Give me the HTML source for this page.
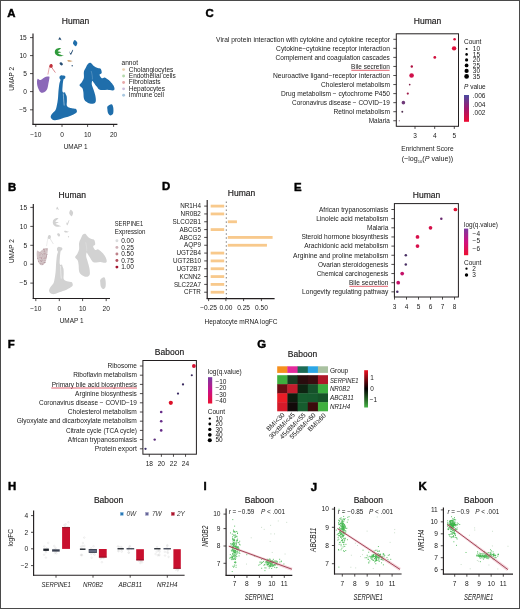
<!DOCTYPE html><html><head><meta charset="utf-8"><style>html,body{margin:0;padding:0;background:#fff;overflow:hidden}svg{display:block;will-change:transform}text{font-family:"Liberation Sans",sans-serif}</style></head><body>
<svg width="520" height="609" viewBox="0 0 520 609">
<rect x="0" y="0" width="520" height="609" fill="#fff"/>
<text x="7.30" y="16.50" font-size="11.4" text-anchor="start" fill="#000" font-weight="bold" stroke="#000" stroke-width="0.45">A</text>
<text x="75.50" y="23.70" font-size="8.5" text-anchor="middle" fill="#1a1a1a" stroke="#231f20" stroke-width="0.18">Human</text>
<g><path d="M59.60,76.50 C59.88,75.95 60.65,75.35 61.30,75.20 C61.95,75.05 62.83,75.42 63.50,75.60 C64.17,75.78 65.05,75.83 65.30,76.30 C65.55,76.77 65.28,77.92 65.00,78.40 C64.72,78.88 63.93,78.60 63.60,79.20 C63.27,79.80 63.17,80.87 63.00,82.00 C62.83,83.13 62.70,84.50 62.60,86.00 C62.50,87.50 62.25,89.90 62.40,91.00 C62.55,92.10 63.08,92.40 63.50,92.60 C63.92,92.80 64.55,91.97 64.90,92.20 C65.25,92.43 65.30,93.28 65.60,94.00 C65.90,94.72 66.48,95.33 66.70,96.50 C66.92,97.67 66.88,99.50 66.90,101.00 C66.92,102.50 66.45,104.42 66.80,105.50 C67.15,106.58 68.13,107.05 69.00,107.50 C69.87,107.95 70.92,107.98 72.00,108.20 C73.08,108.42 74.70,108.42 75.50,108.80 C76.30,109.18 76.63,109.87 76.80,110.50 C76.97,111.13 77.05,111.93 76.50,112.60 C75.95,113.27 74.58,113.93 73.50,114.50 C72.42,115.07 71.25,115.53 70.00,116.00 C68.75,116.47 67.33,116.88 66.00,117.30 C64.67,117.72 63.33,118.08 62.00,118.50 C60.67,118.92 59.25,119.52 58.00,119.80 C56.75,120.08 55.50,120.30 54.50,120.20 C53.50,120.10 52.63,119.70 52.00,119.20 C51.37,118.70 50.83,117.90 50.70,117.20 C50.57,116.50 50.78,115.77 51.20,115.00 C51.62,114.23 52.50,113.40 53.20,112.60 C53.90,111.80 54.85,111.13 55.40,110.20 C55.95,109.27 56.15,108.37 56.50,107.00 C56.85,105.63 57.23,103.67 57.50,102.00 C57.77,100.33 57.95,98.67 58.10,97.00 C58.25,95.33 58.27,93.67 58.40,92.00 C58.53,90.33 58.72,88.50 58.90,87.00 C59.08,85.50 59.23,84.17 59.50,83.00 C59.77,81.83 60.48,80.75 60.50,80.00 C60.52,79.25 59.75,79.08 59.60,78.50 C59.45,77.92 59.32,77.05 59.60,76.50Z" fill="#1f6eab"/>
<path d="M87.90,63.90 C88.72,63.13 89.82,62.57 90.80,62.90 C91.78,63.23 92.65,65.07 93.80,65.90 C94.95,66.73 96.55,67.42 97.70,67.90 C98.85,68.38 100.03,67.95 100.70,68.80 C101.37,69.65 101.90,72.00 101.70,73.00 C101.50,74.00 99.50,73.93 99.50,74.80 C99.50,75.67 100.85,77.75 101.70,78.20 C102.55,78.65 103.62,77.33 104.60,77.50 C105.58,77.67 106.62,78.50 107.60,79.20 C108.58,79.90 109.52,80.63 110.50,81.70 C111.48,82.77 112.83,84.33 113.50,85.60 C114.17,86.87 114.67,88.48 114.50,89.30 C114.33,90.12 113.65,90.42 112.50,90.50 C111.35,90.58 109.23,89.87 107.60,89.80 C105.97,89.73 104.10,90.13 102.70,90.10 C101.30,90.07 100.20,90.18 99.20,89.60 C98.20,89.02 97.60,87.75 96.70,86.60 C95.80,85.45 94.53,83.68 93.80,82.70 C93.07,81.72 92.63,80.38 92.30,80.70 C91.97,81.02 91.60,83.12 91.80,84.60 C92.00,86.08 92.92,87.78 93.50,89.60 C94.08,91.42 94.92,93.57 95.30,95.50 C95.68,97.43 96.05,99.88 95.80,101.20 C95.55,102.52 94.80,103.03 93.80,103.40 C92.80,103.77 91.12,103.73 89.80,103.40 C88.48,103.07 86.88,102.23 85.90,101.40 C84.92,100.57 84.32,99.88 83.90,98.40 C83.48,96.92 83.65,94.20 83.40,92.50 C83.15,90.80 83.05,89.42 82.40,88.20 C81.75,86.98 79.58,86.23 79.50,85.20 C79.42,84.17 81.17,83.25 81.90,82.00 C82.63,80.75 83.57,79.40 83.90,77.70 C84.23,76.00 83.57,73.50 83.90,71.80 C84.23,70.10 85.23,68.82 85.90,67.50 C86.57,66.18 87.08,64.67 87.90,63.90Z" fill="#1f6eab"/>
<path d="M107.60,106.30 C108.28,105.45 110.57,104.03 111.50,104.20 C112.43,104.37 112.92,105.80 113.20,107.30 C113.48,108.80 113.65,111.85 113.20,113.20 C112.75,114.55 111.35,115.40 110.50,115.40 C109.65,115.40 108.62,114.22 108.10,113.20 C107.58,112.18 107.48,110.45 107.40,109.30 C107.32,108.15 106.92,107.15 107.60,106.30Z" fill="#1f6eab"/>
<path d="M74.80,40.00 C75.35,40.05 76.38,41.22 76.80,41.80 C77.22,42.38 77.43,42.77 77.30,43.50 C77.17,44.23 76.47,45.87 76.00,46.20 C75.53,46.53 75.00,45.95 74.50,45.50 C74.00,45.05 73.17,44.17 73.00,43.50 C72.83,42.83 73.20,42.08 73.50,41.50 C73.80,40.92 74.25,39.95 74.80,40.00Z" fill="#1f6eab"/>
<path d="M58.50,39.80 C58.47,39.43 59.32,37.23 59.80,37.30 C60.28,37.37 61.37,39.83 61.40,40.20 C61.43,40.57 60.48,39.57 60.00,39.50 C59.52,39.43 58.53,40.17 58.50,39.80Z" fill="#264d73"/>
<path d="M69.30,50.90 C69.40,50.83 69.97,53.33 70.50,53.20 C71.03,53.07 72.07,50.58 72.50,50.10 C72.93,49.62 73.33,49.53 73.10,50.30 C72.87,51.07 71.63,54.15 71.10,54.70 C70.57,55.25 70.20,54.23 69.90,53.60 C69.60,52.97 69.20,50.97 69.30,50.90Z" fill="#264d73"/>
<path d="M59.60,63.00 C59.78,62.60 60.95,62.23 61.50,62.40 C62.05,62.57 62.85,63.47 62.90,64.00 C62.95,64.53 62.22,65.47 61.80,65.60 C61.38,65.73 60.77,65.23 60.40,64.80 C60.03,64.37 59.42,63.40 59.60,63.00Z" fill="#264d73"/>
<circle cx="72.2" cy="65.8" r="0.7" fill="#264d73"/>
<path d="M63.3,93.5 C63.5,97 63.7,101 64.2,105.5" stroke="#fff" stroke-width="0.55" fill="none" opacity="0.9"/>
<path d="M91.2,71 C92,74 92.6,77 92.4,79.5" stroke="#fff" stroke-width="0.4" fill="none" opacity="0.5"/>
<path d="M61.20,48.50 C61.19,48.37 59.85,47.89 59.50,47.90 C59.15,47.91 57.36,48.42 57.00,48.60 C56.64,48.78 55.38,49.78 55.20,50.10 C55.02,50.42 54.76,52.02 54.80,52.40 C54.84,52.77 55.44,54.29 55.70,54.60 C55.96,54.91 57.50,55.96 57.90,56.10 C58.30,56.24 60.01,56.32 60.50,56.30 C60.99,56.27 63.72,55.92 63.80,55.80 C63.88,55.68 61.77,55.03 61.40,54.90 C61.03,54.77 59.69,54.33 59.40,54.20 C59.11,54.07 57.74,53.47 57.90,53.30 C58.06,53.13 61.27,52.34 61.30,52.20 C61.32,52.06 58.50,51.71 58.20,51.60 C57.90,51.49 57.58,51.07 57.70,50.90 C57.82,50.73 59.31,49.70 59.60,49.50 C59.89,49.30 61.21,48.63 61.20,48.50Z" fill="#2e9a3a"/>
<path d="M67.30,60.60 C67.38,60.33 68.42,60.12 69.00,60.10 C69.58,60.08 70.20,60.33 70.80,60.50 C71.40,60.67 72.60,60.90 72.60,61.10 C72.60,61.30 71.48,61.60 70.80,61.70 C70.12,61.80 69.08,61.88 68.50,61.70 C67.92,61.52 67.22,60.87 67.30,60.60Z" fill="#d0a070"/>
<path d="M37.60,78.90 C38.05,78.60 39.05,80.00 39.70,80.10 C40.35,80.20 40.72,79.95 41.50,79.50 C42.28,79.05 43.42,77.90 44.40,77.40 C45.38,76.90 46.57,76.60 47.40,76.50 C48.23,76.40 49.12,76.20 49.40,76.80 C49.68,77.40 49.30,78.77 49.10,80.10 C48.90,81.43 48.48,83.42 48.20,84.80 C47.92,86.18 47.83,87.32 47.40,88.40 C46.97,89.48 46.40,90.57 45.60,91.30 C44.80,92.03 43.48,92.70 42.60,92.80 C41.72,92.90 40.98,92.55 40.30,91.90 C39.62,91.25 39.00,89.98 38.50,88.90 C38.00,87.82 37.55,86.57 37.30,85.40 C37.05,84.23 36.95,82.98 37.00,81.90 C37.05,80.82 37.15,79.20 37.60,78.90Z" fill="#8b68b8"/>
<path d="M47.9,74.6 C48.6,71 49,68 49.8,66.2" stroke="#c0303a" stroke-width="0.6" fill="none" opacity="0.7"/>
<path d="M51.6,67.2 C52.8,69 54,70.8 55.4,72.6" stroke="#c0303a" stroke-width="0.7" fill="none" opacity="0.8"/>
<path d="M49.30,66.80 C49.15,66.27 49.58,65.07 49.90,64.60 C50.22,64.13 50.75,63.93 51.20,64.00 C51.65,64.07 52.40,64.47 52.60,65.00 C52.80,65.53 52.70,66.73 52.40,67.20 C52.10,67.67 51.32,67.87 50.80,67.80 C50.28,67.73 49.45,67.33 49.30,66.80Z" fill="#c0303a"/></g>
<line x1="33.00" y1="33.50" x2="33.00" y2="124.80" stroke="#231f20" stroke-width="1.15" />
<line x1="32.50" y1="124.30" x2="117.40" y2="124.30" stroke="#231f20" stroke-width="1.15" />
<line x1="30.00" y1="37.60" x2="33.00" y2="37.60" stroke="#231f20" stroke-width="0.8" />
<text x="26.80" y="39.88" font-size="6.6" text-anchor="end" fill="#1a1a1a" >15</text>
<line x1="30.00" y1="55.60" x2="33.00" y2="55.60" stroke="#231f20" stroke-width="0.8" />
<text x="26.80" y="57.88" font-size="6.6" text-anchor="end" fill="#1a1a1a" >10</text>
<line x1="30.00" y1="73.60" x2="33.00" y2="73.60" stroke="#231f20" stroke-width="0.8" />
<text x="26.80" y="75.88" font-size="6.6" text-anchor="end" fill="#1a1a1a" >5</text>
<line x1="30.00" y1="91.60" x2="33.00" y2="91.60" stroke="#231f20" stroke-width="0.8" />
<text x="26.80" y="93.88" font-size="6.6" text-anchor="end" fill="#1a1a1a" >0</text>
<line x1="30.00" y1="109.80" x2="33.00" y2="109.80" stroke="#231f20" stroke-width="0.8" />
<text x="26.80" y="112.08" font-size="6.6" text-anchor="end" fill="#1a1a1a" >−5</text>
<line x1="35.80" y1="124.30" x2="35.80" y2="126.90" stroke="#231f20" stroke-width="0.8" />
<text x="35.80" y="136.70" font-size="6.6" text-anchor="middle" fill="#1a1a1a" >−10</text>
<line x1="62.00" y1="124.30" x2="62.00" y2="126.90" stroke="#231f20" stroke-width="0.8" />
<text x="62.00" y="136.70" font-size="6.6" text-anchor="middle" fill="#1a1a1a" >0</text>
<line x1="87.60" y1="124.30" x2="87.60" y2="126.90" stroke="#231f20" stroke-width="0.8" />
<text x="87.60" y="136.70" font-size="6.6" text-anchor="middle" fill="#1a1a1a" >10</text>
<line x1="113.60" y1="124.30" x2="113.60" y2="126.90" stroke="#231f20" stroke-width="0.8" />
<text x="113.60" y="136.70" font-size="6.6" text-anchor="middle" fill="#1a1a1a" >20</text>
<text x="75.60" y="148.80" font-size="7.5" text-anchor="middle" fill="#1a1a1a" textLength="23.8" lengthAdjust="spacingAndGlyphs">UMAP 1</text>
<text transform="translate(13.9,78.8) rotate(-90)" font-size="7.5" text-anchor="middle" fill="#1a1a1a" textLength="23.8" lengthAdjust="spacingAndGlyphs">UMAP 2</text>
<text x="121.50" y="65.00" font-size="6.5" text-anchor="start" fill="#1a1a1a" textLength="16.5" lengthAdjust="spacingAndGlyphs">annot</text>
<circle cx="123.60" cy="69.60" r="1.45" fill="#ecd3b3" />
<text x="128.80" y="71.60" font-size="6.5" text-anchor="start" fill="#1a1a1a" >Cholangiocytes</text>
<circle cx="123.60" cy="76.02" r="1.45" fill="#b5d9ad" />
<text x="128.80" y="78.02" font-size="6.5" text-anchor="start" fill="#1a1a1a" >Endothelial cells</text>
<circle cx="123.60" cy="82.44" r="1.45" fill="#e7a9aa" />
<text x="128.80" y="84.44" font-size="6.5" text-anchor="start" fill="#1a1a1a" >Fibroblasts</text>
<circle cx="123.60" cy="88.86" r="1.45" fill="#cbbddc" />
<text x="128.80" y="90.86" font-size="6.5" text-anchor="start" fill="#1a1a1a" >Hepatocytes</text>
<circle cx="123.60" cy="95.28" r="1.45" fill="#a9c7df" />
<text x="128.80" y="97.28" font-size="6.5" text-anchor="start" fill="#1a1a1a" >Immune cell</text>
<text x="7.90" y="191.10" font-size="11.4" text-anchor="start" fill="#000" font-weight="bold" stroke="#000" stroke-width="0.45">B</text>
<text x="72.30" y="198.00" font-size="8.5" text-anchor="middle" fill="#1a1a1a" stroke="#231f20" stroke-width="0.18">Human</text>
<g transform="translate(59.2,264.2) scale(0.9035,1.053) translate(-61.9,-91.8)"><path d="M59.60,76.50 C59.88,75.95 60.65,75.35 61.30,75.20 C61.95,75.05 62.83,75.42 63.50,75.60 C64.17,75.78 65.05,75.83 65.30,76.30 C65.55,76.77 65.28,77.92 65.00,78.40 C64.72,78.88 63.93,78.60 63.60,79.20 C63.27,79.80 63.17,80.87 63.00,82.00 C62.83,83.13 62.70,84.50 62.60,86.00 C62.50,87.50 62.25,89.90 62.40,91.00 C62.55,92.10 63.08,92.40 63.50,92.60 C63.92,92.80 64.55,91.97 64.90,92.20 C65.25,92.43 65.30,93.28 65.60,94.00 C65.90,94.72 66.48,95.33 66.70,96.50 C66.92,97.67 66.88,99.50 66.90,101.00 C66.92,102.50 66.45,104.42 66.80,105.50 C67.15,106.58 68.13,107.05 69.00,107.50 C69.87,107.95 70.92,107.98 72.00,108.20 C73.08,108.42 74.70,108.42 75.50,108.80 C76.30,109.18 76.63,109.87 76.80,110.50 C76.97,111.13 77.05,111.93 76.50,112.60 C75.95,113.27 74.58,113.93 73.50,114.50 C72.42,115.07 71.25,115.53 70.00,116.00 C68.75,116.47 67.33,116.88 66.00,117.30 C64.67,117.72 63.33,118.08 62.00,118.50 C60.67,118.92 59.25,119.52 58.00,119.80 C56.75,120.08 55.50,120.30 54.50,120.20 C53.50,120.10 52.63,119.70 52.00,119.20 C51.37,118.70 50.83,117.90 50.70,117.20 C50.57,116.50 50.78,115.77 51.20,115.00 C51.62,114.23 52.50,113.40 53.20,112.60 C53.90,111.80 54.85,111.13 55.40,110.20 C55.95,109.27 56.15,108.37 56.50,107.00 C56.85,105.63 57.23,103.67 57.50,102.00 C57.77,100.33 57.95,98.67 58.10,97.00 C58.25,95.33 58.27,93.67 58.40,92.00 C58.53,90.33 58.72,88.50 58.90,87.00 C59.08,85.50 59.23,84.17 59.50,83.00 C59.77,81.83 60.48,80.75 60.50,80.00 C60.52,79.25 59.75,79.08 59.60,78.50 C59.45,77.92 59.32,77.05 59.60,76.50Z" fill="#d2d2d2"/>
<path d="M87.90,63.90 C88.72,63.13 89.82,62.57 90.80,62.90 C91.78,63.23 92.65,65.07 93.80,65.90 C94.95,66.73 96.55,67.42 97.70,67.90 C98.85,68.38 100.03,67.95 100.70,68.80 C101.37,69.65 101.90,72.00 101.70,73.00 C101.50,74.00 99.50,73.93 99.50,74.80 C99.50,75.67 100.85,77.75 101.70,78.20 C102.55,78.65 103.62,77.33 104.60,77.50 C105.58,77.67 106.62,78.50 107.60,79.20 C108.58,79.90 109.52,80.63 110.50,81.70 C111.48,82.77 112.83,84.33 113.50,85.60 C114.17,86.87 114.67,88.48 114.50,89.30 C114.33,90.12 113.65,90.42 112.50,90.50 C111.35,90.58 109.23,89.87 107.60,89.80 C105.97,89.73 104.10,90.13 102.70,90.10 C101.30,90.07 100.20,90.18 99.20,89.60 C98.20,89.02 97.60,87.75 96.70,86.60 C95.80,85.45 94.53,83.68 93.80,82.70 C93.07,81.72 92.63,80.38 92.30,80.70 C91.97,81.02 91.60,83.12 91.80,84.60 C92.00,86.08 92.92,87.78 93.50,89.60 C94.08,91.42 94.92,93.57 95.30,95.50 C95.68,97.43 96.05,99.88 95.80,101.20 C95.55,102.52 94.80,103.03 93.80,103.40 C92.80,103.77 91.12,103.73 89.80,103.40 C88.48,103.07 86.88,102.23 85.90,101.40 C84.92,100.57 84.32,99.88 83.90,98.40 C83.48,96.92 83.65,94.20 83.40,92.50 C83.15,90.80 83.05,89.42 82.40,88.20 C81.75,86.98 79.58,86.23 79.50,85.20 C79.42,84.17 81.17,83.25 81.90,82.00 C82.63,80.75 83.57,79.40 83.90,77.70 C84.23,76.00 83.57,73.50 83.90,71.80 C84.23,70.10 85.23,68.82 85.90,67.50 C86.57,66.18 87.08,64.67 87.90,63.90Z" fill="#d2d2d2"/>
<path d="M107.60,106.30 C108.28,105.45 110.57,104.03 111.50,104.20 C112.43,104.37 112.92,105.80 113.20,107.30 C113.48,108.80 113.65,111.85 113.20,113.20 C112.75,114.55 111.35,115.40 110.50,115.40 C109.65,115.40 108.62,114.22 108.10,113.20 C107.58,112.18 107.48,110.45 107.40,109.30 C107.32,108.15 106.92,107.15 107.60,106.30Z" fill="#d2d2d2"/>
<path d="M74.80,40.00 C75.35,40.05 76.38,41.22 76.80,41.80 C77.22,42.38 77.43,42.77 77.30,43.50 C77.17,44.23 76.47,45.87 76.00,46.20 C75.53,46.53 75.00,45.95 74.50,45.50 C74.00,45.05 73.17,44.17 73.00,43.50 C72.83,42.83 73.20,42.08 73.50,41.50 C73.80,40.92 74.25,39.95 74.80,40.00Z" fill="#d2d2d2"/>
<path d="M58.50,39.80 C58.47,39.43 59.32,37.23 59.80,37.30 C60.28,37.37 61.37,39.83 61.40,40.20 C61.43,40.57 60.48,39.57 60.00,39.50 C59.52,39.43 58.53,40.17 58.50,39.80Z" fill="#d2d2d2"/>
<path d="M69.30,50.90 C69.40,50.83 69.97,53.33 70.50,53.20 C71.03,53.07 72.07,50.58 72.50,50.10 C72.93,49.62 73.33,49.53 73.10,50.30 C72.87,51.07 71.63,54.15 71.10,54.70 C70.57,55.25 70.20,54.23 69.90,53.60 C69.60,52.97 69.20,50.97 69.30,50.90Z" fill="#d2d2d2"/>
<path d="M59.60,63.00 C59.78,62.60 60.95,62.23 61.50,62.40 C62.05,62.57 62.85,63.47 62.90,64.00 C62.95,64.53 62.22,65.47 61.80,65.60 C61.38,65.73 60.77,65.23 60.40,64.80 C60.03,64.37 59.42,63.40 59.60,63.00Z" fill="#d2d2d2"/>
<circle cx="72.2" cy="65.8" r="0.7" fill="#d2d2d2"/>
<path d="M63.3,93.5 C63.5,97 63.7,101 64.2,105.5" stroke="#fff" stroke-width="0.55" fill="none" opacity="0.9"/>
<path d="M91.2,71 C92,74 92.6,77 92.4,79.5" stroke="#fff" stroke-width="0.4" fill="none" opacity="0.5"/>
<path d="M61.20,48.50 C61.19,48.37 59.85,47.89 59.50,47.90 C59.15,47.91 57.36,48.42 57.00,48.60 C56.64,48.78 55.38,49.78 55.20,50.10 C55.02,50.42 54.76,52.02 54.80,52.40 C54.84,52.77 55.44,54.29 55.70,54.60 C55.96,54.91 57.50,55.96 57.90,56.10 C58.30,56.24 60.01,56.32 60.50,56.30 C60.99,56.27 63.72,55.92 63.80,55.80 C63.88,55.68 61.77,55.03 61.40,54.90 C61.03,54.77 59.69,54.33 59.40,54.20 C59.11,54.07 57.74,53.47 57.90,53.30 C58.06,53.13 61.27,52.34 61.30,52.20 C61.32,52.06 58.50,51.71 58.20,51.60 C57.90,51.49 57.58,51.07 57.70,50.90 C57.82,50.73 59.31,49.70 59.60,49.50 C59.89,49.30 61.21,48.63 61.20,48.50Z" fill="#d2d2d2"/>
<path d="M67.30,60.60 C67.38,60.33 68.42,60.12 69.00,60.10 C69.58,60.08 70.20,60.33 70.80,60.50 C71.40,60.67 72.60,60.90 72.60,61.10 C72.60,61.30 71.48,61.60 70.80,61.70 C70.12,61.80 69.08,61.88 68.50,61.70 C67.92,61.52 67.22,60.87 67.30,60.60Z" fill="#d2d2d2"/>
<path d="M37.60,78.90 C38.05,78.60 39.05,80.00 39.70,80.10 C40.35,80.20 40.72,79.95 41.50,79.50 C42.28,79.05 43.42,77.90 44.40,77.40 C45.38,76.90 46.57,76.60 47.40,76.50 C48.23,76.40 49.12,76.20 49.40,76.80 C49.68,77.40 49.30,78.77 49.10,80.10 C48.90,81.43 48.48,83.42 48.20,84.80 C47.92,86.18 47.83,87.32 47.40,88.40 C46.97,89.48 46.40,90.57 45.60,91.30 C44.80,92.03 43.48,92.70 42.60,92.80 C41.72,92.90 40.98,92.55 40.30,91.90 C39.62,91.25 39.00,89.98 38.50,88.90 C38.00,87.82 37.55,86.57 37.30,85.40 C37.05,84.23 36.95,82.98 37.00,81.90 C37.05,80.82 37.15,79.20 37.60,78.90Z" fill="#d3c6c8"/>
<path d="M47.9,74.6 C48.6,71 49,68 49.8,66.2" stroke="#d2d2d2" stroke-width="0.6" fill="none" opacity="0.7"/>
<path d="M51.6,67.2 C52.8,69 54,70.8 55.4,72.6" stroke="#d2d2d2" stroke-width="0.7" fill="none" opacity="0.8"/>
<path d="M49.30,66.80 C49.15,66.27 49.58,65.07 49.90,64.60 C50.22,64.13 50.75,63.93 51.20,64.00 C51.65,64.07 52.40,64.47 52.60,65.00 C52.80,65.53 52.70,66.73 52.40,67.20 C52.10,67.67 51.32,67.87 50.80,67.80 C50.28,67.73 49.45,67.33 49.30,66.80Z" fill="#d2d2d2"/></g>
<circle cx="40.00" cy="257.21" r="0.50" fill="#b4929a" />
<circle cx="41.38" cy="258.16" r="0.50" fill="#c2a8ad" />
<circle cx="44.07" cy="249.55" r="0.50" fill="#aa8a92" />
<circle cx="40.22" cy="252.25" r="0.50" fill="#c2a8ad" />
<circle cx="46.28" cy="256.12" r="0.50" fill="#aa8a92" />
<circle cx="44.21" cy="250.91" r="0.50" fill="#c2a8ad" />
<circle cx="44.17" cy="262.39" r="0.50" fill="#aa8a92" />
<circle cx="42.99" cy="260.36" r="0.50" fill="#c2a8ad" />
<circle cx="44.55" cy="249.52" r="0.50" fill="#c8b0b4" />
<circle cx="45.46" cy="257.96" r="0.50" fill="#b4929a" />
<circle cx="46.59" cy="256.06" r="0.50" fill="#b4929a" />
<circle cx="45.05" cy="262.56" r="0.50" fill="#aa8a92" />
<circle cx="41.65" cy="261.31" r="0.50" fill="#aa8a92" />
<circle cx="42.17" cy="263.47" r="0.50" fill="#c2a8ad" />
<circle cx="46.73" cy="250.06" r="0.50" fill="#c8b0b4" />
<circle cx="38.93" cy="251.97" r="0.50" fill="#c2a8ad" />
<circle cx="44.08" cy="253.32" r="0.50" fill="#b4929a" />
<circle cx="42.83" cy="254.67" r="0.50" fill="#aa8a92" />
<circle cx="41.18" cy="257.86" r="0.50" fill="#c2a8ad" />
<circle cx="43.63" cy="262.97" r="0.50" fill="#c8b0b4" />
<circle cx="44.55" cy="251.11" r="0.50" fill="#aa8a92" />
<circle cx="45.00" cy="251.88" r="0.50" fill="#c2a8ad" />
<circle cx="46.23" cy="257.68" r="0.50" fill="#b4929a" />
<circle cx="38.43" cy="261.31" r="0.50" fill="#b4929a" />
<circle cx="41.81" cy="250.91" r="0.50" fill="#c2a8ad" />
<circle cx="40.59" cy="260.80" r="0.50" fill="#aa8a92" />
<circle cx="46.66" cy="249.21" r="0.50" fill="#c2a8ad" />
<circle cx="43.95" cy="249.22" r="0.50" fill="#aa8a92" />
<circle cx="45.04" cy="253.80" r="0.50" fill="#aa8a92" />
<circle cx="42.81" cy="264.48" r="0.50" fill="#b4929a" />
<circle cx="43.80" cy="249.00" r="0.50" fill="#aa8a92" />
<circle cx="39.57" cy="255.03" r="0.50" fill="#c2a8ad" />
<circle cx="43.91" cy="251.00" r="0.50" fill="#c8b0b4" />
<circle cx="40.80" cy="263.84" r="0.50" fill="#aa8a92" />
<circle cx="46.91" cy="254.54" r="0.50" fill="#aa8a92" />
<circle cx="42.33" cy="256.82" r="0.50" fill="#c8b0b4" />
<circle cx="44.26" cy="258.03" r="0.50" fill="#aa8a92" />
<circle cx="43.37" cy="258.42" r="0.50" fill="#c8b0b4" />
<circle cx="42.03" cy="260.02" r="0.50" fill="#aa8a92" />
<circle cx="40.00" cy="253.32" r="0.50" fill="#c8b0b4" />
<circle cx="41.86" cy="257.78" r="0.50" fill="#c8b0b4" />
<circle cx="37.71" cy="258.35" r="0.50" fill="#b4929a" />
<circle cx="44.14" cy="249.46" r="0.50" fill="#c8b0b4" />
<circle cx="44.09" cy="255.96" r="0.50" fill="#c2a8ad" />
<circle cx="44.63" cy="254.14" r="0.50" fill="#c2a8ad" />
<circle cx="44.92" cy="260.31" r="0.50" fill="#b4929a" />
<circle cx="40.14" cy="255.80" r="0.50" fill="#c8b0b4" />
<circle cx="43.72" cy="253.62" r="0.50" fill="#c8b0b4" />
<circle cx="41.32" cy="253.50" r="0.50" fill="#c2a8ad" />
<circle cx="41.38" cy="258.03" r="0.50" fill="#b4929a" />
<circle cx="40.65" cy="254.53" r="0.50" fill="#c8b0b4" />
<line x1="33.30" y1="204.00" x2="33.30" y2="299.00" stroke="#231f20" stroke-width="1.15" />
<line x1="32.80" y1="298.50" x2="110.00" y2="298.50" stroke="#231f20" stroke-width="1.15" />
<line x1="30.30" y1="207.40" x2="33.30" y2="207.40" stroke="#231f20" stroke-width="0.8" />
<text x="27.10" y="209.68" font-size="6.6" text-anchor="end" fill="#1a1a1a" >15</text>
<line x1="30.30" y1="226.40" x2="33.30" y2="226.40" stroke="#231f20" stroke-width="0.8" />
<text x="27.10" y="228.68" font-size="6.6" text-anchor="end" fill="#1a1a1a" >10</text>
<line x1="30.30" y1="245.30" x2="33.30" y2="245.30" stroke="#231f20" stroke-width="0.8" />
<text x="27.10" y="247.58" font-size="6.6" text-anchor="end" fill="#1a1a1a" >5</text>
<line x1="30.30" y1="264.20" x2="33.30" y2="264.20" stroke="#231f20" stroke-width="0.8" />
<text x="27.10" y="266.48" font-size="6.6" text-anchor="end" fill="#1a1a1a" >0</text>
<line x1="30.30" y1="283.10" x2="33.30" y2="283.10" stroke="#231f20" stroke-width="0.8" />
<text x="27.10" y="285.38" font-size="6.6" text-anchor="end" fill="#1a1a1a" >−5</text>
<line x1="35.80" y1="298.50" x2="35.80" y2="301.10" stroke="#231f20" stroke-width="0.8" />
<text x="35.80" y="310.90" font-size="6.6" text-anchor="middle" fill="#1a1a1a" >−10</text>
<line x1="59.30" y1="298.50" x2="59.30" y2="301.10" stroke="#231f20" stroke-width="0.8" />
<text x="59.30" y="310.90" font-size="6.6" text-anchor="middle" fill="#1a1a1a" >0</text>
<line x1="82.60" y1="298.50" x2="82.60" y2="301.10" stroke="#231f20" stroke-width="0.8" />
<text x="82.60" y="310.90" font-size="6.6" text-anchor="middle" fill="#1a1a1a" >10</text>
<line x1="106.20" y1="298.50" x2="106.20" y2="301.10" stroke="#231f20" stroke-width="0.8" />
<text x="106.20" y="310.90" font-size="6.6" text-anchor="middle" fill="#1a1a1a" >20</text>
<text x="71.60" y="322.70" font-size="7.5" text-anchor="middle" fill="#1a1a1a" textLength="23.8" lengthAdjust="spacingAndGlyphs">UMAP 1</text>
<text transform="translate(13.9,251.2) rotate(-90)" font-size="7.5" text-anchor="middle" fill="#1a1a1a" textLength="23.8" lengthAdjust="spacingAndGlyphs">UMAP 2</text>
<text x="114.80" y="226.20" font-size="6.5" text-anchor="start" fill="#1a1a1a" textLength="28.3" lengthAdjust="spacingAndGlyphs">SERPINE1</text>
<text x="114.80" y="233.50" font-size="6.5" text-anchor="start" fill="#1a1a1a" textLength="30.6" lengthAdjust="spacingAndGlyphs">Expression</text>
<circle cx="116.90" cy="240.80" r="1.45" fill="#d9dcdd" />
<text x="121.20" y="243.04" font-size="6.5" text-anchor="start" fill="#1a1a1a" >0.00</text>
<circle cx="116.90" cy="247.38" r="1.45" fill="#cfb1b6" />
<text x="121.20" y="249.62" font-size="6.5" text-anchor="start" fill="#1a1a1a" >0.25</text>
<circle cx="116.90" cy="253.96" r="1.45" fill="#bf838b" />
<text x="121.20" y="256.20" font-size="6.5" text-anchor="start" fill="#1a1a1a" >0.50</text>
<circle cx="116.90" cy="260.54" r="1.45" fill="#b2505e" />
<text x="121.20" y="262.78" font-size="6.5" text-anchor="start" fill="#1a1a1a" >0.75</text>
<circle cx="116.90" cy="267.12" r="1.45" fill="#a3132e" />
<text x="121.20" y="269.36" font-size="6.5" text-anchor="start" fill="#1a1a1a" >1.00</text>
<text x="205.50" y="16.80" font-size="11.4" text-anchor="start" fill="#000" font-weight="bold" stroke="#000" stroke-width="0.45">C</text>
<text x="427.50" y="23.70" font-size="8.5" text-anchor="middle" fill="#1a1a1a" stroke="#231f20" stroke-width="0.18">Human</text>
<rect x="396.30" y="33.80" width="62.20" height="92.50" fill="none" stroke="#231f20" stroke-width="1"/>
<line x1="393.30" y1="39.30" x2="396.30" y2="39.30" stroke="#231f20" stroke-width="0.8" />
<text x="389.90" y="41.56" font-size="6.55" text-anchor="end" fill="#1a1a1a" textLength="173.8" lengthAdjust="spacingAndGlyphs">Viral protein interaction with cytokine and cytokine receptor</text>
<line x1="393.30" y1="48.35" x2="396.30" y2="48.35" stroke="#231f20" stroke-width="0.8" />
<text x="389.90" y="50.61" font-size="6.55" text-anchor="end" fill="#1a1a1a" textLength="113.8" lengthAdjust="spacingAndGlyphs">Cytokine−cytokine receptor interaction</text>
<line x1="393.30" y1="57.40" x2="396.30" y2="57.40" stroke="#231f20" stroke-width="0.8" />
<text x="389.90" y="59.66" font-size="6.55" text-anchor="end" fill="#1a1a1a" textLength="114.3" lengthAdjust="spacingAndGlyphs">Complement and coagulation cascades</text>
<line x1="393.30" y1="66.45" x2="396.30" y2="66.45" stroke="#231f20" stroke-width="0.8" />
<text x="389.90" y="68.71" font-size="6.55" text-anchor="end" fill="#1a1a1a" textLength="38.8" lengthAdjust="spacingAndGlyphs">Bile secretion</text>
<line x1="393.30" y1="75.50" x2="396.30" y2="75.50" stroke="#231f20" stroke-width="0.8" />
<text x="389.90" y="77.76" font-size="6.55" text-anchor="end" fill="#1a1a1a" textLength="117.0" lengthAdjust="spacingAndGlyphs">Neuroactive ligand−receptor interaction</text>
<line x1="393.30" y1="84.55" x2="396.30" y2="84.55" stroke="#231f20" stroke-width="0.8" />
<text x="389.90" y="86.81" font-size="6.55" text-anchor="end" fill="#1a1a1a" textLength="68.8" lengthAdjust="spacingAndGlyphs">Cholesterol metabolism</text>
<line x1="393.30" y1="93.60" x2="396.30" y2="93.60" stroke="#231f20" stroke-width="0.8" />
<text x="389.90" y="95.86" font-size="6.55" text-anchor="end" fill="#1a1a1a" textLength="108.9" lengthAdjust="spacingAndGlyphs">Drug metabolism − cytochrome P450</text>
<line x1="393.30" y1="102.65" x2="396.30" y2="102.65" stroke="#231f20" stroke-width="0.8" />
<text x="389.90" y="104.91" font-size="6.55" text-anchor="end" fill="#1a1a1a" textLength="97.8" lengthAdjust="spacingAndGlyphs">Coronavirus disease − COVID−19</text>
<line x1="393.30" y1="111.70" x2="396.30" y2="111.70" stroke="#231f20" stroke-width="0.8" />
<text x="389.90" y="113.96" font-size="6.55" text-anchor="end" fill="#1a1a1a" textLength="56.3" lengthAdjust="spacingAndGlyphs">Retinol metabolism</text>
<line x1="393.30" y1="120.75" x2="396.30" y2="120.75" stroke="#231f20" stroke-width="0.8" />
<text x="389.90" y="123.01" font-size="6.55" text-anchor="end" fill="#1a1a1a" textLength="21.2" lengthAdjust="spacingAndGlyphs">Malaria</text>
<line x1="351.30" y1="70.30" x2="389.60" y2="70.30" stroke="#e05060" stroke-width="0.9" />
<circle cx="454.60" cy="39.30" r="1.30" fill="#d8103c" />
<circle cx="454.10" cy="48.35" r="2.20" fill="#e0103c" />
<circle cx="434.80" cy="57.40" r="1.40" fill="#d0103c" />
<circle cx="411.80" cy="66.45" r="1.20" fill="#b01040" />
<circle cx="411.60" cy="75.50" r="2.30" fill="#d0104a" />
<circle cx="409.70" cy="84.55" r="0.85" fill="#802048" />
<circle cx="407.80" cy="93.60" r="1.10" fill="#a01848" />
<circle cx="403.40" cy="102.65" r="1.80" fill="#703a7a" />
<circle cx="402.30" cy="111.70" r="0.95" fill="#503050" />
<circle cx="399.30" cy="120.75" r="0.55" fill="#604060" />
<line x1="415.00" y1="126.30" x2="415.00" y2="128.90" stroke="#231f20" stroke-width="0.8" />
<text x="415.00" y="138.20" font-size="6.5" text-anchor="middle" fill="#1a1a1a" >3</text>
<line x1="434.70" y1="126.30" x2="434.70" y2="128.90" stroke="#231f20" stroke-width="0.8" />
<text x="434.70" y="138.20" font-size="6.5" text-anchor="middle" fill="#1a1a1a" >4</text>
<line x1="454.30" y1="126.30" x2="454.30" y2="128.90" stroke="#231f20" stroke-width="0.8" />
<text x="454.30" y="138.20" font-size="6.5" text-anchor="middle" fill="#1a1a1a" >5</text>
<text x="427.40" y="151.30" font-size="7.7" text-anchor="middle" fill="#1a1a1a" textLength="52.3" lengthAdjust="spacingAndGlyphs">Enrichment Score</text>
<text x="427.4" y="161.2" font-size="7.6" text-anchor="middle" fill="#1a1a1a" textLength="51.5" lengthAdjust="spacingAndGlyphs">(−log<tspan font-size="4.4" dy="1.6">10</tspan><tspan dy="-1.6">(</tspan><tspan font-style="italic">P</tspan> value))</text>
<text x="464.00" y="43.50" font-size="6.5" text-anchor="start" fill="#1a1a1a" >Count</text>
<circle cx="466.60" cy="48.90" r="0.95" fill="#000" />
<text x="472.80" y="51.14" font-size="6.5" text-anchor="start" fill="#1a1a1a" >10</text>
<circle cx="466.60" cy="54.40" r="1.30" fill="#000" />
<text x="472.80" y="56.64" font-size="6.5" text-anchor="start" fill="#1a1a1a" >15</text>
<circle cx="466.60" cy="59.90" r="1.60" fill="#000" />
<text x="472.80" y="62.14" font-size="6.5" text-anchor="start" fill="#1a1a1a" >20</text>
<circle cx="466.60" cy="65.40" r="1.85" fill="#000" />
<text x="472.80" y="67.64" font-size="6.5" text-anchor="start" fill="#1a1a1a" >25</text>
<circle cx="466.60" cy="70.90" r="2.10" fill="#000" />
<text x="472.80" y="73.14" font-size="6.5" text-anchor="start" fill="#1a1a1a" >30</text>
<circle cx="466.60" cy="76.40" r="2.35" fill="#000" />
<text x="472.80" y="78.64" font-size="6.5" text-anchor="start" fill="#1a1a1a" >35</text>
<text x="464" y="89.3" font-size="6.5" fill="#1a1a1a"><tspan font-style="italic">P</tspan> value</text>
<defs><linearGradient id="gC" x1="0" y1="0" x2="0" y2="1"><stop offset="0" stop-color="#4a4aa0"/><stop offset="0.5" stop-color="#a0186e"/><stop offset="1" stop-color="#ee0a32"/></linearGradient></defs>
<rect x="464.00" y="95.00" width="5.00" height="26.80" fill="url(#gC)" />
<text x="472.80" y="98.04" font-size="6.5" text-anchor="start" fill="#1a1a1a" >.006</text>
<text x="472.80" y="106.54" font-size="6.5" text-anchor="start" fill="#1a1a1a" >.004</text>
<text x="472.80" y="115.24" font-size="6.5" text-anchor="start" fill="#1a1a1a" >.002</text>
<text x="161.90" y="189.50" font-size="11.4" text-anchor="start" fill="#000" font-weight="bold" stroke="#000" stroke-width="0.45">D</text>
<text x="241.50" y="195.80" font-size="8.5" text-anchor="middle" fill="#1a1a1a" stroke="#231f20" stroke-width="0.18">Human</text>
<rect x="210.67" y="204.70" width="13.53" height="2.80" fill="#f8c98c" />
<line x1="204.20" y1="206.10" x2="207.20" y2="206.10" stroke="#231f20" stroke-width="0.8" />
<text x="200.90" y="208.27" font-size="6.3" text-anchor="end" fill="#1a1a1a" >NR1H4</text>
<rect x="210.67" y="212.53" width="13.53" height="2.80" fill="#f8c98c" />
<line x1="204.20" y1="213.93" x2="207.20" y2="213.93" stroke="#231f20" stroke-width="0.8" />
<text x="200.90" y="216.10" font-size="6.3" text-anchor="end" fill="#1a1a1a" >NR0B2</text>
<rect x="227.80" y="220.36" width="9.14" height="2.80" fill="#f8c98c" />
<line x1="204.20" y1="221.76" x2="207.20" y2="221.76" stroke="#231f20" stroke-width="0.8" />
<text x="200.90" y="223.93" font-size="6.3" text-anchor="end" fill="#1a1a1a" >SLCO2B1</text>
<rect x="210.67" y="228.19" width="13.53" height="2.80" fill="#f8c98c" />
<line x1="204.20" y1="229.59" x2="207.20" y2="229.59" stroke="#231f20" stroke-width="0.8" />
<text x="200.90" y="231.76" font-size="6.3" text-anchor="end" fill="#1a1a1a" >ABCG5</text>
<rect x="227.80" y="236.02" width="44.80" height="2.80" fill="#f8c98c" />
<line x1="204.20" y1="237.42" x2="207.20" y2="237.42" stroke="#231f20" stroke-width="0.8" />
<text x="200.90" y="239.59" font-size="6.3" text-anchor="end" fill="#1a1a1a" >ABCG2</text>
<rect x="227.80" y="243.85" width="39.15" height="2.80" fill="#f8c98c" />
<line x1="204.20" y1="245.25" x2="207.20" y2="245.25" stroke="#231f20" stroke-width="0.8" />
<text x="200.90" y="247.42" font-size="6.3" text-anchor="end" fill="#1a1a1a" >AQP9</text>
<rect x="210.67" y="251.68" width="13.53" height="2.80" fill="#f8c98c" />
<line x1="204.20" y1="253.08" x2="207.20" y2="253.08" stroke="#231f20" stroke-width="0.8" />
<text x="200.90" y="255.25" font-size="6.3" text-anchor="end" fill="#1a1a1a" >UGT2B4</text>
<rect x="210.67" y="259.51" width="13.53" height="2.80" fill="#f8c98c" />
<line x1="204.20" y1="260.91" x2="207.20" y2="260.91" stroke="#231f20" stroke-width="0.8" />
<text x="200.90" y="263.08" font-size="6.3" text-anchor="end" fill="#1a1a1a" >UGT2B10</text>
<rect x="210.67" y="267.34" width="13.53" height="2.80" fill="#f8c98c" />
<line x1="204.20" y1="268.74" x2="207.20" y2="268.74" stroke="#231f20" stroke-width="0.8" />
<text x="200.90" y="270.91" font-size="6.3" text-anchor="end" fill="#1a1a1a" >UGT2B7</text>
<rect x="210.67" y="275.17" width="13.53" height="2.80" fill="#f8c98c" />
<line x1="204.20" y1="276.57" x2="207.20" y2="276.57" stroke="#231f20" stroke-width="0.8" />
<text x="200.90" y="278.74" font-size="6.3" text-anchor="end" fill="#1a1a1a" >KCNN2</text>
<rect x="210.67" y="283.00" width="13.53" height="2.80" fill="#f8c98c" />
<line x1="204.20" y1="284.40" x2="207.20" y2="284.40" stroke="#231f20" stroke-width="0.8" />
<text x="200.90" y="286.57" font-size="6.3" text-anchor="end" fill="#1a1a1a" >SLC22A7</text>
<rect x="210.67" y="290.83" width="13.53" height="2.80" fill="#f8c98c" />
<line x1="204.20" y1="292.23" x2="207.20" y2="292.23" stroke="#231f20" stroke-width="0.8" />
<text x="200.90" y="294.40" font-size="6.3" text-anchor="end" fill="#1a1a1a" >CFTR</text>
<line x1="226.30" y1="201.65" x2="226.30" y2="298.60" stroke="#3a3a3a" stroke-width="0.9" stroke-dasharray="1.1,2.88"/>
<line x1="207.20" y1="200.00" x2="207.20" y2="299.10" stroke="#231f20" stroke-width="1.15" />
<line x1="206.70" y1="298.60" x2="274.60" y2="298.60" stroke="#231f20" stroke-width="1.15" />
<line x1="208.60" y1="298.60" x2="208.60" y2="301.10" stroke="#231f20" stroke-width="0.8" />
<text x="208.60" y="310.08" font-size="6.6" text-anchor="middle" fill="#1a1a1a" >−0.25</text>
<line x1="225.90" y1="298.60" x2="225.90" y2="301.10" stroke="#231f20" stroke-width="0.8" />
<text x="225.90" y="310.08" font-size="6.6" text-anchor="middle" fill="#1a1a1a" >0.00</text>
<line x1="243.60" y1="298.60" x2="243.60" y2="301.10" stroke="#231f20" stroke-width="0.8" />
<text x="243.60" y="310.08" font-size="6.6" text-anchor="middle" fill="#1a1a1a" >0.25</text>
<line x1="261.40" y1="298.60" x2="261.40" y2="301.10" stroke="#231f20" stroke-width="0.8" />
<text x="261.40" y="310.08" font-size="6.6" text-anchor="middle" fill="#1a1a1a" >0.50</text>
<text x="241.00" y="323.60" font-size="8.0" text-anchor="middle" fill="#1a1a1a" textLength="73" lengthAdjust="spacingAndGlyphs">Hepatocyte mRNA logFC</text>
<text x="293.90" y="191.40" font-size="11.4" text-anchor="start" fill="#000" font-weight="bold" stroke="#000" stroke-width="0.45">E</text>
<text x="426.50" y="197.80" font-size="8.5" text-anchor="middle" fill="#1a1a1a" stroke="#231f20" stroke-width="0.18">Human</text>
<rect x="394.40" y="203.60" width="64.00" height="93.40" fill="none" stroke="#231f20" stroke-width="1"/>
<line x1="391.40" y1="209.50" x2="394.40" y2="209.50" stroke="#231f20" stroke-width="0.8" />
<text x="388.30" y="211.76" font-size="6.55" text-anchor="end" fill="#1a1a1a" textLength="69.3" lengthAdjust="spacingAndGlyphs">African trypanosomiasis</text>
<line x1="391.40" y1="218.65" x2="394.40" y2="218.65" stroke="#231f20" stroke-width="0.8" />
<text x="388.30" y="220.91" font-size="6.55" text-anchor="end" fill="#1a1a1a" textLength="72.1" lengthAdjust="spacingAndGlyphs">Linoleic acid metabolism</text>
<line x1="391.40" y1="227.80" x2="394.40" y2="227.80" stroke="#231f20" stroke-width="0.8" />
<text x="388.30" y="230.06" font-size="6.55" text-anchor="end" fill="#1a1a1a" textLength="21.3" lengthAdjust="spacingAndGlyphs">Malaria</text>
<line x1="391.40" y1="236.95" x2="394.40" y2="236.95" stroke="#231f20" stroke-width="0.8" />
<text x="388.30" y="239.21" font-size="6.55" text-anchor="end" fill="#1a1a1a" textLength="86.9" lengthAdjust="spacingAndGlyphs">Steroid hormone biosynthesis</text>
<line x1="391.40" y1="246.10" x2="394.40" y2="246.10" stroke="#231f20" stroke-width="0.8" />
<text x="388.30" y="248.36" font-size="6.55" text-anchor="end" fill="#1a1a1a" textLength="84.1" lengthAdjust="spacingAndGlyphs">Arachidonic acid metabolism</text>
<line x1="391.40" y1="255.25" x2="394.40" y2="255.25" stroke="#231f20" stroke-width="0.8" />
<text x="388.30" y="257.51" font-size="6.55" text-anchor="end" fill="#1a1a1a" textLength="95.3" lengthAdjust="spacingAndGlyphs">Arginine and proline metabolism</text>
<line x1="391.40" y1="264.40" x2="394.40" y2="264.40" stroke="#231f20" stroke-width="0.8" />
<text x="388.30" y="266.66" font-size="6.55" text-anchor="end" fill="#1a1a1a" textLength="70.4" lengthAdjust="spacingAndGlyphs">Ovarian steroidogenesis</text>
<line x1="391.40" y1="273.55" x2="394.40" y2="273.55" stroke="#231f20" stroke-width="0.8" />
<text x="388.30" y="275.81" font-size="6.55" text-anchor="end" fill="#1a1a1a" textLength="71.6" lengthAdjust="spacingAndGlyphs">Chemical carcinogenesis</text>
<line x1="391.40" y1="282.70" x2="394.40" y2="282.70" stroke="#231f20" stroke-width="0.8" />
<text x="388.30" y="284.96" font-size="6.55" text-anchor="end" fill="#1a1a1a" textLength="39.3" lengthAdjust="spacingAndGlyphs">Bile secretion</text>
<line x1="391.40" y1="291.85" x2="394.40" y2="291.85" stroke="#231f20" stroke-width="0.8" />
<text x="388.30" y="294.11" font-size="6.55" text-anchor="end" fill="#1a1a1a" textLength="86.2" lengthAdjust="spacingAndGlyphs">Longevity regulating pathway</text>
<line x1="349.40" y1="286.30" x2="388.00" y2="286.30" stroke="#e05060" stroke-width="0.9" />
<circle cx="455.40" cy="209.50" r="1.85" fill="#e01034" />
<circle cx="441.30" cy="218.65" r="1.25" fill="#6a2a70" />
<circle cx="430.50" cy="227.80" r="1.85" fill="#d4104a" />
<circle cx="417.50" cy="236.95" r="1.85" fill="#d8104c" />
<circle cx="417.50" cy="246.10" r="1.85" fill="#d8104c" />
<circle cx="405.80" cy="255.25" r="1.25" fill="#4a3064" />
<circle cx="405.80" cy="264.40" r="1.25" fill="#4a3064" />
<circle cx="402.20" cy="273.55" r="1.85" fill="#c41068" />
<circle cx="398.20" cy="282.70" r="1.85" fill="#c41068" />
<circle cx="397.30" cy="291.85" r="1.25" fill="#4a3068" />
<line x1="394.50" y1="297.00" x2="394.50" y2="299.60" stroke="#231f20" stroke-width="0.8" />
<text x="394.50" y="309.24" font-size="6.5" text-anchor="middle" fill="#1a1a1a" >3</text>
<line x1="406.50" y1="297.00" x2="406.50" y2="299.60" stroke="#231f20" stroke-width="0.8" />
<text x="406.50" y="309.24" font-size="6.5" text-anchor="middle" fill="#1a1a1a" >4</text>
<line x1="418.50" y1="297.00" x2="418.50" y2="299.60" stroke="#231f20" stroke-width="0.8" />
<text x="418.50" y="309.24" font-size="6.5" text-anchor="middle" fill="#1a1a1a" >5</text>
<line x1="430.50" y1="297.00" x2="430.50" y2="299.60" stroke="#231f20" stroke-width="0.8" />
<text x="430.50" y="309.24" font-size="6.5" text-anchor="middle" fill="#1a1a1a" >6</text>
<line x1="442.50" y1="297.00" x2="442.50" y2="299.60" stroke="#231f20" stroke-width="0.8" />
<text x="442.50" y="309.24" font-size="6.5" text-anchor="middle" fill="#1a1a1a" >7</text>
<line x1="454.50" y1="297.00" x2="454.50" y2="299.60" stroke="#231f20" stroke-width="0.8" />
<text x="454.50" y="309.24" font-size="6.5" text-anchor="middle" fill="#1a1a1a" >8</text>
<text x="464.00" y="226.60" font-size="6.5" text-anchor="start" fill="#1a1a1a" >log(q.value)</text>
<defs><linearGradient id="gE" x1="0" y1="0" x2="0" y2="1"><stop offset="0" stop-color="#7a3aa0"/><stop offset="0.5" stop-color="#d01080"/><stop offset="1" stop-color="#ec1030"/></linearGradient></defs>
<rect x="464.00" y="228.60" width="4.20" height="26.60" fill="url(#gE)" />
<text x="472.60" y="235.74" font-size="6.5" text-anchor="start" fill="#1a1a1a" >−4</text>
<text x="472.60" y="243.24" font-size="6.5" text-anchor="start" fill="#1a1a1a" >−5</text>
<text x="472.60" y="250.74" font-size="6.5" text-anchor="start" fill="#1a1a1a" >−6</text>
<text x="464.00" y="264.60" font-size="6.5" text-anchor="start" fill="#1a1a1a" >Count</text>
<circle cx="466.50" cy="268.70" r="1.15" fill="#000" />
<text x="472.30" y="270.94" font-size="6.5" text-anchor="start" fill="#1a1a1a" >2</text>
<circle cx="466.50" cy="275.00" r="1.70" fill="#000" />
<text x="472.30" y="277.24" font-size="6.5" text-anchor="start" fill="#1a1a1a" >3</text>
<text x="7.70" y="348.00" font-size="11.4" text-anchor="start" fill="#000" font-weight="bold" stroke="#000" stroke-width="0.45">F</text>
<text x="169.50" y="355.00" font-size="8.5" text-anchor="middle" fill="#1a1a1a" stroke="#231f20" stroke-width="0.18">Baboon</text>
<rect x="142.90" y="360.50" width="53.50" height="93.70" fill="none" stroke="#231f20" stroke-width="1"/>
<line x1="139.90" y1="366.00" x2="142.90" y2="366.00" stroke="#231f20" stroke-width="0.8" />
<text x="136.90" y="368.26" font-size="6.55" text-anchor="end" fill="#1a1a1a" textLength="29.4" lengthAdjust="spacingAndGlyphs">Ribosome</text>
<line x1="139.90" y1="375.20" x2="142.90" y2="375.20" stroke="#231f20" stroke-width="0.8" />
<text x="136.90" y="377.46" font-size="6.55" text-anchor="end" fill="#1a1a1a" textLength="63.7" lengthAdjust="spacingAndGlyphs">Riboflavin metabolism</text>
<line x1="139.90" y1="384.40" x2="142.90" y2="384.40" stroke="#231f20" stroke-width="0.8" />
<text x="136.90" y="386.66" font-size="6.55" text-anchor="end" fill="#1a1a1a" textLength="85.1" lengthAdjust="spacingAndGlyphs">Primary bile acid biosynthesis</text>
<line x1="139.90" y1="393.60" x2="142.90" y2="393.60" stroke="#231f20" stroke-width="0.8" />
<text x="136.90" y="395.86" font-size="6.55" text-anchor="end" fill="#1a1a1a" textLength="61.8" lengthAdjust="spacingAndGlyphs">Arginine biosynthesis</text>
<line x1="139.90" y1="402.80" x2="142.90" y2="402.80" stroke="#231f20" stroke-width="0.8" />
<text x="136.90" y="405.06" font-size="6.55" text-anchor="end" fill="#1a1a1a" textLength="97.9" lengthAdjust="spacingAndGlyphs">Coronavirus disease − COVID−19</text>
<line x1="139.90" y1="412.00" x2="142.90" y2="412.00" stroke="#231f20" stroke-width="0.8" />
<text x="136.90" y="414.26" font-size="6.55" text-anchor="end" fill="#1a1a1a" textLength="69.1" lengthAdjust="spacingAndGlyphs">Cholesterol metabolism</text>
<line x1="139.90" y1="421.20" x2="142.90" y2="421.20" stroke="#231f20" stroke-width="0.8" />
<text x="136.90" y="423.46" font-size="6.55" text-anchor="end" fill="#1a1a1a" textLength="120.2" lengthAdjust="spacingAndGlyphs">Glyoxylate and dicarboxylate metabolism</text>
<line x1="139.90" y1="430.40" x2="142.90" y2="430.40" stroke="#231f20" stroke-width="0.8" />
<text x="136.90" y="432.66" font-size="6.55" text-anchor="end" fill="#1a1a1a" textLength="70.9" lengthAdjust="spacingAndGlyphs">Citrate cycle (TCA cycle)</text>
<line x1="139.90" y1="439.60" x2="142.90" y2="439.60" stroke="#231f20" stroke-width="0.8" />
<text x="136.90" y="441.86" font-size="6.55" text-anchor="end" fill="#1a1a1a" textLength="69.1" lengthAdjust="spacingAndGlyphs">African trypanosomiasis</text>
<line x1="139.90" y1="448.80" x2="142.90" y2="448.80" stroke="#231f20" stroke-width="0.8" />
<text x="136.90" y="451.06" font-size="6.55" text-anchor="end" fill="#1a1a1a" textLength="42.1" lengthAdjust="spacingAndGlyphs">Protein export</text>
<line x1="51.30" y1="388.00" x2="137.00" y2="388.00" stroke="#e05060" stroke-width="0.9" />
<circle cx="193.90" cy="366.00" r="1.90" fill="#d41030" />
<circle cx="191.80" cy="375.20" r="1.05" fill="#3a2a5e" />
<circle cx="183.00" cy="384.40" r="1.15" fill="#3a2a60" />
<circle cx="178.00" cy="393.60" r="1.15" fill="#3a2a64" />
<circle cx="170.80" cy="402.80" r="2.10" fill="#dc1028" />
<circle cx="161.20" cy="412.00" r="1.30" fill="#662c88" />
<circle cx="161.20" cy="421.20" r="1.30" fill="#662c88" />
<circle cx="161.20" cy="430.40" r="1.30" fill="#662c88" />
<circle cx="154.70" cy="439.60" r="1.20" fill="#5a2c7a" />
<circle cx="145.50" cy="448.80" r="1.15" fill="#3a2e66" />
<line x1="149.30" y1="454.20" x2="149.30" y2="456.80" stroke="#231f20" stroke-width="0.8" />
<text x="149.30" y="466.28" font-size="6.6" text-anchor="middle" fill="#1a1a1a" >18</text>
<line x1="161.38" y1="454.20" x2="161.38" y2="456.80" stroke="#231f20" stroke-width="0.8" />
<text x="161.38" y="466.28" font-size="6.6" text-anchor="middle" fill="#1a1a1a" >20</text>
<line x1="173.46" y1="454.20" x2="173.46" y2="456.80" stroke="#231f20" stroke-width="0.8" />
<text x="173.46" y="466.28" font-size="6.6" text-anchor="middle" fill="#1a1a1a" >22</text>
<line x1="185.54" y1="454.20" x2="185.54" y2="456.80" stroke="#231f20" stroke-width="0.8" />
<text x="185.54" y="466.28" font-size="6.6" text-anchor="middle" fill="#1a1a1a" >24</text>
<text x="207.80" y="374.30" font-size="6.5" text-anchor="start" fill="#1a1a1a" >log(q.value)</text>
<defs><linearGradient id="gF" x1="0" y1="0" x2="0" y2="1"><stop offset="0" stop-color="#7a3aa0"/><stop offset="0.5" stop-color="#c8108a"/><stop offset="1" stop-color="#ec1030"/></linearGradient></defs>
<rect x="208.00" y="377.20" width="4.20" height="26.30" fill="url(#gF)" />
<text x="215.40" y="383.84" font-size="6.5" text-anchor="start" fill="#1a1a1a" >−10</text>
<text x="215.40" y="390.24" font-size="6.5" text-anchor="start" fill="#1a1a1a" >−20</text>
<text x="215.40" y="396.54" font-size="6.5" text-anchor="start" fill="#1a1a1a" >−30</text>
<text x="215.40" y="403.04" font-size="6.5" text-anchor="start" fill="#1a1a1a" >−40</text>
<text x="207.80" y="413.60" font-size="6.5" text-anchor="start" fill="#1a1a1a" >Count</text>
<circle cx="209.80" cy="418.60" r="1.15" fill="#000" />
<text x="215.40" y="420.84" font-size="6.5" text-anchor="start" fill="#1a1a1a" >10</text>
<circle cx="209.80" cy="424.00" r="1.40" fill="#000" />
<text x="215.40" y="426.24" font-size="6.5" text-anchor="start" fill="#1a1a1a" >20</text>
<circle cx="209.80" cy="429.40" r="1.65" fill="#000" />
<text x="215.40" y="431.64" font-size="6.5" text-anchor="start" fill="#1a1a1a" >30</text>
<circle cx="209.80" cy="434.80" r="1.85" fill="#000" />
<text x="215.40" y="437.04" font-size="6.5" text-anchor="start" fill="#1a1a1a" >40</text>
<circle cx="209.80" cy="440.20" r="2.05" fill="#000" />
<text x="215.40" y="442.44" font-size="6.5" text-anchor="start" fill="#1a1a1a" >50</text>
<text x="257.30" y="347.90" font-size="11.4" text-anchor="start" fill="#000" font-weight="bold" stroke="#000" stroke-width="0.45">G</text>
<text x="302.50" y="357.10" font-size="8.5" text-anchor="middle" fill="#1a1a1a" stroke="#231f20" stroke-width="0.18">Baboon</text>
<rect x="277.20" y="366.30" width="10.60" height="6.60" fill="#f5901e" />
<rect x="287.40" y="366.30" width="10.60" height="6.60" fill="#e32a9c" />
<rect x="297.60" y="366.30" width="10.60" height="6.60" fill="#1d6b55" />
<rect x="307.80" y="366.30" width="10.50" height="6.60" fill="#2ba6e6" />
<rect x="317.90" y="366.30" width="10.10" height="6.60" fill="#a9c1a0" />
<rect x="277.20" y="375.20" width="10.60" height="9.40" fill="#3fae3e" />
<rect x="287.40" y="375.20" width="10.60" height="9.40" fill="#183c22" />
<rect x="297.60" y="375.20" width="10.60" height="9.40" fill="#2a0c0e" />
<rect x="307.80" y="375.20" width="10.50" height="9.40" fill="#3a0c10" />
<rect x="317.90" y="375.20" width="10.10" height="9.40" fill="#ae1828" />
<rect x="277.20" y="384.20" width="10.60" height="9.50" fill="#6a0c14" />
<rect x="287.40" y="384.20" width="10.60" height="9.50" fill="#c21c2c" />
<rect x="297.60" y="384.20" width="10.60" height="9.50" fill="#0e2412" />
<rect x="307.80" y="384.20" width="10.50" height="9.50" fill="#16502a" />
<rect x="317.90" y="384.20" width="10.10" height="9.50" fill="#3aac3e" />
<rect x="277.20" y="393.30" width="10.60" height="9.30" fill="#ea1c26" />
<rect x="287.40" y="393.30" width="10.60" height="9.30" fill="#0c1c0e" />
<rect x="297.60" y="393.30" width="10.60" height="9.30" fill="#165c2e" />
<rect x="307.80" y="393.30" width="10.50" height="9.30" fill="#165a2e" />
<rect x="317.90" y="393.30" width="10.10" height="9.30" fill="#155228" />
<rect x="277.20" y="402.20" width="10.60" height="9.10" fill="#d41a2a" />
<rect x="287.40" y="402.20" width="10.60" height="9.10" fill="#120a0a" />
<rect x="297.60" y="402.20" width="10.60" height="9.10" fill="#165c2e" />
<rect x="307.80" y="402.20" width="10.50" height="9.10" fill="#3c0a0c" />
<rect x="317.90" y="402.20" width="10.10" height="9.10" fill="#40b040" />
<text x="329.90" y="372.68" font-size="6.6" text-anchor="start" fill="#1a1a1a" >Group</text>
<text x="329.90" y="382.55" font-size="6.8" text-anchor="start" fill="#1a1a1a" font-style="italic" textLength="28.7" lengthAdjust="spacingAndGlyphs">SERPINE1</text>
<text x="329.90" y="391.15" font-size="6.8" text-anchor="start" fill="#1a1a1a" font-style="italic" textLength="20.0" lengthAdjust="spacingAndGlyphs">NR0B2</text>
<text x="329.90" y="400.15" font-size="6.8" text-anchor="start" fill="#1a1a1a" font-style="italic" textLength="23.9" lengthAdjust="spacingAndGlyphs">ABCB11</text>
<text x="329.90" y="408.95" font-size="6.8" text-anchor="start" fill="#1a1a1a" font-style="italic" textLength="20.4" lengthAdjust="spacingAndGlyphs">NR1H4</text>
<defs><linearGradient id="gG" x1="0" y1="0" x2="0" y2="1"><stop offset="0" stop-color="#ee1020"/><stop offset="0.5" stop-color="#000"/><stop offset="1" stop-color="#44b444"/></linearGradient></defs>
<rect x="364.20" y="370.20" width="3.80" height="37.30" fill="url(#gG)" />
<text x="370.20" y="379.51" font-size="6.4" text-anchor="start" fill="#1a1a1a" >1</text>
<text x="370.20" y="390.61" font-size="6.4" text-anchor="start" fill="#1a1a1a" >0</text>
<text x="369.80" y="401.51" font-size="6.4" text-anchor="start" fill="#1a1a1a" >−1</text>
<text transform="translate(285.20,415.40) rotate(-45)" font-size="6.6" text-anchor="end" fill="#1a1a1a">BMI&lt;30</text>
<text transform="translate(295.40,415.40) rotate(-45)" font-size="6.6" text-anchor="end" fill="#1a1a1a">30≤BMI&lt;45</text>
<text transform="translate(306.20,415.60) rotate(-45)" font-size="6.6" text-anchor="end" fill="#1a1a1a">45≤BMI&lt;55</text>
<text transform="translate(316.20,415.60) rotate(-45)" font-size="6.6" text-anchor="end" fill="#1a1a1a">55≤BMI&lt;60</text>
<text transform="translate(326.40,416.00) rotate(-45)" font-size="6.6" text-anchor="end" fill="#1a1a1a">BMI≥60</text>
<text x="8.10" y="489.90" font-size="11.4" text-anchor="start" fill="#000" font-weight="bold" stroke="#000" stroke-width="0.45">H</text>
<text x="108.60" y="503.00" font-size="8.5" text-anchor="middle" fill="#1a1a1a" stroke="#231f20" stroke-width="0.18">Baboon</text>
<line x1="33.60" y1="510.60" x2="33.60" y2="575.70" stroke="#231f20" stroke-width="1.15" />
<line x1="33.10" y1="575.20" x2="184.60" y2="575.20" stroke="#231f20" stroke-width="1.15" />
<line x1="31.00" y1="515.60" x2="33.60" y2="515.60" stroke="#231f20" stroke-width="0.8" />
<text x="28.20" y="517.88" font-size="6.6" text-anchor="end" fill="#1a1a1a" >4</text>
<line x1="31.00" y1="532.30" x2="33.60" y2="532.30" stroke="#231f20" stroke-width="0.8" />
<text x="28.20" y="534.58" font-size="6.6" text-anchor="end" fill="#1a1a1a" >2</text>
<line x1="31.00" y1="548.80" x2="33.60" y2="548.80" stroke="#231f20" stroke-width="0.8" />
<text x="28.20" y="551.08" font-size="6.6" text-anchor="end" fill="#1a1a1a" >0</text>
<line x1="31.00" y1="565.60" x2="33.60" y2="565.60" stroke="#231f20" stroke-width="0.8" />
<text x="28.20" y="567.88" font-size="6.6" text-anchor="end" fill="#1a1a1a" >−2</text>
<text transform="translate(13.3,537.8) rotate(-90)" font-size="7.4" text-anchor="middle" fill="#1a1a1a" textLength="17.3" lengthAdjust="spacingAndGlyphs">logFC</text>
<line x1="56.00" y1="575.20" x2="56.00" y2="577.70" stroke="#231f20" stroke-width="0.8" />
<circle cx="45.89" cy="557.62" r="0.8" fill="none" stroke="#cfcfcf" stroke-width="0.3"/>
<circle cx="45.95" cy="552.28" r="0.8" fill="none" stroke="#cfcfcf" stroke-width="0.3"/>
<circle cx="46.13" cy="551.08" r="0.8" fill="none" stroke="#cfcfcf" stroke-width="0.3"/>
<circle cx="46.15" cy="550.19" r="0.8" fill="none" stroke="#cfcfcf" stroke-width="0.3"/>
<circle cx="46.67" cy="548.30" r="0.8" fill="none" stroke="#cfcfcf" stroke-width="0.3"/>
<circle cx="45.23" cy="550.59" r="0.8" fill="none" stroke="#cfcfcf" stroke-width="0.3"/>
<circle cx="44.30" cy="546.45" r="0.8" fill="none" stroke="#cfcfcf" stroke-width="0.3"/>
<circle cx="44.08" cy="554.77" r="0.8" fill="none" stroke="#cfcfcf" stroke-width="0.3"/>
<circle cx="48.22" cy="542.87" r="0.8" fill="none" stroke="#cfcfcf" stroke-width="0.3"/>
<circle cx="56.31" cy="551.12" r="0.8" fill="none" stroke="#cfcfcf" stroke-width="0.3"/>
<circle cx="54.29" cy="545.98" r="0.8" fill="none" stroke="#cfcfcf" stroke-width="0.3"/>
<circle cx="53.86" cy="549.67" r="0.8" fill="none" stroke="#cfcfcf" stroke-width="0.3"/>
<circle cx="54.44" cy="550.01" r="0.8" fill="none" stroke="#cfcfcf" stroke-width="0.3"/>
<circle cx="55.64" cy="549.23" r="0.8" fill="none" stroke="#cfcfcf" stroke-width="0.3"/>
<circle cx="55.54" cy="547.84" r="0.8" fill="none" stroke="#cfcfcf" stroke-width="0.3"/>
<circle cx="56.42" cy="553.43" r="0.8" fill="none" stroke="#cfcfcf" stroke-width="0.3"/>
<circle cx="55.80" cy="551.98" r="0.8" fill="none" stroke="#cfcfcf" stroke-width="0.3"/>
<circle cx="54.82" cy="553.20" r="0.8" fill="none" stroke="#cfcfcf" stroke-width="0.3"/>
<circle cx="68.39" cy="522.29" r="0.8" fill="none" stroke="#cfcfcf" stroke-width="0.3"/>
<circle cx="67.11" cy="527.22" r="0.8" fill="none" stroke="#cfcfcf" stroke-width="0.3"/>
<circle cx="65.39" cy="526.83" r="0.8" fill="none" stroke="#cfcfcf" stroke-width="0.3"/>
<circle cx="64.31" cy="525.04" r="0.8" fill="none" stroke="#cfcfcf" stroke-width="0.3"/>
<circle cx="67.37" cy="531.02" r="0.8" fill="none" stroke="#cfcfcf" stroke-width="0.3"/>
<circle cx="65.70" cy="524.25" r="0.8" fill="none" stroke="#cfcfcf" stroke-width="0.3"/>
<circle cx="68.22" cy="527.04" r="0.8" fill="none" stroke="#cfcfcf" stroke-width="0.3"/>
<circle cx="64.92" cy="527.16" r="0.8" fill="none" stroke="#cfcfcf" stroke-width="0.3"/>
<circle cx="68.01" cy="533.99" r="0.8" fill="none" stroke="#cfcfcf" stroke-width="0.3"/>
<line x1="93.00" y1="575.20" x2="93.00" y2="577.70" stroke="#231f20" stroke-width="0.8" />
<circle cx="82.65" cy="546.17" r="0.8" fill="none" stroke="#cfcfcf" stroke-width="0.3"/>
<circle cx="81.22" cy="554.78" r="0.8" fill="none" stroke="#cfcfcf" stroke-width="0.3"/>
<circle cx="82.09" cy="555.12" r="0.8" fill="none" stroke="#cfcfcf" stroke-width="0.3"/>
<circle cx="81.28" cy="555.21" r="0.8" fill="none" stroke="#cfcfcf" stroke-width="0.3"/>
<circle cx="84.24" cy="537.58" r="0.8" fill="none" stroke="#cfcfcf" stroke-width="0.3"/>
<circle cx="81.42" cy="548.75" r="0.8" fill="none" stroke="#cfcfcf" stroke-width="0.3"/>
<circle cx="81.16" cy="546.49" r="0.8" fill="none" stroke="#cfcfcf" stroke-width="0.3"/>
<circle cx="84.41" cy="545.98" r="0.8" fill="none" stroke="#cfcfcf" stroke-width="0.3"/>
<circle cx="82.87" cy="543.04" r="0.8" fill="none" stroke="#cfcfcf" stroke-width="0.3"/>
<circle cx="91.54" cy="551.56" r="0.8" fill="none" stroke="#cfcfcf" stroke-width="0.3"/>
<circle cx="93.53" cy="553.50" r="0.8" fill="none" stroke="#cfcfcf" stroke-width="0.3"/>
<circle cx="91.21" cy="553.84" r="0.8" fill="none" stroke="#cfcfcf" stroke-width="0.3"/>
<circle cx="91.89" cy="549.93" r="0.8" fill="none" stroke="#cfcfcf" stroke-width="0.3"/>
<circle cx="94.97" cy="550.13" r="0.8" fill="none" stroke="#cfcfcf" stroke-width="0.3"/>
<circle cx="94.59" cy="554.66" r="0.8" fill="none" stroke="#cfcfcf" stroke-width="0.3"/>
<circle cx="91.63" cy="557.76" r="0.8" fill="none" stroke="#cfcfcf" stroke-width="0.3"/>
<circle cx="93.52" cy="546.25" r="0.8" fill="none" stroke="#cfcfcf" stroke-width="0.3"/>
<circle cx="91.14" cy="548.42" r="0.8" fill="none" stroke="#cfcfcf" stroke-width="0.3"/>
<circle cx="101.44" cy="557.25" r="0.8" fill="none" stroke="#cfcfcf" stroke-width="0.3"/>
<circle cx="103.70" cy="557.98" r="0.8" fill="none" stroke="#cfcfcf" stroke-width="0.3"/>
<circle cx="100.62" cy="555.61" r="0.8" fill="none" stroke="#cfcfcf" stroke-width="0.3"/>
<circle cx="100.70" cy="558.50" r="0.8" fill="none" stroke="#cfcfcf" stroke-width="0.3"/>
<circle cx="102.95" cy="557.92" r="0.8" fill="none" stroke="#cfcfcf" stroke-width="0.3"/>
<circle cx="101.94" cy="562.20" r="0.8" fill="none" stroke="#cfcfcf" stroke-width="0.3"/>
<circle cx="102.43" cy="555.62" r="0.8" fill="none" stroke="#cfcfcf" stroke-width="0.3"/>
<circle cx="102.83" cy="556.26" r="0.8" fill="none" stroke="#cfcfcf" stroke-width="0.3"/>
<circle cx="100.98" cy="558.14" r="0.8" fill="none" stroke="#cfcfcf" stroke-width="0.3"/>
<line x1="130.20" y1="575.20" x2="130.20" y2="577.70" stroke="#231f20" stroke-width="0.8" />
<circle cx="121.80" cy="547.75" r="0.8" fill="none" stroke="#cfcfcf" stroke-width="0.3"/>
<circle cx="118.64" cy="551.10" r="0.8" fill="none" stroke="#cfcfcf" stroke-width="0.3"/>
<circle cx="121.05" cy="546.74" r="0.8" fill="none" stroke="#cfcfcf" stroke-width="0.3"/>
<circle cx="121.98" cy="549.61" r="0.8" fill="none" stroke="#cfcfcf" stroke-width="0.3"/>
<circle cx="121.68" cy="551.58" r="0.8" fill="none" stroke="#cfcfcf" stroke-width="0.3"/>
<circle cx="118.26" cy="550.92" r="0.8" fill="none" stroke="#cfcfcf" stroke-width="0.3"/>
<circle cx="117.97" cy="546.40" r="0.8" fill="none" stroke="#cfcfcf" stroke-width="0.3"/>
<circle cx="120.90" cy="549.37" r="0.8" fill="none" stroke="#cfcfcf" stroke-width="0.3"/>
<circle cx="118.93" cy="546.79" r="0.8" fill="none" stroke="#cfcfcf" stroke-width="0.3"/>
<circle cx="128.79" cy="552.83" r="0.8" fill="none" stroke="#cfcfcf" stroke-width="0.3"/>
<circle cx="128.27" cy="549.03" r="0.8" fill="none" stroke="#cfcfcf" stroke-width="0.3"/>
<circle cx="128.50" cy="550.04" r="0.8" fill="none" stroke="#cfcfcf" stroke-width="0.3"/>
<circle cx="129.96" cy="546.03" r="0.8" fill="none" stroke="#cfcfcf" stroke-width="0.3"/>
<circle cx="128.73" cy="552.49" r="0.8" fill="none" stroke="#cfcfcf" stroke-width="0.3"/>
<circle cx="131.54" cy="548.63" r="0.8" fill="none" stroke="#cfcfcf" stroke-width="0.3"/>
<circle cx="128.68" cy="548.21" r="0.8" fill="none" stroke="#cfcfcf" stroke-width="0.3"/>
<circle cx="129.46" cy="546.87" r="0.8" fill="none" stroke="#cfcfcf" stroke-width="0.3"/>
<circle cx="129.12" cy="548.03" r="0.8" fill="none" stroke="#cfcfcf" stroke-width="0.3"/>
<circle cx="140.32" cy="559.83" r="0.8" fill="none" stroke="#cfcfcf" stroke-width="0.3"/>
<circle cx="141.72" cy="559.74" r="0.8" fill="none" stroke="#cfcfcf" stroke-width="0.3"/>
<circle cx="142.11" cy="562.32" r="0.8" fill="none" stroke="#cfcfcf" stroke-width="0.3"/>
<circle cx="140.37" cy="563.04" r="0.8" fill="none" stroke="#cfcfcf" stroke-width="0.3"/>
<circle cx="138.42" cy="560.60" r="0.8" fill="none" stroke="#cfcfcf" stroke-width="0.3"/>
<circle cx="141.80" cy="560.84" r="0.8" fill="none" stroke="#cfcfcf" stroke-width="0.3"/>
<circle cx="140.88" cy="560.57" r="0.8" fill="none" stroke="#cfcfcf" stroke-width="0.3"/>
<circle cx="140.60" cy="560.99" r="0.8" fill="none" stroke="#cfcfcf" stroke-width="0.3"/>
<circle cx="139.92" cy="561.09" r="0.8" fill="none" stroke="#cfcfcf" stroke-width="0.3"/>
<line x1="167.30" y1="575.20" x2="167.30" y2="577.70" stroke="#231f20" stroke-width="0.8" />
<circle cx="159.60" cy="551.71" r="0.8" fill="none" stroke="#cfcfcf" stroke-width="0.3"/>
<circle cx="155.53" cy="554.03" r="0.8" fill="none" stroke="#cfcfcf" stroke-width="0.3"/>
<circle cx="159.16" cy="550.36" r="0.8" fill="none" stroke="#cfcfcf" stroke-width="0.3"/>
<circle cx="158.44" cy="550.50" r="0.8" fill="none" stroke="#cfcfcf" stroke-width="0.3"/>
<circle cx="159.23" cy="554.48" r="0.8" fill="none" stroke="#cfcfcf" stroke-width="0.3"/>
<circle cx="156.75" cy="551.65" r="0.8" fill="none" stroke="#cfcfcf" stroke-width="0.3"/>
<circle cx="159.03" cy="555.39" r="0.8" fill="none" stroke="#cfcfcf" stroke-width="0.3"/>
<circle cx="157.04" cy="547.12" r="0.8" fill="none" stroke="#cfcfcf" stroke-width="0.3"/>
<circle cx="157.72" cy="555.25" r="0.8" fill="none" stroke="#cfcfcf" stroke-width="0.3"/>
<circle cx="167.45" cy="552.06" r="0.8" fill="none" stroke="#cfcfcf" stroke-width="0.3"/>
<circle cx="167.38" cy="545.82" r="0.8" fill="none" stroke="#cfcfcf" stroke-width="0.3"/>
<circle cx="165.05" cy="555.57" r="0.8" fill="none" stroke="#cfcfcf" stroke-width="0.3"/>
<circle cx="168.57" cy="556.92" r="0.8" fill="none" stroke="#cfcfcf" stroke-width="0.3"/>
<circle cx="167.90" cy="552.96" r="0.8" fill="none" stroke="#cfcfcf" stroke-width="0.3"/>
<circle cx="167.26" cy="545.29" r="0.8" fill="none" stroke="#cfcfcf" stroke-width="0.3"/>
<circle cx="166.64" cy="548.06" r="0.8" fill="none" stroke="#cfcfcf" stroke-width="0.3"/>
<circle cx="168.00" cy="549.99" r="0.8" fill="none" stroke="#cfcfcf" stroke-width="0.3"/>
<circle cx="164.83" cy="551.88" r="0.8" fill="none" stroke="#cfcfcf" stroke-width="0.3"/>
<circle cx="175.71" cy="569.69" r="0.8" fill="none" stroke="#cfcfcf" stroke-width="0.3"/>
<circle cx="177.77" cy="570.57" r="0.8" fill="none" stroke="#cfcfcf" stroke-width="0.3"/>
<circle cx="178.75" cy="568.81" r="0.8" fill="none" stroke="#cfcfcf" stroke-width="0.3"/>
<circle cx="175.83" cy="567.78" r="0.8" fill="none" stroke="#cfcfcf" stroke-width="0.3"/>
<circle cx="177.68" cy="568.76" r="0.8" fill="none" stroke="#cfcfcf" stroke-width="0.3"/>
<circle cx="175.59" cy="567.52" r="0.8" fill="none" stroke="#cfcfcf" stroke-width="0.3"/>
<circle cx="177.60" cy="566.46" r="0.8" fill="none" stroke="#cfcfcf" stroke-width="0.3"/>
<circle cx="176.64" cy="567.97" r="0.8" fill="none" stroke="#cfcfcf" stroke-width="0.3"/>
<circle cx="177.63" cy="569.54" r="0.8" fill="none" stroke="#cfcfcf" stroke-width="0.3"/>
<rect x="43.30" y="548.60" width="5.60" height="2.30" fill="#1e232b" />
<rect x="52.10" y="549.30" width="7.60" height="2.30" fill="#3a4050" />
<rect x="62.10" y="527.20" width="7.90" height="21.70" fill="#c8102e" />
<line x1="62.10" y1="527.55" x2="70.00" y2="527.55" stroke="#7a0a1a" stroke-width="0.7" />
<rect x="79.90" y="548.50" width="5.60" height="1.40" fill="#1e232b" />
<rect x="88.70" y="549.00" width="8.20" height="3.90" fill="#3a4050" />
<rect x="89.10" y="549.90" width="7.40" height="2.10" fill="#646b80" />
<rect x="98.90" y="549.00" width="7.80" height="8.50" fill="#c8102e" />
<line x1="98.90" y1="557.15" x2="106.70" y2="557.15" stroke="#7a0a1a" stroke-width="0.7" />
<rect x="117.50" y="548.10" width="6.30" height="1.30" fill="#1e232b" />
<rect x="126.50" y="548.10" width="7.70" height="1.30" fill="#3a4050" />
<rect x="136.20" y="549.20" width="7.70" height="11.10" fill="#c8102e" />
<line x1="136.20" y1="559.95" x2="143.90" y2="559.95" stroke="#7a0a1a" stroke-width="0.7" />
<rect x="154.20" y="548.10" width="6.30" height="1.30" fill="#1e232b" />
<rect x="163.50" y="548.10" width="7.40" height="1.30" fill="#3a4050" />
<rect x="173.40" y="549.20" width="7.40" height="19.50" fill="#c8102e" />
<line x1="173.40" y1="568.35" x2="180.80" y2="568.35" stroke="#7a0a1a" stroke-width="0.7" />
<text x="56.20" y="587.01" font-size="7.0" text-anchor="middle" fill="#1a1a1a" font-style="italic" textLength="29.3" lengthAdjust="spacingAndGlyphs">SERPINE1</text>
<text x="93.00" y="587.01" font-size="7.0" text-anchor="middle" fill="#1a1a1a" font-style="italic" textLength="20.0" lengthAdjust="spacingAndGlyphs">NR0B2</text>
<text x="130.20" y="587.01" font-size="7.0" text-anchor="middle" fill="#1a1a1a" font-style="italic" textLength="23.6" lengthAdjust="spacingAndGlyphs">ABCB11</text>
<text x="167.30" y="587.01" font-size="7.0" text-anchor="middle" fill="#1a1a1a" font-style="italic" textLength="20.4" lengthAdjust="spacingAndGlyphs">NR1H4</text>
<rect x="120.25" y="512.35" width="3.0" height="3.0" fill="#2a78b6" stroke="#8cbde0" stroke-width="0.5"/>
<rect x="145.45" y="512.35" width="3.0" height="3.0" fill="#66669a" stroke="#a8a8c8" stroke-width="0.5"/>
<rect x="171.35" y="512.35" width="3.0" height="3.0" fill="#a8142e" stroke="#c85060" stroke-width="0.5"/>
<text x="126.40" y="516.04" font-size="6.5" text-anchor="start" fill="#3a3a3a" font-style="italic" >0W</text>
<text x="152.00" y="516.04" font-size="6.5" text-anchor="start" fill="#3a3a3a" font-style="italic" >7W</text>
<text x="176.90" y="516.04" font-size="6.5" text-anchor="start" fill="#3a3a3a" font-style="italic" >2Y</text>
<text x="203.50" y="489.80" font-size="11.4" text-anchor="start" fill="#000" font-weight="bold" stroke="#000" stroke-width="0.45">I</text>
<text x="259.40" y="503.20" font-size="8.5" text-anchor="middle" fill="#1a1a1a" stroke="#231f20" stroke-width="0.18">Baboon</text>
<rect x="231.90" y="556.30" width="1.0" height="1.0" fill="#3db54a" opacity="0.8"/>
<rect x="235.58" y="564.77" width="1.0" height="1.0" fill="#3db54a" opacity="0.8"/>
<rect x="233.96" y="564.49" width="1.0" height="1.0" fill="#3db54a" opacity="0.8"/>
<rect x="236.44" y="546.31" width="1.0" height="1.0" fill="#3db54a" opacity="0.8"/>
<rect x="236.95" y="551.54" width="1.0" height="1.0" fill="#3db54a" opacity="0.8"/>
<rect x="235.04" y="549.93" width="1.0" height="1.0" fill="#3db54a" opacity="0.8"/>
<rect x="232.78" y="546.74" width="1.0" height="1.0" fill="#3db54a" opacity="0.8"/>
<rect x="231.74" y="550.44" width="1.0" height="1.0" fill="#3db54a" opacity="0.8"/>
<rect x="235.64" y="547.39" width="1.0" height="1.0" fill="#3db54a" opacity="0.8"/>
<rect x="233.43" y="531.63" width="1.0" height="1.0" fill="#3db54a" opacity="0.8"/>
<rect x="234.36" y="552.15" width="1.0" height="1.0" fill="#3db54a" opacity="0.8"/>
<rect x="234.57" y="551.68" width="1.0" height="1.0" fill="#3db54a" opacity="0.8"/>
<rect x="233.48" y="550.40" width="1.0" height="1.0" fill="#3db54a" opacity="0.8"/>
<rect x="238.28" y="547.65" width="1.0" height="1.0" fill="#3db54a" opacity="0.8"/>
<rect x="234.60" y="542.83" width="1.0" height="1.0" fill="#3db54a" opacity="0.8"/>
<rect x="238.27" y="549.47" width="1.0" height="1.0" fill="#3db54a" opacity="0.8"/>
<rect x="233.01" y="529.52" width="1.0" height="1.0" fill="#3db54a" opacity="0.8"/>
<rect x="231.34" y="550.53" width="1.0" height="1.0" fill="#3db54a" opacity="0.8"/>
<rect x="235.58" y="530.93" width="1.0" height="1.0" fill="#3db54a" opacity="0.8"/>
<rect x="232.36" y="565.76" width="1.0" height="1.0" fill="#3db54a" opacity="0.8"/>
<rect x="235.57" y="551.67" width="1.0" height="1.0" fill="#3db54a" opacity="0.8"/>
<rect x="233.48" y="544.40" width="1.0" height="1.0" fill="#3db54a" opacity="0.8"/>
<rect x="234.69" y="545.66" width="1.0" height="1.0" fill="#3db54a" opacity="0.8"/>
<rect x="233.39" y="538.28" width="1.0" height="1.0" fill="#3db54a" opacity="0.8"/>
<rect x="237.25" y="547.58" width="1.0" height="1.0" fill="#3db54a" opacity="0.8"/>
<rect x="233.35" y="542.39" width="1.0" height="1.0" fill="#3db54a" opacity="0.8"/>
<rect x="235.20" y="555.51" width="1.0" height="1.0" fill="#3db54a" opacity="0.8"/>
<rect x="233.33" y="540.06" width="1.0" height="1.0" fill="#3db54a" opacity="0.8"/>
<rect x="234.06" y="550.24" width="1.0" height="1.0" fill="#3db54a" opacity="0.8"/>
<rect x="234.67" y="548.06" width="1.0" height="1.0" fill="#3db54a" opacity="0.8"/>
<rect x="234.24" y="562.09" width="1.0" height="1.0" fill="#3db54a" opacity="0.8"/>
<rect x="237.73" y="546.34" width="1.0" height="1.0" fill="#3db54a" opacity="0.8"/>
<rect x="232.50" y="540.57" width="1.0" height="1.0" fill="#3db54a" opacity="0.8"/>
<rect x="234.86" y="547.68" width="1.0" height="1.0" fill="#3db54a" opacity="0.8"/>
<rect x="236.34" y="531.10" width="1.0" height="1.0" fill="#3db54a" opacity="0.8"/>
<rect x="235.35" y="536.09" width="1.0" height="1.0" fill="#3db54a" opacity="0.8"/>
<rect x="238.55" y="555.36" width="1.0" height="1.0" fill="#3db54a" opacity="0.8"/>
<rect x="233.21" y="542.07" width="1.0" height="1.0" fill="#3db54a" opacity="0.8"/>
<rect x="230.85" y="549.79" width="1.0" height="1.0" fill="#3db54a" opacity="0.8"/>
<rect x="236.82" y="540.10" width="1.0" height="1.0" fill="#3db54a" opacity="0.8"/>
<rect x="235.40" y="561.83" width="1.0" height="1.0" fill="#3db54a" opacity="0.8"/>
<rect x="238.93" y="543.74" width="1.0" height="1.0" fill="#3db54a" opacity="0.8"/>
<rect x="235.78" y="544.15" width="1.0" height="1.0" fill="#3db54a" opacity="0.8"/>
<rect x="230.83" y="558.42" width="1.0" height="1.0" fill="#3db54a" opacity="0.8"/>
<rect x="231.83" y="533.63" width="1.0" height="1.0" fill="#3db54a" opacity="0.8"/>
<rect x="232.59" y="549.60" width="1.0" height="1.0" fill="#3db54a" opacity="0.8"/>
<rect x="233.74" y="543.59" width="1.0" height="1.0" fill="#3db54a" opacity="0.8"/>
<rect x="235.25" y="545.83" width="1.0" height="1.0" fill="#3db54a" opacity="0.8"/>
<rect x="231.74" y="571.02" width="1.0" height="1.0" fill="#3db54a" opacity="0.8"/>
<rect x="234.58" y="545.83" width="1.0" height="1.0" fill="#3db54a" opacity="0.8"/>
<rect x="236.70" y="548.58" width="1.0" height="1.0" fill="#3db54a" opacity="0.8"/>
<rect x="233.03" y="544.78" width="1.0" height="1.0" fill="#3db54a" opacity="0.8"/>
<rect x="231.15" y="555.51" width="1.0" height="1.0" fill="#3db54a" opacity="0.8"/>
<rect x="232.24" y="545.69" width="1.0" height="1.0" fill="#3db54a" opacity="0.8"/>
<rect x="238.41" y="542.17" width="1.0" height="1.0" fill="#3db54a" opacity="0.8"/>
<rect x="236.52" y="546.05" width="1.0" height="1.0" fill="#3db54a" opacity="0.8"/>
<rect x="234.80" y="551.14" width="1.0" height="1.0" fill="#3db54a" opacity="0.8"/>
<rect x="233.69" y="565.78" width="1.0" height="1.0" fill="#3db54a" opacity="0.8"/>
<rect x="231.85" y="557.33" width="1.0" height="1.0" fill="#3db54a" opacity="0.8"/>
<rect x="235.92" y="542.91" width="1.0" height="1.0" fill="#3db54a" opacity="0.8"/>
<rect x="236.52" y="536.31" width="1.0" height="1.0" fill="#3db54a" opacity="0.8"/>
<rect x="233.64" y="540.01" width="1.0" height="1.0" fill="#3db54a" opacity="0.8"/>
<rect x="238.14" y="547.88" width="1.0" height="1.0" fill="#3db54a" opacity="0.8"/>
<rect x="236.41" y="549.03" width="1.0" height="1.0" fill="#3db54a" opacity="0.8"/>
<rect x="231.04" y="546.92" width="1.0" height="1.0" fill="#3db54a" opacity="0.8"/>
<rect x="232.61" y="547.01" width="1.0" height="1.0" fill="#3db54a" opacity="0.8"/>
<rect x="233.33" y="545.45" width="1.0" height="1.0" fill="#3db54a" opacity="0.8"/>
<rect x="229.99" y="532.40" width="1.0" height="1.0" fill="#3db54a" opacity="0.8"/>
<rect x="236.96" y="550.41" width="1.0" height="1.0" fill="#3db54a" opacity="0.8"/>
<rect x="232.44" y="547.78" width="1.0" height="1.0" fill="#3db54a" opacity="0.8"/>
<rect x="235.59" y="544.68" width="1.0" height="1.0" fill="#3db54a" opacity="0.8"/>
<rect x="235.05" y="562.38" width="1.0" height="1.0" fill="#3db54a" opacity="0.8"/>
<rect x="232.00" y="537.88" width="1.0" height="1.0" fill="#3db54a" opacity="0.8"/>
<rect x="234.73" y="559.06" width="1.0" height="1.0" fill="#3db54a" opacity="0.8"/>
<rect x="232.52" y="558.52" width="1.0" height="1.0" fill="#3db54a" opacity="0.8"/>
<rect x="232.22" y="539.08" width="1.0" height="1.0" fill="#3db54a" opacity="0.8"/>
<rect x="233.81" y="539.45" width="1.0" height="1.0" fill="#3db54a" opacity="0.8"/>
<rect x="234.63" y="559.06" width="1.0" height="1.0" fill="#3db54a" opacity="0.8"/>
<rect x="232.94" y="530.65" width="1.0" height="1.0" fill="#3db54a" opacity="0.8"/>
<rect x="232.70" y="555.69" width="1.0" height="1.0" fill="#3db54a" opacity="0.8"/>
<rect x="236.75" y="547.14" width="1.0" height="1.0" fill="#3db54a" opacity="0.8"/>
<rect x="234.24" y="536.78" width="1.0" height="1.0" fill="#3db54a" opacity="0.8"/>
<rect x="230.68" y="544.67" width="1.0" height="1.0" fill="#3db54a" opacity="0.8"/>
<rect x="232.11" y="558.38" width="1.0" height="1.0" fill="#3db54a" opacity="0.8"/>
<rect x="232.60" y="539.13" width="1.0" height="1.0" fill="#3db54a" opacity="0.8"/>
<rect x="233.96" y="561.65" width="1.0" height="1.0" fill="#3db54a" opacity="0.8"/>
<rect x="232.00" y="536.31" width="1.0" height="1.0" fill="#3db54a" opacity="0.8"/>
<rect x="236.33" y="556.05" width="1.0" height="1.0" fill="#3db54a" opacity="0.8"/>
<rect x="239.18" y="550.58" width="1.0" height="1.0" fill="#3db54a" opacity="0.8"/>
<rect x="231.82" y="548.85" width="1.0" height="1.0" fill="#3db54a" opacity="0.8"/>
<rect x="236.16" y="535.65" width="1.0" height="1.0" fill="#3db54a" opacity="0.8"/>
<rect x="236.34" y="551.04" width="1.0" height="1.0" fill="#3db54a" opacity="0.8"/>
<rect x="233.11" y="558.82" width="1.0" height="1.0" fill="#3db54a" opacity="0.8"/>
<rect x="234.10" y="552.32" width="1.0" height="1.0" fill="#3db54a" opacity="0.8"/>
<rect x="234.75" y="557.39" width="1.0" height="1.0" fill="#3db54a" opacity="0.8"/>
<rect x="233.20" y="554.48" width="1.0" height="1.0" fill="#3db54a" opacity="0.8"/>
<rect x="231.80" y="556.77" width="1.0" height="1.0" fill="#3db54a" opacity="0.8"/>
<rect x="232.17" y="556.76" width="1.0" height="1.0" fill="#3db54a" opacity="0.8"/>
<rect x="235.41" y="547.06" width="1.0" height="1.0" fill="#3db54a" opacity="0.8"/>
<rect x="231.56" y="543.94" width="1.0" height="1.0" fill="#3db54a" opacity="0.8"/>
<rect x="234.84" y="536.77" width="1.0" height="1.0" fill="#3db54a" opacity="0.8"/>
<rect x="233.85" y="549.40" width="1.0" height="1.0" fill="#3db54a" opacity="0.8"/>
<rect x="232.84" y="546.87" width="1.0" height="1.0" fill="#3db54a" opacity="0.8"/>
<rect x="235.25" y="546.49" width="1.0" height="1.0" fill="#3db54a" opacity="0.8"/>
<rect x="233.73" y="543.55" width="1.0" height="1.0" fill="#3db54a" opacity="0.8"/>
<rect x="234.44" y="545.95" width="1.0" height="1.0" fill="#3db54a" opacity="0.8"/>
<rect x="232.35" y="546.25" width="1.0" height="1.0" fill="#3db54a" opacity="0.8"/>
<rect x="232.22" y="554.19" width="1.0" height="1.0" fill="#3db54a" opacity="0.8"/>
<rect x="234.58" y="531.88" width="1.0" height="1.0" fill="#3db54a" opacity="0.8"/>
<rect x="236.28" y="547.78" width="1.0" height="1.0" fill="#3db54a" opacity="0.8"/>
<rect x="233.88" y="540.34" width="1.0" height="1.0" fill="#3db54a" opacity="0.8"/>
<rect x="237.07" y="538.58" width="1.0" height="1.0" fill="#3db54a" opacity="0.8"/>
<rect x="233.87" y="546.39" width="1.0" height="1.0" fill="#3db54a" opacity="0.8"/>
<rect x="233.58" y="549.97" width="1.0" height="1.0" fill="#3db54a" opacity="0.8"/>
<rect x="232.51" y="549.70" width="1.0" height="1.0" fill="#3db54a" opacity="0.8"/>
<rect x="229.86" y="556.88" width="1.0" height="1.0" fill="#3db54a" opacity="0.8"/>
<rect x="235.12" y="554.82" width="1.0" height="1.0" fill="#3db54a" opacity="0.8"/>
<rect x="235.35" y="557.60" width="1.0" height="1.0" fill="#3db54a" opacity="0.8"/>
<rect x="233.50" y="544.82" width="1.0" height="1.0" fill="#3db54a" opacity="0.8"/>
<rect x="232.14" y="553.21" width="1.0" height="1.0" fill="#3db54a" opacity="0.8"/>
<rect x="239.29" y="552.97" width="1.0" height="1.0" fill="#3db54a" opacity="0.8"/>
<rect x="232.81" y="552.15" width="1.0" height="1.0" fill="#3db54a" opacity="0.8"/>
<rect x="234.32" y="548.01" width="1.0" height="1.0" fill="#3db54a" opacity="0.8"/>
<rect x="236.25" y="541.82" width="1.0" height="1.0" fill="#3db54a" opacity="0.8"/>
<rect x="233.43" y="550.51" width="1.0" height="1.0" fill="#3db54a" opacity="0.8"/>
<rect x="231.37" y="559.13" width="1.0" height="1.0" fill="#3db54a" opacity="0.8"/>
<rect x="232.74" y="542.28" width="1.0" height="1.0" fill="#3db54a" opacity="0.8"/>
<rect x="234.49" y="541.74" width="1.0" height="1.0" fill="#3db54a" opacity="0.8"/>
<rect x="236.17" y="549.06" width="1.0" height="1.0" fill="#3db54a" opacity="0.8"/>
<rect x="238.53" y="551.77" width="1.0" height="1.0" fill="#3db54a" opacity="0.8"/>
<rect x="232.98" y="551.06" width="1.0" height="1.0" fill="#3db54a" opacity="0.8"/>
<rect x="236.57" y="548.85" width="1.0" height="1.0" fill="#3db54a" opacity="0.8"/>
<rect x="232.74" y="544.53" width="1.0" height="1.0" fill="#3db54a" opacity="0.8"/>
<rect x="236.56" y="548.66" width="1.0" height="1.0" fill="#3db54a" opacity="0.8"/>
<rect x="233.73" y="539.61" width="1.0" height="1.0" fill="#3db54a" opacity="0.8"/>
<rect x="236.25" y="540.67" width="1.0" height="1.0" fill="#3db54a" opacity="0.8"/>
<rect x="232.69" y="545.67" width="1.0" height="1.0" fill="#3db54a" opacity="0.8"/>
<rect x="234.99" y="561.38" width="1.0" height="1.0" fill="#3db54a" opacity="0.8"/>
<rect x="236.70" y="547.06" width="1.0" height="1.0" fill="#3db54a" opacity="0.8"/>
<rect x="233.55" y="530.71" width="1.0" height="1.0" fill="#3db54a" opacity="0.8"/>
<rect x="234.55" y="553.25" width="1.0" height="1.0" fill="#3db54a" opacity="0.8"/>
<rect x="234.12" y="543.55" width="1.0" height="1.0" fill="#3db54a" opacity="0.8"/>
<rect x="235.90" y="548.25" width="1.0" height="1.0" fill="#3db54a" opacity="0.8"/>
<rect x="232.49" y="553.08" width="1.0" height="1.0" fill="#3db54a" opacity="0.8"/>
<rect x="232.59" y="555.76" width="1.0" height="1.0" fill="#3db54a" opacity="0.8"/>
<rect x="234.21" y="551.52" width="1.0" height="1.0" fill="#3db54a" opacity="0.8"/>
<rect x="234.36" y="554.05" width="1.0" height="1.0" fill="#3db54a" opacity="0.8"/>
<rect x="232.49" y="549.21" width="1.0" height="1.0" fill="#3db54a" opacity="0.8"/>
<rect x="233.54" y="539.12" width="1.0" height="1.0" fill="#3db54a" opacity="0.8"/>
<rect x="232.41" y="546.26" width="1.0" height="1.0" fill="#3db54a" opacity="0.8"/>
<rect x="234.17" y="557.69" width="1.0" height="1.0" fill="#3db54a" opacity="0.8"/>
<rect x="235.73" y="546.53" width="1.0" height="1.0" fill="#3db54a" opacity="0.8"/>
<rect x="229.98" y="543.28" width="1.0" height="1.0" fill="#3db54a" opacity="0.8"/>
<rect x="236.16" y="553.82" width="1.0" height="1.0" fill="#3db54a" opacity="0.8"/>
<rect x="237.69" y="546.64" width="1.0" height="1.0" fill="#3db54a" opacity="0.8"/>
<rect x="231.91" y="543.57" width="1.0" height="1.0" fill="#3db54a" opacity="0.8"/>
<rect x="233.52" y="557.91" width="1.0" height="1.0" fill="#3db54a" opacity="0.8"/>
<rect x="229.89" y="545.96" width="1.0" height="1.0" fill="#3db54a" opacity="0.8"/>
<rect x="232.75" y="542.95" width="1.0" height="1.0" fill="#3db54a" opacity="0.8"/>
<rect x="235.04" y="551.73" width="1.0" height="1.0" fill="#3db54a" opacity="0.8"/>
<rect x="233.17" y="534.48" width="1.0" height="1.0" fill="#3db54a" opacity="0.8"/>
<rect x="237.72" y="542.14" width="1.0" height="1.0" fill="#3db54a" opacity="0.8"/>
<rect x="233.53" y="555.21" width="1.0" height="1.0" fill="#3db54a" opacity="0.8"/>
<rect x="233.46" y="535.27" width="1.0" height="1.0" fill="#3db54a" opacity="0.8"/>
<rect x="235.18" y="550.00" width="1.0" height="1.0" fill="#3db54a" opacity="0.8"/>
<rect x="231.76" y="546.55" width="1.0" height="1.0" fill="#3db54a" opacity="0.8"/>
<rect x="232.46" y="547.72" width="1.0" height="1.0" fill="#3db54a" opacity="0.8"/>
<rect x="235.76" y="539.74" width="1.0" height="1.0" fill="#3db54a" opacity="0.8"/>
<rect x="234.53" y="550.39" width="1.0" height="1.0" fill="#3db54a" opacity="0.8"/>
<rect x="234.71" y="534.24" width="1.0" height="1.0" fill="#3db54a" opacity="0.8"/>
<rect x="235.55" y="566.79" width="1.0" height="1.0" fill="#3db54a" opacity="0.8"/>
<rect x="239.60" y="544.41" width="1.0" height="1.0" fill="#3db54a" opacity="0.8"/>
<rect x="246.25" y="554.17" width="1.0" height="1.0" fill="#3db54a" opacity="0.8"/>
<rect x="233.93" y="551.83" width="1.0" height="1.0" fill="#3db54a" opacity="0.8"/>
<rect x="235.55" y="555.65" width="1.0" height="1.0" fill="#3db54a" opacity="0.8"/>
<rect x="233.82" y="554.77" width="1.0" height="1.0" fill="#3db54a" opacity="0.8"/>
<rect x="232.25" y="519.10" width="1.0" height="1.0" fill="#3db54a" opacity="0.8"/>
<rect x="236.99" y="533.04" width="1.0" height="1.0" fill="#3db54a" opacity="0.8"/>
<rect x="232.53" y="543.75" width="1.0" height="1.0" fill="#3db54a" opacity="0.8"/>
<rect x="233.52" y="550.58" width="1.0" height="1.0" fill="#3db54a" opacity="0.8"/>
<rect x="236.82" y="539.64" width="1.0" height="1.0" fill="#3db54a" opacity="0.8"/>
<rect x="235.30" y="545.81" width="1.0" height="1.0" fill="#3db54a" opacity="0.8"/>
<rect x="229.28" y="557.79" width="1.0" height="1.0" fill="#3db54a" opacity="0.8"/>
<rect x="235.56" y="552.76" width="1.0" height="1.0" fill="#3db54a" opacity="0.8"/>
<rect x="231.57" y="543.00" width="1.0" height="1.0" fill="#3db54a" opacity="0.8"/>
<rect x="231.07" y="556.90" width="1.0" height="1.0" fill="#3db54a" opacity="0.8"/>
<rect x="237.29" y="552.67" width="1.0" height="1.0" fill="#3db54a" opacity="0.8"/>
<rect x="239.17" y="540.75" width="1.0" height="1.0" fill="#3db54a" opacity="0.8"/>
<rect x="237.03" y="532.53" width="1.0" height="1.0" fill="#3db54a" opacity="0.8"/>
<rect x="229.81" y="554.08" width="1.0" height="1.0" fill="#3db54a" opacity="0.8"/>
<rect x="233.89" y="531.01" width="1.0" height="1.0" fill="#3db54a" opacity="0.8"/>
<rect x="234.10" y="525.64" width="1.0" height="1.0" fill="#3db54a" opacity="0.8"/>
<rect x="232.44" y="548.57" width="1.0" height="1.0" fill="#3db54a" opacity="0.8"/>
<rect x="234.57" y="535.05" width="1.0" height="1.0" fill="#3db54a" opacity="0.8"/>
<rect x="234.07" y="556.15" width="1.0" height="1.0" fill="#3db54a" opacity="0.8"/>
<rect x="233.12" y="566.71" width="1.0" height="1.0" fill="#3db54a" opacity="0.8"/>
<rect x="275.35" y="560.86" width="1.0" height="1.0" fill="#3db54a" opacity="0.8"/>
<rect x="271.89" y="561.96" width="1.0" height="1.0" fill="#3db54a" opacity="0.8"/>
<rect x="267.59" y="563.55" width="1.0" height="1.0" fill="#3db54a" opacity="0.8"/>
<rect x="273.47" y="564.44" width="1.0" height="1.0" fill="#3db54a" opacity="0.8"/>
<rect x="266.85" y="558.92" width="1.0" height="1.0" fill="#3db54a" opacity="0.8"/>
<rect x="276.59" y="561.92" width="1.0" height="1.0" fill="#3db54a" opacity="0.8"/>
<rect x="272.32" y="562.16" width="1.0" height="1.0" fill="#3db54a" opacity="0.8"/>
<rect x="276.04" y="563.63" width="1.0" height="1.0" fill="#3db54a" opacity="0.8"/>
<rect x="270.45" y="561.47" width="1.0" height="1.0" fill="#3db54a" opacity="0.8"/>
<rect x="276.09" y="563.18" width="1.0" height="1.0" fill="#3db54a" opacity="0.8"/>
<rect x="271.07" y="563.74" width="1.0" height="1.0" fill="#3db54a" opacity="0.8"/>
<rect x="267.38" y="564.12" width="1.0" height="1.0" fill="#3db54a" opacity="0.8"/>
<rect x="270.45" y="560.54" width="1.0" height="1.0" fill="#3db54a" opacity="0.8"/>
<rect x="267.23" y="564.00" width="1.0" height="1.0" fill="#3db54a" opacity="0.8"/>
<rect x="268.43" y="561.78" width="1.0" height="1.0" fill="#3db54a" opacity="0.8"/>
<rect x="273.00" y="565.50" width="1.0" height="1.0" fill="#3db54a" opacity="0.8"/>
<rect x="271.58" y="564.91" width="1.0" height="1.0" fill="#3db54a" opacity="0.8"/>
<rect x="273.06" y="564.83" width="1.0" height="1.0" fill="#3db54a" opacity="0.8"/>
<rect x="265.63" y="564.25" width="1.0" height="1.0" fill="#3db54a" opacity="0.8"/>
<rect x="269.85" y="564.90" width="1.0" height="1.0" fill="#3db54a" opacity="0.8"/>
<rect x="270.98" y="562.26" width="1.0" height="1.0" fill="#3db54a" opacity="0.8"/>
<rect x="270.45" y="561.98" width="1.0" height="1.0" fill="#3db54a" opacity="0.8"/>
<rect x="273.72" y="564.29" width="1.0" height="1.0" fill="#3db54a" opacity="0.8"/>
<rect x="270.11" y="562.67" width="1.0" height="1.0" fill="#3db54a" opacity="0.8"/>
<rect x="261.63" y="561.70" width="1.0" height="1.0" fill="#3db54a" opacity="0.8"/>
<rect x="266.93" y="564.26" width="1.0" height="1.0" fill="#3db54a" opacity="0.8"/>
<rect x="268.27" y="562.37" width="1.0" height="1.0" fill="#3db54a" opacity="0.8"/>
<rect x="271.47" y="561.48" width="1.0" height="1.0" fill="#3db54a" opacity="0.8"/>
<rect x="267.24" y="560.99" width="1.0" height="1.0" fill="#3db54a" opacity="0.8"/>
<rect x="271.83" y="563.50" width="1.0" height="1.0" fill="#3db54a" opacity="0.8"/>
<rect x="270.02" y="560.75" width="1.0" height="1.0" fill="#3db54a" opacity="0.8"/>
<rect x="271.89" y="560.99" width="1.0" height="1.0" fill="#3db54a" opacity="0.8"/>
<rect x="270.54" y="559.97" width="1.0" height="1.0" fill="#3db54a" opacity="0.8"/>
<rect x="279.26" y="561.55" width="1.0" height="1.0" fill="#3db54a" opacity="0.8"/>
<rect x="263.52" y="558.62" width="1.0" height="1.0" fill="#3db54a" opacity="0.8"/>
<rect x="267.76" y="565.78" width="1.0" height="1.0" fill="#3db54a" opacity="0.8"/>
<rect x="260.35" y="561.62" width="1.0" height="1.0" fill="#3db54a" opacity="0.8"/>
<rect x="274.61" y="560.29" width="1.0" height="1.0" fill="#3db54a" opacity="0.8"/>
<rect x="268.53" y="559.27" width="1.0" height="1.0" fill="#3db54a" opacity="0.8"/>
<rect x="269.79" y="563.96" width="1.0" height="1.0" fill="#3db54a" opacity="0.8"/>
<rect x="270.38" y="562.11" width="1.0" height="1.0" fill="#3db54a" opacity="0.8"/>
<rect x="270.31" y="561.68" width="1.0" height="1.0" fill="#3db54a" opacity="0.8"/>
<rect x="261.10" y="558.99" width="1.0" height="1.0" fill="#3db54a" opacity="0.8"/>
<rect x="267.77" y="561.10" width="1.0" height="1.0" fill="#3db54a" opacity="0.8"/>
<rect x="266.82" y="562.23" width="1.0" height="1.0" fill="#3db54a" opacity="0.8"/>
<rect x="269.38" y="566.24" width="1.0" height="1.0" fill="#3db54a" opacity="0.8"/>
<rect x="271.68" y="561.14" width="1.0" height="1.0" fill="#3db54a" opacity="0.8"/>
<rect x="265.52" y="567.42" width="1.0" height="1.0" fill="#3db54a" opacity="0.8"/>
<rect x="267.45" y="564.54" width="1.0" height="1.0" fill="#3db54a" opacity="0.8"/>
<rect x="270.56" y="562.64" width="1.0" height="1.0" fill="#3db54a" opacity="0.8"/>
<rect x="276.73" y="561.11" width="1.0" height="1.0" fill="#3db54a" opacity="0.8"/>
<rect x="269.05" y="562.23" width="1.0" height="1.0" fill="#3db54a" opacity="0.8"/>
<rect x="258.26" y="564.68" width="1.0" height="1.0" fill="#3db54a" opacity="0.8"/>
<rect x="266.32" y="562.85" width="1.0" height="1.0" fill="#3db54a" opacity="0.8"/>
<rect x="271.42" y="562.11" width="1.0" height="1.0" fill="#3db54a" opacity="0.8"/>
<rect x="273.95" y="564.19" width="1.0" height="1.0" fill="#3db54a" opacity="0.8"/>
<rect x="271.36" y="562.90" width="1.0" height="1.0" fill="#3db54a" opacity="0.8"/>
<rect x="270.16" y="561.86" width="1.0" height="1.0" fill="#3db54a" opacity="0.8"/>
<rect x="268.95" y="562.11" width="1.0" height="1.0" fill="#3db54a" opacity="0.8"/>
<rect x="269.96" y="560.25" width="1.0" height="1.0" fill="#3db54a" opacity="0.8"/>
<rect x="269.65" y="561.90" width="1.0" height="1.0" fill="#3db54a" opacity="0.8"/>
<rect x="280.77" y="561.16" width="1.0" height="1.0" fill="#3db54a" opacity="0.8"/>
<rect x="272.21" y="560.12" width="1.0" height="1.0" fill="#3db54a" opacity="0.8"/>
<rect x="265.97" y="560.97" width="1.0" height="1.0" fill="#3db54a" opacity="0.8"/>
<rect x="273.18" y="561.59" width="1.0" height="1.0" fill="#3db54a" opacity="0.8"/>
<rect x="274.10" y="560.80" width="1.0" height="1.0" fill="#3db54a" opacity="0.8"/>
<rect x="274.99" y="564.07" width="1.0" height="1.0" fill="#3db54a" opacity="0.8"/>
<rect x="271.88" y="563.85" width="1.0" height="1.0" fill="#3db54a" opacity="0.8"/>
<rect x="275.19" y="562.29" width="1.0" height="1.0" fill="#3db54a" opacity="0.8"/>
<rect x="264.78" y="562.35" width="1.0" height="1.0" fill="#3db54a" opacity="0.8"/>
<rect x="265.99" y="560.35" width="1.0" height="1.0" fill="#3db54a" opacity="0.8"/>
<rect x="268.72" y="567.62" width="1.0" height="1.0" fill="#3db54a" opacity="0.8"/>
<rect x="268.52" y="560.25" width="1.0" height="1.0" fill="#3db54a" opacity="0.8"/>
<rect x="271.46" y="564.05" width="1.0" height="1.0" fill="#3db54a" opacity="0.8"/>
<rect x="272.76" y="561.28" width="1.0" height="1.0" fill="#3db54a" opacity="0.8"/>
<rect x="276.13" y="560.53" width="1.0" height="1.0" fill="#3db54a" opacity="0.8"/>
<rect x="271.61" y="564.41" width="1.0" height="1.0" fill="#3db54a" opacity="0.8"/>
<rect x="271.27" y="561.91" width="1.0" height="1.0" fill="#3db54a" opacity="0.8"/>
<rect x="270.16" y="561.64" width="1.0" height="1.0" fill="#3db54a" opacity="0.8"/>
<rect x="265.25" y="561.29" width="1.0" height="1.0" fill="#3db54a" opacity="0.8"/>
<rect x="270.15" y="561.78" width="1.0" height="1.0" fill="#3db54a" opacity="0.8"/>
<rect x="269.71" y="563.29" width="1.0" height="1.0" fill="#3db54a" opacity="0.8"/>
<rect x="271.15" y="560.80" width="1.0" height="1.0" fill="#3db54a" opacity="0.8"/>
<rect x="268.79" y="561.85" width="1.0" height="1.0" fill="#3db54a" opacity="0.8"/>
<rect x="266.97" y="561.64" width="1.0" height="1.0" fill="#3db54a" opacity="0.8"/>
<rect x="270.18" y="565.53" width="1.0" height="1.0" fill="#3db54a" opacity="0.8"/>
<rect x="274.86" y="564.64" width="1.0" height="1.0" fill="#3db54a" opacity="0.8"/>
<rect x="270.43" y="565.60" width="1.0" height="1.0" fill="#3db54a" opacity="0.8"/>
<rect x="263.03" y="561.09" width="1.0" height="1.0" fill="#3db54a" opacity="0.8"/>
<rect x="264.38" y="567.34" width="1.0" height="1.0" fill="#3db54a" opacity="0.8"/>
<rect x="269.23" y="566.14" width="1.0" height="1.0" fill="#3db54a" opacity="0.8"/>
<rect x="269.27" y="558.42" width="1.0" height="1.0" fill="#3db54a" opacity="0.8"/>
<rect x="268.50" y="561.78" width="1.0" height="1.0" fill="#3db54a" opacity="0.8"/>
<rect x="272.40" y="562.04" width="1.0" height="1.0" fill="#3db54a" opacity="0.8"/>
<rect x="269.62" y="559.16" width="1.0" height="1.0" fill="#3db54a" opacity="0.8"/>
<rect x="269.78" y="561.79" width="1.0" height="1.0" fill="#3db54a" opacity="0.8"/>
<rect x="270.56" y="565.53" width="1.0" height="1.0" fill="#3db54a" opacity="0.8"/>
<rect x="271.41" y="562.47" width="1.0" height="1.0" fill="#3db54a" opacity="0.8"/>
<rect x="272.75" y="561.02" width="1.0" height="1.0" fill="#3db54a" opacity="0.8"/>
<rect x="276.49" y="566.93" width="1.0" height="1.0" fill="#3db54a" opacity="0.8"/>
<rect x="267.83" y="563.68" width="1.0" height="1.0" fill="#3db54a" opacity="0.8"/>
<rect x="266.59" y="561.66" width="1.0" height="1.0" fill="#3db54a" opacity="0.8"/>
<rect x="269.79" y="562.28" width="1.0" height="1.0" fill="#3db54a" opacity="0.8"/>
<rect x="263.47" y="564.78" width="1.0" height="1.0" fill="#3db54a" opacity="0.8"/>
<rect x="269.84" y="563.62" width="1.0" height="1.0" fill="#3db54a" opacity="0.8"/>
<rect x="267.63" y="562.87" width="1.0" height="1.0" fill="#3db54a" opacity="0.8"/>
<rect x="268.98" y="565.02" width="1.0" height="1.0" fill="#3db54a" opacity="0.8"/>
<rect x="276.88" y="564.14" width="1.0" height="1.0" fill="#3db54a" opacity="0.8"/>
<rect x="272.75" y="561.24" width="1.0" height="1.0" fill="#3db54a" opacity="0.8"/>
<rect x="274.04" y="563.90" width="1.0" height="1.0" fill="#3db54a" opacity="0.8"/>
<rect x="266.05" y="561.60" width="1.0" height="1.0" fill="#3db54a" opacity="0.8"/>
<rect x="271.16" y="567.97" width="1.0" height="1.0" fill="#3db54a" opacity="0.8"/>
<rect x="259.47" y="563.84" width="1.0" height="1.0" fill="#3db54a" opacity="0.8"/>
<rect x="268.52" y="563.21" width="1.0" height="1.0" fill="#3db54a" opacity="0.8"/>
<rect x="271.79" y="564.81" width="1.0" height="1.0" fill="#3db54a" opacity="0.8"/>
<rect x="280.85" y="560.55" width="1.0" height="1.0" fill="#3db54a" opacity="0.8"/>
<rect x="275.38" y="561.98" width="1.0" height="1.0" fill="#3db54a" opacity="0.8"/>
<rect x="261.67" y="562.06" width="1.0" height="1.0" fill="#3db54a" opacity="0.8"/>
<rect x="267.87" y="561.60" width="1.0" height="1.0" fill="#3db54a" opacity="0.8"/>
<rect x="269.64" y="561.08" width="1.0" height="1.0" fill="#3db54a" opacity="0.8"/>
<rect x="264.04" y="564.09" width="1.0" height="1.0" fill="#3db54a" opacity="0.8"/>
<rect x="270.14" y="565.68" width="1.0" height="1.0" fill="#3db54a" opacity="0.8"/>
<rect x="266.96" y="560.09" width="1.0" height="1.0" fill="#3db54a" opacity="0.8"/>
<rect x="283.40" y="563.47" width="1.0" height="1.0" fill="#3db54a" opacity="0.8"/>
<rect x="275.79" y="567.25" width="1.0" height="1.0" fill="#3db54a" opacity="0.8"/>
<rect x="266.95" y="561.26" width="1.0" height="1.0" fill="#3db54a" opacity="0.8"/>
<rect x="274.09" y="566.79" width="1.0" height="1.0" fill="#3db54a" opacity="0.8"/>
<rect x="274.24" y="562.01" width="1.0" height="1.0" fill="#3db54a" opacity="0.8"/>
<rect x="279.14" y="558.77" width="1.0" height="1.0" fill="#3db54a" opacity="0.8"/>
<rect x="273.88" y="564.22" width="1.0" height="1.0" fill="#3db54a" opacity="0.8"/>
<rect x="271.91" y="566.11" width="1.0" height="1.0" fill="#3db54a" opacity="0.8"/>
<rect x="264.41" y="570.13" width="1.0" height="1.0" fill="#3db54a" opacity="0.8"/>
<rect x="261.13" y="567.79" width="1.0" height="1.0" fill="#3db54a" opacity="0.8"/>
<rect x="269.40" y="562.19" width="1.0" height="1.0" fill="#3db54a" opacity="0.8"/>
<rect x="260.85" y="563.01" width="1.0" height="1.0" fill="#3db54a" opacity="0.8"/>
<rect x="272.87" y="558.83" width="1.0" height="1.0" fill="#3db54a" opacity="0.8"/>
<rect x="269.43" y="561.72" width="1.0" height="1.0" fill="#3db54a" opacity="0.8"/>
<rect x="267.50" y="558.84" width="1.0" height="1.0" fill="#3db54a" opacity="0.8"/>
<rect x="259.34" y="561.63" width="1.0" height="1.0" fill="#3db54a" opacity="0.8"/>
<rect x="254.11" y="555.63" width="1.0" height="1.0" fill="#3db54a" opacity="0.8"/>
<rect x="277.81" y="520.52" width="0.9" height="0.9" fill="#a8c8a8" opacity="0.7"/>
<rect x="270.47" y="533.44" width="0.9" height="0.9" fill="#a8c8a8" opacity="0.7"/>
<rect x="261.14" y="526.90" width="0.9" height="0.9" fill="#a8c8a8" opacity="0.7"/>
<rect x="250.75" y="537.35" width="0.9" height="0.9" fill="#a8c8a8" opacity="0.7"/>
<rect x="269.67" y="540.98" width="0.9" height="0.9" fill="#a8c8a8" opacity="0.7"/>
<rect x="246.05" y="563.62" width="0.9" height="0.9" fill="#a8c8a8" opacity="0.7"/>
<rect x="234.29" y="549.45" width="0.9" height="0.9" fill="#a8c8a8" opacity="0.7"/>
<rect x="263.75" y="528.89" width="0.9" height="0.9" fill="#a8c8a8" opacity="0.7"/>
<rect x="271.77" y="551.95" width="0.9" height="0.9" fill="#a8c8a8" opacity="0.7"/>
<rect x="284.60" y="553.59" width="0.9" height="0.9" fill="#a8c8a8" opacity="0.7"/>
<rect x="271.86" y="563.91" width="0.9" height="0.9" fill="#a8c8a8" opacity="0.7"/>
<rect x="274.09" y="533.46" width="0.9" height="0.9" fill="#a8c8a8" opacity="0.7"/>
<rect x="286.26" y="521.88" width="0.9" height="0.9" fill="#a8c8a8" opacity="0.7"/>
<rect x="270.17" y="524.88" width="0.9" height="0.9" fill="#a8c8a8" opacity="0.7"/>
<path d="M228.49,547.05 L291.35,570.70 L292.45,567.70 L229.11,545.35Z" fill="#e8a8b8" opacity="0.5"/>
<line x1="228.80" y1="546.20" x2="291.90" y2="569.20" stroke="#983848" stroke-width="0.9" />
<line x1="226.10" y1="508.40" x2="226.10" y2="575.80" stroke="#231f20" stroke-width="1.15" />
<line x1="225.60" y1="575.30" x2="292.30" y2="575.30" stroke="#231f20" stroke-width="1.15" />
<line x1="223.50" y1="563.30" x2="226.10" y2="563.30" stroke="#231f20" stroke-width="0.8" />
<text x="220.50" y="565.58" font-size="6.6" text-anchor="end" fill="#1a1a1a" >7</text>
<line x1="223.50" y1="546.00" x2="226.10" y2="546.00" stroke="#231f20" stroke-width="0.8" />
<text x="220.50" y="548.28" font-size="6.6" text-anchor="end" fill="#1a1a1a" >8</text>
<line x1="223.50" y1="528.60" x2="226.10" y2="528.60" stroke="#231f20" stroke-width="0.8" />
<text x="220.50" y="530.88" font-size="6.6" text-anchor="end" fill="#1a1a1a" >9</text>
<line x1="223.50" y1="514.10" x2="226.10" y2="514.10" stroke="#231f20" stroke-width="0.8" />
<text x="220.50" y="516.38" font-size="6.6" text-anchor="end" fill="#1a1a1a" >10</text>
<line x1="234.50" y1="575.30" x2="234.50" y2="577.90" stroke="#231f20" stroke-width="0.8" />
<text x="234.50" y="586.18" font-size="6.6" text-anchor="middle" fill="#1a1a1a" >7</text>
<line x1="246.95" y1="575.30" x2="246.95" y2="577.90" stroke="#231f20" stroke-width="0.8" />
<text x="246.95" y="586.18" font-size="6.6" text-anchor="middle" fill="#1a1a1a" >8</text>
<line x1="259.40" y1="575.30" x2="259.40" y2="577.90" stroke="#231f20" stroke-width="0.8" />
<text x="259.40" y="586.18" font-size="6.6" text-anchor="middle" fill="#1a1a1a" >9</text>
<line x1="271.85" y1="575.30" x2="271.85" y2="577.90" stroke="#231f20" stroke-width="0.8" />
<text x="271.85" y="586.18" font-size="6.6" text-anchor="middle" fill="#1a1a1a" >10</text>
<line x1="284.30" y1="575.30" x2="284.30" y2="577.90" stroke="#231f20" stroke-width="0.8" />
<text x="284.30" y="586.18" font-size="6.6" text-anchor="middle" fill="#1a1a1a" >11</text>
<text x="259.30" y="599.80" font-size="8.2" text-anchor="middle" fill="#1a1a1a" font-style="italic" textLength="29.2" lengthAdjust="spacingAndGlyphs">SERPINE1</text>
<text transform="translate(207.60,536.20) rotate(-90)" font-size="8.2" text-anchor="middle" font-style="italic" fill="#1a1a1a" textLength="21.2" lengthAdjust="spacingAndGlyphs">NR0B2</text>
<text x="228.70" y="513.71" font-size="6.4" fill="#1a1a1a"><tspan font-style="italic">r</tspan> = −0.59</text>
<text x="261.00" y="513.71" font-size="6.4" fill="#1a1a1a"><tspan font-style="italic">P</tspan> &lt; .001</text>
<text x="310.70" y="490.60" font-size="11.4" text-anchor="start" fill="#000" font-weight="bold" stroke="#000" stroke-width="0.45">J</text>
<text x="368.30" y="503.20" font-size="8.5" text-anchor="middle" fill="#1a1a1a" stroke="#231f20" stroke-width="0.18">Baboon</text>
<rect x="341.32" y="526.53" width="1.0" height="1.0" fill="#3db54a" opacity="0.8"/>
<rect x="341.38" y="532.85" width="1.0" height="1.0" fill="#3db54a" opacity="0.8"/>
<rect x="340.06" y="532.07" width="1.0" height="1.0" fill="#3db54a" opacity="0.8"/>
<rect x="343.88" y="527.20" width="1.0" height="1.0" fill="#3db54a" opacity="0.8"/>
<rect x="343.74" y="528.54" width="1.0" height="1.0" fill="#3db54a" opacity="0.8"/>
<rect x="342.54" y="529.02" width="1.0" height="1.0" fill="#3db54a" opacity="0.8"/>
<rect x="338.69" y="523.90" width="1.0" height="1.0" fill="#3db54a" opacity="0.8"/>
<rect x="342.75" y="526.63" width="1.0" height="1.0" fill="#3db54a" opacity="0.8"/>
<rect x="338.64" y="543.77" width="1.0" height="1.0" fill="#3db54a" opacity="0.8"/>
<rect x="340.14" y="534.02" width="1.0" height="1.0" fill="#3db54a" opacity="0.8"/>
<rect x="342.37" y="530.79" width="1.0" height="1.0" fill="#3db54a" opacity="0.8"/>
<rect x="342.77" y="535.35" width="1.0" height="1.0" fill="#3db54a" opacity="0.8"/>
<rect x="342.38" y="527.43" width="1.0" height="1.0" fill="#3db54a" opacity="0.8"/>
<rect x="340.57" y="517.31" width="1.0" height="1.0" fill="#3db54a" opacity="0.8"/>
<rect x="342.84" y="521.29" width="1.0" height="1.0" fill="#3db54a" opacity="0.8"/>
<rect x="340.64" y="536.09" width="1.0" height="1.0" fill="#3db54a" opacity="0.8"/>
<rect x="341.16" y="531.25" width="1.0" height="1.0" fill="#3db54a" opacity="0.8"/>
<rect x="342.98" y="528.54" width="1.0" height="1.0" fill="#3db54a" opacity="0.8"/>
<rect x="340.96" y="537.75" width="1.0" height="1.0" fill="#3db54a" opacity="0.8"/>
<rect x="340.83" y="521.11" width="1.0" height="1.0" fill="#3db54a" opacity="0.8"/>
<rect x="340.29" y="528.57" width="1.0" height="1.0" fill="#3db54a" opacity="0.8"/>
<rect x="342.60" y="541.83" width="1.0" height="1.0" fill="#3db54a" opacity="0.8"/>
<rect x="341.89" y="520.46" width="1.0" height="1.0" fill="#3db54a" opacity="0.8"/>
<rect x="338.04" y="532.90" width="1.0" height="1.0" fill="#3db54a" opacity="0.8"/>
<rect x="341.60" y="536.69" width="1.0" height="1.0" fill="#3db54a" opacity="0.8"/>
<rect x="342.73" y="530.92" width="1.0" height="1.0" fill="#3db54a" opacity="0.8"/>
<rect x="339.06" y="524.11" width="1.0" height="1.0" fill="#3db54a" opacity="0.8"/>
<rect x="343.05" y="523.21" width="1.0" height="1.0" fill="#3db54a" opacity="0.8"/>
<rect x="344.49" y="527.67" width="1.0" height="1.0" fill="#3db54a" opacity="0.8"/>
<rect x="342.02" y="540.37" width="1.0" height="1.0" fill="#3db54a" opacity="0.8"/>
<rect x="342.95" y="535.12" width="1.0" height="1.0" fill="#3db54a" opacity="0.8"/>
<rect x="340.95" y="540.11" width="1.0" height="1.0" fill="#3db54a" opacity="0.8"/>
<rect x="339.99" y="534.50" width="1.0" height="1.0" fill="#3db54a" opacity="0.8"/>
<rect x="344.21" y="545.97" width="1.0" height="1.0" fill="#3db54a" opacity="0.8"/>
<rect x="339.08" y="528.61" width="1.0" height="1.0" fill="#3db54a" opacity="0.8"/>
<rect x="344.50" y="526.02" width="1.0" height="1.0" fill="#3db54a" opacity="0.8"/>
<rect x="338.25" y="549.69" width="1.0" height="1.0" fill="#3db54a" opacity="0.8"/>
<rect x="342.47" y="536.07" width="1.0" height="1.0" fill="#3db54a" opacity="0.8"/>
<rect x="339.71" y="522.97" width="1.0" height="1.0" fill="#3db54a" opacity="0.8"/>
<rect x="343.86" y="529.24" width="1.0" height="1.0" fill="#3db54a" opacity="0.8"/>
<rect x="342.26" y="527.12" width="1.0" height="1.0" fill="#3db54a" opacity="0.8"/>
<rect x="344.78" y="525.71" width="1.0" height="1.0" fill="#3db54a" opacity="0.8"/>
<rect x="342.77" y="526.25" width="1.0" height="1.0" fill="#3db54a" opacity="0.8"/>
<rect x="338.87" y="520.64" width="1.0" height="1.0" fill="#3db54a" opacity="0.8"/>
<rect x="343.58" y="526.39" width="1.0" height="1.0" fill="#3db54a" opacity="0.8"/>
<rect x="338.11" y="535.28" width="1.0" height="1.0" fill="#3db54a" opacity="0.8"/>
<rect x="343.37" y="544.28" width="1.0" height="1.0" fill="#3db54a" opacity="0.8"/>
<rect x="341.46" y="522.65" width="1.0" height="1.0" fill="#3db54a" opacity="0.8"/>
<rect x="339.35" y="518.13" width="1.0" height="1.0" fill="#3db54a" opacity="0.8"/>
<rect x="342.83" y="531.59" width="1.0" height="1.0" fill="#3db54a" opacity="0.8"/>
<rect x="342.41" y="525.47" width="1.0" height="1.0" fill="#3db54a" opacity="0.8"/>
<rect x="342.02" y="521.68" width="1.0" height="1.0" fill="#3db54a" opacity="0.8"/>
<rect x="340.56" y="533.61" width="1.0" height="1.0" fill="#3db54a" opacity="0.8"/>
<rect x="343.75" y="530.24" width="1.0" height="1.0" fill="#3db54a" opacity="0.8"/>
<rect x="340.16" y="523.21" width="1.0" height="1.0" fill="#3db54a" opacity="0.8"/>
<rect x="344.54" y="533.84" width="1.0" height="1.0" fill="#3db54a" opacity="0.8"/>
<rect x="339.22" y="531.47" width="1.0" height="1.0" fill="#3db54a" opacity="0.8"/>
<rect x="341.52" y="532.72" width="1.0" height="1.0" fill="#3db54a" opacity="0.8"/>
<rect x="344.42" y="538.29" width="1.0" height="1.0" fill="#3db54a" opacity="0.8"/>
<rect x="344.15" y="540.14" width="1.0" height="1.0" fill="#3db54a" opacity="0.8"/>
<rect x="340.33" y="525.61" width="1.0" height="1.0" fill="#3db54a" opacity="0.8"/>
<rect x="343.91" y="523.87" width="1.0" height="1.0" fill="#3db54a" opacity="0.8"/>
<rect x="342.44" y="529.35" width="1.0" height="1.0" fill="#3db54a" opacity="0.8"/>
<rect x="342.08" y="526.04" width="1.0" height="1.0" fill="#3db54a" opacity="0.8"/>
<rect x="341.47" y="528.32" width="1.0" height="1.0" fill="#3db54a" opacity="0.8"/>
<rect x="342.87" y="530.43" width="1.0" height="1.0" fill="#3db54a" opacity="0.8"/>
<rect x="343.23" y="526.11" width="1.0" height="1.0" fill="#3db54a" opacity="0.8"/>
<rect x="345.55" y="527.96" width="1.0" height="1.0" fill="#3db54a" opacity="0.8"/>
<rect x="341.00" y="533.29" width="1.0" height="1.0" fill="#3db54a" opacity="0.8"/>
<rect x="341.78" y="523.38" width="1.0" height="1.0" fill="#3db54a" opacity="0.8"/>
<rect x="341.17" y="527.49" width="1.0" height="1.0" fill="#3db54a" opacity="0.8"/>
<rect x="345.23" y="550.04" width="1.0" height="1.0" fill="#3db54a" opacity="0.8"/>
<rect x="339.70" y="528.58" width="1.0" height="1.0" fill="#3db54a" opacity="0.8"/>
<rect x="342.54" y="528.62" width="1.0" height="1.0" fill="#3db54a" opacity="0.8"/>
<rect x="340.99" y="525.43" width="1.0" height="1.0" fill="#3db54a" opacity="0.8"/>
<rect x="342.33" y="534.43" width="1.0" height="1.0" fill="#3db54a" opacity="0.8"/>
<rect x="346.34" y="527.73" width="1.0" height="1.0" fill="#3db54a" opacity="0.8"/>
<rect x="340.76" y="531.20" width="1.0" height="1.0" fill="#3db54a" opacity="0.8"/>
<rect x="341.38" y="530.92" width="1.0" height="1.0" fill="#3db54a" opacity="0.8"/>
<rect x="336.71" y="534.16" width="1.0" height="1.0" fill="#3db54a" opacity="0.8"/>
<rect x="343.68" y="539.37" width="1.0" height="1.0" fill="#3db54a" opacity="0.8"/>
<rect x="341.68" y="523.15" width="1.0" height="1.0" fill="#3db54a" opacity="0.8"/>
<rect x="343.40" y="519.04" width="1.0" height="1.0" fill="#3db54a" opacity="0.8"/>
<rect x="338.62" y="533.14" width="1.0" height="1.0" fill="#3db54a" opacity="0.8"/>
<rect x="341.16" y="525.68" width="1.0" height="1.0" fill="#3db54a" opacity="0.8"/>
<rect x="343.84" y="550.95" width="1.0" height="1.0" fill="#3db54a" opacity="0.8"/>
<rect x="343.83" y="541.51" width="1.0" height="1.0" fill="#3db54a" opacity="0.8"/>
<rect x="343.08" y="541.85" width="1.0" height="1.0" fill="#3db54a" opacity="0.8"/>
<rect x="342.13" y="521.31" width="1.0" height="1.0" fill="#3db54a" opacity="0.8"/>
<rect x="341.52" y="528.98" width="1.0" height="1.0" fill="#3db54a" opacity="0.8"/>
<rect x="343.29" y="529.36" width="1.0" height="1.0" fill="#3db54a" opacity="0.8"/>
<rect x="341.63" y="518.72" width="1.0" height="1.0" fill="#3db54a" opacity="0.8"/>
<rect x="343.76" y="532.69" width="1.0" height="1.0" fill="#3db54a" opacity="0.8"/>
<rect x="346.93" y="539.21" width="1.0" height="1.0" fill="#3db54a" opacity="0.8"/>
<rect x="343.51" y="532.47" width="1.0" height="1.0" fill="#3db54a" opacity="0.8"/>
<rect x="342.05" y="525.05" width="1.0" height="1.0" fill="#3db54a" opacity="0.8"/>
<rect x="342.21" y="525.56" width="1.0" height="1.0" fill="#3db54a" opacity="0.8"/>
<rect x="338.95" y="541.98" width="1.0" height="1.0" fill="#3db54a" opacity="0.8"/>
<rect x="342.95" y="537.80" width="1.0" height="1.0" fill="#3db54a" opacity="0.8"/>
<rect x="339.88" y="541.68" width="1.0" height="1.0" fill="#3db54a" opacity="0.8"/>
<rect x="344.16" y="524.73" width="1.0" height="1.0" fill="#3db54a" opacity="0.8"/>
<rect x="344.55" y="537.61" width="1.0" height="1.0" fill="#3db54a" opacity="0.8"/>
<rect x="341.80" y="539.16" width="1.0" height="1.0" fill="#3db54a" opacity="0.8"/>
<rect x="343.23" y="518.29" width="1.0" height="1.0" fill="#3db54a" opacity="0.8"/>
<rect x="340.14" y="518.51" width="1.0" height="1.0" fill="#3db54a" opacity="0.8"/>
<rect x="343.65" y="531.80" width="1.0" height="1.0" fill="#3db54a" opacity="0.8"/>
<rect x="338.12" y="519.69" width="1.0" height="1.0" fill="#3db54a" opacity="0.8"/>
<rect x="341.62" y="535.05" width="1.0" height="1.0" fill="#3db54a" opacity="0.8"/>
<rect x="342.55" y="527.31" width="1.0" height="1.0" fill="#3db54a" opacity="0.8"/>
<rect x="344.60" y="538.24" width="1.0" height="1.0" fill="#3db54a" opacity="0.8"/>
<rect x="343.92" y="519.07" width="1.0" height="1.0" fill="#3db54a" opacity="0.8"/>
<rect x="344.51" y="531.82" width="1.0" height="1.0" fill="#3db54a" opacity="0.8"/>
<rect x="340.41" y="522.65" width="1.0" height="1.0" fill="#3db54a" opacity="0.8"/>
<rect x="342.02" y="529.49" width="1.0" height="1.0" fill="#3db54a" opacity="0.8"/>
<rect x="344.46" y="532.45" width="1.0" height="1.0" fill="#3db54a" opacity="0.8"/>
<rect x="337.51" y="533.40" width="1.0" height="1.0" fill="#3db54a" opacity="0.8"/>
<rect x="338.34" y="524.18" width="1.0" height="1.0" fill="#3db54a" opacity="0.8"/>
<rect x="342.39" y="535.11" width="1.0" height="1.0" fill="#3db54a" opacity="0.8"/>
<rect x="341.78" y="524.08" width="1.0" height="1.0" fill="#3db54a" opacity="0.8"/>
<rect x="341.95" y="520.30" width="1.0" height="1.0" fill="#3db54a" opacity="0.8"/>
<rect x="341.69" y="522.49" width="1.0" height="1.0" fill="#3db54a" opacity="0.8"/>
<rect x="344.59" y="518.13" width="1.0" height="1.0" fill="#3db54a" opacity="0.8"/>
<rect x="340.55" y="523.71" width="1.0" height="1.0" fill="#3db54a" opacity="0.8"/>
<rect x="338.30" y="538.72" width="1.0" height="1.0" fill="#3db54a" opacity="0.8"/>
<rect x="338.13" y="522.27" width="1.0" height="1.0" fill="#3db54a" opacity="0.8"/>
<rect x="339.50" y="530.54" width="1.0" height="1.0" fill="#3db54a" opacity="0.8"/>
<rect x="341.44" y="530.66" width="1.0" height="1.0" fill="#3db54a" opacity="0.8"/>
<rect x="340.70" y="528.65" width="1.0" height="1.0" fill="#3db54a" opacity="0.8"/>
<rect x="345.15" y="530.10" width="1.0" height="1.0" fill="#3db54a" opacity="0.8"/>
<rect x="342.79" y="522.79" width="1.0" height="1.0" fill="#3db54a" opacity="0.8"/>
<rect x="341.43" y="540.07" width="1.0" height="1.0" fill="#3db54a" opacity="0.8"/>
<rect x="340.76" y="522.23" width="1.0" height="1.0" fill="#3db54a" opacity="0.8"/>
<rect x="338.73" y="535.01" width="1.0" height="1.0" fill="#3db54a" opacity="0.8"/>
<rect x="343.68" y="524.38" width="1.0" height="1.0" fill="#3db54a" opacity="0.8"/>
<rect x="341.81" y="524.28" width="1.0" height="1.0" fill="#3db54a" opacity="0.8"/>
<rect x="342.11" y="539.45" width="1.0" height="1.0" fill="#3db54a" opacity="0.8"/>
<rect x="338.88" y="535.32" width="1.0" height="1.0" fill="#3db54a" opacity="0.8"/>
<rect x="343.52" y="534.76" width="1.0" height="1.0" fill="#3db54a" opacity="0.8"/>
<rect x="340.11" y="536.33" width="1.0" height="1.0" fill="#3db54a" opacity="0.8"/>
<rect x="338.94" y="531.34" width="1.0" height="1.0" fill="#3db54a" opacity="0.8"/>
<rect x="339.60" y="527.66" width="1.0" height="1.0" fill="#3db54a" opacity="0.8"/>
<rect x="337.39" y="527.93" width="1.0" height="1.0" fill="#3db54a" opacity="0.8"/>
<rect x="340.60" y="545.29" width="1.0" height="1.0" fill="#3db54a" opacity="0.8"/>
<rect x="343.15" y="532.55" width="1.0" height="1.0" fill="#3db54a" opacity="0.8"/>
<rect x="337.64" y="537.13" width="1.0" height="1.0" fill="#3db54a" opacity="0.8"/>
<rect x="342.34" y="533.95" width="1.0" height="1.0" fill="#3db54a" opacity="0.8"/>
<rect x="343.26" y="524.73" width="1.0" height="1.0" fill="#3db54a" opacity="0.8"/>
<rect x="343.04" y="527.94" width="1.0" height="1.0" fill="#3db54a" opacity="0.8"/>
<rect x="344.29" y="525.40" width="1.0" height="1.0" fill="#3db54a" opacity="0.8"/>
<rect x="342.64" y="546.37" width="1.0" height="1.0" fill="#3db54a" opacity="0.8"/>
<rect x="343.47" y="520.43" width="1.0" height="1.0" fill="#3db54a" opacity="0.8"/>
<rect x="341.25" y="534.03" width="1.0" height="1.0" fill="#3db54a" opacity="0.8"/>
<rect x="345.42" y="543.88" width="1.0" height="1.0" fill="#3db54a" opacity="0.8"/>
<rect x="342.68" y="511.91" width="1.0" height="1.0" fill="#3db54a" opacity="0.8"/>
<rect x="340.07" y="525.17" width="1.0" height="1.0" fill="#3db54a" opacity="0.8"/>
<rect x="345.32" y="531.36" width="1.0" height="1.0" fill="#3db54a" opacity="0.8"/>
<rect x="342.85" y="523.54" width="1.0" height="1.0" fill="#3db54a" opacity="0.8"/>
<rect x="340.11" y="531.12" width="1.0" height="1.0" fill="#3db54a" opacity="0.8"/>
<rect x="342.35" y="524.13" width="1.0" height="1.0" fill="#3db54a" opacity="0.8"/>
<rect x="341.74" y="531.93" width="1.0" height="1.0" fill="#3db54a" opacity="0.8"/>
<rect x="339.90" y="533.18" width="1.0" height="1.0" fill="#3db54a" opacity="0.8"/>
<rect x="343.47" y="529.66" width="1.0" height="1.0" fill="#3db54a" opacity="0.8"/>
<rect x="340.21" y="536.87" width="1.0" height="1.0" fill="#3db54a" opacity="0.8"/>
<rect x="346.78" y="521.73" width="1.0" height="1.0" fill="#3db54a" opacity="0.8"/>
<rect x="342.99" y="550.26" width="1.0" height="1.0" fill="#3db54a" opacity="0.8"/>
<rect x="342.96" y="526.77" width="1.0" height="1.0" fill="#3db54a" opacity="0.8"/>
<rect x="344.95" y="527.17" width="1.0" height="1.0" fill="#3db54a" opacity="0.8"/>
<rect x="341.67" y="526.45" width="1.0" height="1.0" fill="#3db54a" opacity="0.8"/>
<rect x="338.17" y="522.54" width="1.0" height="1.0" fill="#3db54a" opacity="0.8"/>
<rect x="342.41" y="535.81" width="1.0" height="1.0" fill="#3db54a" opacity="0.8"/>
<rect x="337.35" y="539.61" width="1.0" height="1.0" fill="#3db54a" opacity="0.8"/>
<rect x="342.72" y="527.92" width="1.0" height="1.0" fill="#3db54a" opacity="0.8"/>
<rect x="340.53" y="543.84" width="1.0" height="1.0" fill="#3db54a" opacity="0.8"/>
<rect x="348.53" y="516.17" width="1.0" height="1.0" fill="#3db54a" opacity="0.8"/>
<rect x="338.01" y="548.95" width="1.0" height="1.0" fill="#3db54a" opacity="0.8"/>
<rect x="347.21" y="516.83" width="1.0" height="1.0" fill="#3db54a" opacity="0.8"/>
<rect x="347.58" y="519.29" width="1.0" height="1.0" fill="#3db54a" opacity="0.8"/>
<rect x="339.03" y="526.85" width="1.0" height="1.0" fill="#3db54a" opacity="0.8"/>
<rect x="341.61" y="523.25" width="1.0" height="1.0" fill="#3db54a" opacity="0.8"/>
<rect x="339.49" y="532.15" width="1.0" height="1.0" fill="#3db54a" opacity="0.8"/>
<rect x="343.26" y="525.26" width="1.0" height="1.0" fill="#3db54a" opacity="0.8"/>
<rect x="343.83" y="527.56" width="1.0" height="1.0" fill="#3db54a" opacity="0.8"/>
<rect x="340.77" y="519.58" width="1.0" height="1.0" fill="#3db54a" opacity="0.8"/>
<rect x="341.96" y="541.81" width="1.0" height="1.0" fill="#3db54a" opacity="0.8"/>
<rect x="339.81" y="530.44" width="1.0" height="1.0" fill="#3db54a" opacity="0.8"/>
<rect x="341.45" y="528.28" width="1.0" height="1.0" fill="#3db54a" opacity="0.8"/>
<rect x="341.80" y="528.02" width="1.0" height="1.0" fill="#3db54a" opacity="0.8"/>
<rect x="341.37" y="547.76" width="1.0" height="1.0" fill="#3db54a" opacity="0.8"/>
<rect x="343.14" y="515.94" width="1.0" height="1.0" fill="#3db54a" opacity="0.8"/>
<rect x="343.18" y="533.04" width="1.0" height="1.0" fill="#3db54a" opacity="0.8"/>
<rect x="343.22" y="543.73" width="1.0" height="1.0" fill="#3db54a" opacity="0.8"/>
<rect x="335.78" y="529.62" width="1.0" height="1.0" fill="#3db54a" opacity="0.8"/>
<rect x="338.85" y="520.26" width="1.0" height="1.0" fill="#3db54a" opacity="0.8"/>
<rect x="338.36" y="566.61" width="1.0" height="1.0" fill="#3db54a" opacity="0.8"/>
<rect x="338.50" y="508.73" width="1.0" height="1.0" fill="#3db54a" opacity="0.8"/>
<rect x="340.59" y="549.28" width="1.0" height="1.0" fill="#3db54a" opacity="0.8"/>
<rect x="372.62" y="554.96" width="1.0" height="1.0" fill="#3db54a" opacity="0.8"/>
<rect x="378.26" y="555.83" width="1.0" height="1.0" fill="#3db54a" opacity="0.8"/>
<rect x="382.69" y="554.48" width="1.0" height="1.0" fill="#3db54a" opacity="0.8"/>
<rect x="375.94" y="554.76" width="1.0" height="1.0" fill="#3db54a" opacity="0.8"/>
<rect x="383.45" y="553.81" width="1.0" height="1.0" fill="#3db54a" opacity="0.8"/>
<rect x="380.63" y="559.04" width="1.0" height="1.0" fill="#3db54a" opacity="0.8"/>
<rect x="375.37" y="554.42" width="1.0" height="1.0" fill="#3db54a" opacity="0.8"/>
<rect x="374.71" y="553.56" width="1.0" height="1.0" fill="#3db54a" opacity="0.8"/>
<rect x="378.71" y="553.97" width="1.0" height="1.0" fill="#3db54a" opacity="0.8"/>
<rect x="375.09" y="549.80" width="1.0" height="1.0" fill="#3db54a" opacity="0.8"/>
<rect x="381.60" y="556.83" width="1.0" height="1.0" fill="#3db54a" opacity="0.8"/>
<rect x="376.44" y="549.67" width="1.0" height="1.0" fill="#3db54a" opacity="0.8"/>
<rect x="374.50" y="554.06" width="1.0" height="1.0" fill="#3db54a" opacity="0.8"/>
<rect x="380.43" y="556.27" width="1.0" height="1.0" fill="#3db54a" opacity="0.8"/>
<rect x="370.81" y="555.81" width="1.0" height="1.0" fill="#3db54a" opacity="0.8"/>
<rect x="377.65" y="553.41" width="1.0" height="1.0" fill="#3db54a" opacity="0.8"/>
<rect x="379.55" y="556.22" width="1.0" height="1.0" fill="#3db54a" opacity="0.8"/>
<rect x="379.86" y="554.91" width="1.0" height="1.0" fill="#3db54a" opacity="0.8"/>
<rect x="376.96" y="556.14" width="1.0" height="1.0" fill="#3db54a" opacity="0.8"/>
<rect x="374.95" y="554.54" width="1.0" height="1.0" fill="#3db54a" opacity="0.8"/>
<rect x="371.31" y="557.89" width="1.0" height="1.0" fill="#3db54a" opacity="0.8"/>
<rect x="376.06" y="560.01" width="1.0" height="1.0" fill="#3db54a" opacity="0.8"/>
<rect x="374.08" y="561.40" width="1.0" height="1.0" fill="#3db54a" opacity="0.8"/>
<rect x="372.98" y="554.84" width="1.0" height="1.0" fill="#3db54a" opacity="0.8"/>
<rect x="378.58" y="556.42" width="1.0" height="1.0" fill="#3db54a" opacity="0.8"/>
<rect x="375.00" y="559.89" width="1.0" height="1.0" fill="#3db54a" opacity="0.8"/>
<rect x="384.23" y="554.97" width="1.0" height="1.0" fill="#3db54a" opacity="0.8"/>
<rect x="380.94" y="558.53" width="1.0" height="1.0" fill="#3db54a" opacity="0.8"/>
<rect x="375.21" y="560.92" width="1.0" height="1.0" fill="#3db54a" opacity="0.8"/>
<rect x="379.54" y="553.90" width="1.0" height="1.0" fill="#3db54a" opacity="0.8"/>
<rect x="367.53" y="556.42" width="1.0" height="1.0" fill="#3db54a" opacity="0.8"/>
<rect x="378.86" y="560.77" width="1.0" height="1.0" fill="#3db54a" opacity="0.8"/>
<rect x="367.86" y="559.00" width="1.0" height="1.0" fill="#3db54a" opacity="0.8"/>
<rect x="373.22" y="559.86" width="1.0" height="1.0" fill="#3db54a" opacity="0.8"/>
<rect x="376.18" y="555.65" width="1.0" height="1.0" fill="#3db54a" opacity="0.8"/>
<rect x="378.88" y="554.50" width="1.0" height="1.0" fill="#3db54a" opacity="0.8"/>
<rect x="382.77" y="553.32" width="1.0" height="1.0" fill="#3db54a" opacity="0.8"/>
<rect x="370.16" y="557.57" width="1.0" height="1.0" fill="#3db54a" opacity="0.8"/>
<rect x="371.29" y="559.03" width="1.0" height="1.0" fill="#3db54a" opacity="0.8"/>
<rect x="375.67" y="556.27" width="1.0" height="1.0" fill="#3db54a" opacity="0.8"/>
<rect x="378.24" y="560.33" width="1.0" height="1.0" fill="#3db54a" opacity="0.8"/>
<rect x="370.49" y="556.34" width="1.0" height="1.0" fill="#3db54a" opacity="0.8"/>
<rect x="375.14" y="557.08" width="1.0" height="1.0" fill="#3db54a" opacity="0.8"/>
<rect x="375.75" y="558.22" width="1.0" height="1.0" fill="#3db54a" opacity="0.8"/>
<rect x="379.18" y="555.38" width="1.0" height="1.0" fill="#3db54a" opacity="0.8"/>
<rect x="375.64" y="558.00" width="1.0" height="1.0" fill="#3db54a" opacity="0.8"/>
<rect x="375.26" y="563.22" width="1.0" height="1.0" fill="#3db54a" opacity="0.8"/>
<rect x="371.64" y="556.19" width="1.0" height="1.0" fill="#3db54a" opacity="0.8"/>
<rect x="369.30" y="555.78" width="1.0" height="1.0" fill="#3db54a" opacity="0.8"/>
<rect x="376.70" y="559.79" width="1.0" height="1.0" fill="#3db54a" opacity="0.8"/>
<rect x="374.91" y="557.08" width="1.0" height="1.0" fill="#3db54a" opacity="0.8"/>
<rect x="378.10" y="554.72" width="1.0" height="1.0" fill="#3db54a" opacity="0.8"/>
<rect x="375.87" y="558.45" width="1.0" height="1.0" fill="#3db54a" opacity="0.8"/>
<rect x="375.39" y="556.45" width="1.0" height="1.0" fill="#3db54a" opacity="0.8"/>
<rect x="379.33" y="555.53" width="1.0" height="1.0" fill="#3db54a" opacity="0.8"/>
<rect x="372.80" y="559.74" width="1.0" height="1.0" fill="#3db54a" opacity="0.8"/>
<rect x="374.37" y="558.17" width="1.0" height="1.0" fill="#3db54a" opacity="0.8"/>
<rect x="371.05" y="556.58" width="1.0" height="1.0" fill="#3db54a" opacity="0.8"/>
<rect x="373.84" y="556.02" width="1.0" height="1.0" fill="#3db54a" opacity="0.8"/>
<rect x="378.38" y="557.34" width="1.0" height="1.0" fill="#3db54a" opacity="0.8"/>
<rect x="386.46" y="557.10" width="1.0" height="1.0" fill="#3db54a" opacity="0.8"/>
<rect x="380.98" y="555.97" width="1.0" height="1.0" fill="#3db54a" opacity="0.8"/>
<rect x="381.04" y="562.34" width="1.0" height="1.0" fill="#3db54a" opacity="0.8"/>
<rect x="372.67" y="555.65" width="1.0" height="1.0" fill="#3db54a" opacity="0.8"/>
<rect x="378.74" y="550.33" width="1.0" height="1.0" fill="#3db54a" opacity="0.8"/>
<rect x="377.48" y="553.02" width="1.0" height="1.0" fill="#3db54a" opacity="0.8"/>
<rect x="379.47" y="553.87" width="1.0" height="1.0" fill="#3db54a" opacity="0.8"/>
<rect x="378.32" y="556.68" width="1.0" height="1.0" fill="#3db54a" opacity="0.8"/>
<rect x="378.32" y="559.03" width="1.0" height="1.0" fill="#3db54a" opacity="0.8"/>
<rect x="381.33" y="558.88" width="1.0" height="1.0" fill="#3db54a" opacity="0.8"/>
<rect x="377.15" y="550.88" width="1.0" height="1.0" fill="#3db54a" opacity="0.8"/>
<rect x="375.04" y="556.23" width="1.0" height="1.0" fill="#3db54a" opacity="0.8"/>
<rect x="381.25" y="556.22" width="1.0" height="1.0" fill="#3db54a" opacity="0.8"/>
<rect x="372.42" y="555.63" width="1.0" height="1.0" fill="#3db54a" opacity="0.8"/>
<rect x="378.65" y="554.47" width="1.0" height="1.0" fill="#3db54a" opacity="0.8"/>
<rect x="372.58" y="551.82" width="1.0" height="1.0" fill="#3db54a" opacity="0.8"/>
<rect x="383.51" y="556.24" width="1.0" height="1.0" fill="#3db54a" opacity="0.8"/>
<rect x="377.24" y="557.38" width="1.0" height="1.0" fill="#3db54a" opacity="0.8"/>
<rect x="382.38" y="558.08" width="1.0" height="1.0" fill="#3db54a" opacity="0.8"/>
<rect x="379.06" y="557.51" width="1.0" height="1.0" fill="#3db54a" opacity="0.8"/>
<rect x="372.93" y="554.45" width="1.0" height="1.0" fill="#3db54a" opacity="0.8"/>
<rect x="382.02" y="556.31" width="1.0" height="1.0" fill="#3db54a" opacity="0.8"/>
<rect x="373.00" y="554.22" width="1.0" height="1.0" fill="#3db54a" opacity="0.8"/>
<rect x="375.82" y="555.49" width="1.0" height="1.0" fill="#3db54a" opacity="0.8"/>
<rect x="382.86" y="553.40" width="1.0" height="1.0" fill="#3db54a" opacity="0.8"/>
<rect x="373.71" y="550.47" width="1.0" height="1.0" fill="#3db54a" opacity="0.8"/>
<rect x="376.05" y="554.28" width="1.0" height="1.0" fill="#3db54a" opacity="0.8"/>
<rect x="373.14" y="556.40" width="1.0" height="1.0" fill="#3db54a" opacity="0.8"/>
<rect x="368.19" y="551.73" width="1.0" height="1.0" fill="#3db54a" opacity="0.8"/>
<rect x="382.16" y="559.38" width="1.0" height="1.0" fill="#3db54a" opacity="0.8"/>
<rect x="369.29" y="560.41" width="1.0" height="1.0" fill="#3db54a" opacity="0.8"/>
<rect x="381.31" y="557.45" width="1.0" height="1.0" fill="#3db54a" opacity="0.8"/>
<rect x="375.77" y="557.08" width="1.0" height="1.0" fill="#3db54a" opacity="0.8"/>
<rect x="375.49" y="559.06" width="1.0" height="1.0" fill="#3db54a" opacity="0.8"/>
<rect x="376.15" y="559.95" width="1.0" height="1.0" fill="#3db54a" opacity="0.8"/>
<rect x="375.72" y="555.50" width="1.0" height="1.0" fill="#3db54a" opacity="0.8"/>
<rect x="378.13" y="556.87" width="1.0" height="1.0" fill="#3db54a" opacity="0.8"/>
<rect x="371.99" y="555.88" width="1.0" height="1.0" fill="#3db54a" opacity="0.8"/>
<rect x="373.87" y="552.29" width="1.0" height="1.0" fill="#3db54a" opacity="0.8"/>
<rect x="379.48" y="556.58" width="1.0" height="1.0" fill="#3db54a" opacity="0.8"/>
<rect x="373.93" y="558.07" width="1.0" height="1.0" fill="#3db54a" opacity="0.8"/>
<rect x="371.84" y="557.18" width="1.0" height="1.0" fill="#3db54a" opacity="0.8"/>
<rect x="377.36" y="554.97" width="1.0" height="1.0" fill="#3db54a" opacity="0.8"/>
<rect x="378.59" y="550.94" width="1.0" height="1.0" fill="#3db54a" opacity="0.8"/>
<rect x="372.88" y="556.25" width="1.0" height="1.0" fill="#3db54a" opacity="0.8"/>
<rect x="388.56" y="561.04" width="1.0" height="1.0" fill="#3db54a" opacity="0.8"/>
<rect x="373.70" y="555.85" width="1.0" height="1.0" fill="#3db54a" opacity="0.8"/>
<rect x="376.73" y="555.24" width="1.0" height="1.0" fill="#3db54a" opacity="0.8"/>
<rect x="374.97" y="555.35" width="1.0" height="1.0" fill="#3db54a" opacity="0.8"/>
<rect x="376.27" y="554.32" width="1.0" height="1.0" fill="#3db54a" opacity="0.8"/>
<rect x="367.55" y="558.54" width="1.0" height="1.0" fill="#3db54a" opacity="0.8"/>
<rect x="376.03" y="558.91" width="1.0" height="1.0" fill="#3db54a" opacity="0.8"/>
<rect x="371.36" y="554.68" width="1.0" height="1.0" fill="#3db54a" opacity="0.8"/>
<rect x="373.12" y="554.67" width="1.0" height="1.0" fill="#3db54a" opacity="0.8"/>
<rect x="379.38" y="555.50" width="1.0" height="1.0" fill="#3db54a" opacity="0.8"/>
<rect x="378.31" y="556.55" width="1.0" height="1.0" fill="#3db54a" opacity="0.8"/>
<rect x="369.72" y="556.36" width="1.0" height="1.0" fill="#3db54a" opacity="0.8"/>
<rect x="378.07" y="557.63" width="1.0" height="1.0" fill="#3db54a" opacity="0.8"/>
<rect x="375.59" y="554.37" width="1.0" height="1.0" fill="#3db54a" opacity="0.8"/>
<rect x="372.10" y="554.65" width="1.0" height="1.0" fill="#3db54a" opacity="0.8"/>
<rect x="390.23" y="558.83" width="1.0" height="1.0" fill="#3db54a" opacity="0.8"/>
<rect x="377.15" y="556.97" width="1.0" height="1.0" fill="#3db54a" opacity="0.8"/>
<rect x="387.77" y="554.83" width="1.0" height="1.0" fill="#3db54a" opacity="0.8"/>
<rect x="382.88" y="559.45" width="1.0" height="1.0" fill="#3db54a" opacity="0.8"/>
<rect x="375.91" y="556.33" width="1.0" height="1.0" fill="#3db54a" opacity="0.8"/>
<rect x="362.51" y="549.68" width="1.0" height="1.0" fill="#3db54a" opacity="0.8"/>
<rect x="382.89" y="564.31" width="1.0" height="1.0" fill="#3db54a" opacity="0.8"/>
<rect x="381.71" y="556.89" width="1.0" height="1.0" fill="#3db54a" opacity="0.8"/>
<rect x="379.45" y="554.60" width="1.0" height="1.0" fill="#3db54a" opacity="0.8"/>
<rect x="364.62" y="557.26" width="1.0" height="1.0" fill="#3db54a" opacity="0.8"/>
<rect x="387.41" y="558.92" width="1.0" height="1.0" fill="#3db54a" opacity="0.8"/>
<rect x="368.24" y="562.52" width="1.0" height="1.0" fill="#3db54a" opacity="0.8"/>
<rect x="366.73" y="554.75" width="1.0" height="1.0" fill="#3db54a" opacity="0.8"/>
<rect x="388.93" y="554.31" width="1.0" height="1.0" fill="#3db54a" opacity="0.8"/>
<rect x="377.91" y="546.04" width="1.0" height="1.0" fill="#3db54a" opacity="0.8"/>
<rect x="372.08" y="559.38" width="1.0" height="1.0" fill="#3db54a" opacity="0.8"/>
<rect x="380.06" y="553.77" width="1.0" height="1.0" fill="#3db54a" opacity="0.8"/>
<rect x="368.31" y="561.65" width="1.0" height="1.0" fill="#3db54a" opacity="0.8"/>
<rect x="378.25" y="555.15" width="1.0" height="1.0" fill="#3db54a" opacity="0.8"/>
<rect x="366.08" y="557.21" width="1.0" height="1.0" fill="#3db54a" opacity="0.8"/>
<rect x="360.06" y="556.10" width="0.9" height="0.9" fill="#a8c8a8" opacity="0.7"/>
<rect x="372.79" y="568.12" width="0.9" height="0.9" fill="#a8c8a8" opacity="0.7"/>
<rect x="354.89" y="542.72" width="0.9" height="0.9" fill="#a8c8a8" opacity="0.7"/>
<rect x="394.18" y="532.34" width="0.9" height="0.9" fill="#a8c8a8" opacity="0.7"/>
<rect x="389.68" y="541.89" width="0.9" height="0.9" fill="#a8c8a8" opacity="0.7"/>
<rect x="350.90" y="554.77" width="0.9" height="0.9" fill="#a8c8a8" opacity="0.7"/>
<rect x="394.28" y="528.95" width="0.9" height="0.9" fill="#a8c8a8" opacity="0.7"/>
<rect x="355.24" y="567.48" width="0.9" height="0.9" fill="#a8c8a8" opacity="0.7"/>
<rect x="366.65" y="530.66" width="0.9" height="0.9" fill="#a8c8a8" opacity="0.7"/>
<rect x="361.97" y="554.20" width="0.9" height="0.9" fill="#a8c8a8" opacity="0.7"/>
<rect x="376.75" y="516.51" width="0.9" height="0.9" fill="#a8c8a8" opacity="0.7"/>
<rect x="350.42" y="566.79" width="0.9" height="0.9" fill="#a8c8a8" opacity="0.7"/>
<rect x="357.07" y="544.98" width="0.9" height="0.9" fill="#a8c8a8" opacity="0.7"/>
<rect x="377.66" y="557.53" width="0.9" height="0.9" fill="#a8c8a8" opacity="0.7"/>
<path d="M337.31,529.55 L399.13,570.74 L400.87,568.06 L338.29,528.05Z" fill="#e8a8b8" opacity="0.5"/>
<line x1="337.80" y1="528.80" x2="400.00" y2="569.40" stroke="#983848" stroke-width="0.9" />
<line x1="334.50" y1="506.90" x2="334.50" y2="574.50" stroke="#231f20" stroke-width="1.15" />
<line x1="334.00" y1="574.00" x2="401.60" y2="574.00" stroke="#231f20" stroke-width="1.15" />
<line x1="331.90" y1="563.70" x2="334.50" y2="563.70" stroke="#231f20" stroke-width="0.8" />
<text x="328.90" y="565.98" font-size="6.6" text-anchor="end" fill="#1a1a1a" >7</text>
<line x1="331.90" y1="545.50" x2="334.50" y2="545.50" stroke="#231f20" stroke-width="0.8" />
<text x="328.90" y="547.78" font-size="6.6" text-anchor="end" fill="#1a1a1a" >8</text>
<line x1="331.90" y1="527.30" x2="334.50" y2="527.30" stroke="#231f20" stroke-width="0.8" />
<text x="328.90" y="529.58" font-size="6.6" text-anchor="end" fill="#1a1a1a" >9</text>
<line x1="331.90" y1="509.10" x2="334.50" y2="509.10" stroke="#231f20" stroke-width="0.8" />
<text x="328.90" y="511.38" font-size="6.6" text-anchor="end" fill="#1a1a1a" >10</text>
<line x1="342.30" y1="574.00" x2="342.30" y2="576.60" stroke="#231f20" stroke-width="0.8" />
<text x="342.30" y="586.18" font-size="6.6" text-anchor="middle" fill="#1a1a1a" >7</text>
<line x1="354.75" y1="574.00" x2="354.75" y2="576.60" stroke="#231f20" stroke-width="0.8" />
<text x="354.75" y="586.18" font-size="6.6" text-anchor="middle" fill="#1a1a1a" >8</text>
<line x1="367.20" y1="574.00" x2="367.20" y2="576.60" stroke="#231f20" stroke-width="0.8" />
<text x="367.20" y="586.18" font-size="6.6" text-anchor="middle" fill="#1a1a1a" >9</text>
<line x1="379.65" y1="574.00" x2="379.65" y2="576.60" stroke="#231f20" stroke-width="0.8" />
<text x="379.65" y="586.18" font-size="6.6" text-anchor="middle" fill="#1a1a1a" >10</text>
<line x1="392.10" y1="574.00" x2="392.10" y2="576.60" stroke="#231f20" stroke-width="0.8" />
<text x="392.10" y="586.18" font-size="6.6" text-anchor="middle" fill="#1a1a1a" >11</text>
<text x="368.20" y="599.80" font-size="8.2" text-anchor="middle" fill="#1a1a1a" font-style="italic" textLength="29.2" lengthAdjust="spacingAndGlyphs">SERPINE1</text>
<text transform="translate(315.60,539.80) rotate(-90)" font-size="8.2" text-anchor="middle" font-style="italic" fill="#1a1a1a" textLength="24.2" lengthAdjust="spacingAndGlyphs">ABCB11</text>
<text x="337.80" y="513.71" font-size="6.4" fill="#1a1a1a"><tspan font-style="italic">r</tspan> = −0.85</text>
<text x="369.00" y="513.71" font-size="6.4" fill="#1a1a1a"><tspan font-style="italic">P</tspan> &lt; .001</text>
<text x="418.50" y="490.20" font-size="11.4" text-anchor="start" fill="#000" font-weight="bold" stroke="#000" stroke-width="0.45">K</text>
<text x="478.70" y="503.20" font-size="8.5" text-anchor="middle" fill="#1a1a1a" stroke="#231f20" stroke-width="0.18">Baboon</text>
<rect x="449.94" y="524.11" width="1.0" height="1.0" fill="#3db54a" opacity="0.8"/>
<rect x="454.28" y="520.66" width="1.0" height="1.0" fill="#3db54a" opacity="0.8"/>
<rect x="454.07" y="524.57" width="1.0" height="1.0" fill="#3db54a" opacity="0.8"/>
<rect x="452.41" y="525.34" width="1.0" height="1.0" fill="#3db54a" opacity="0.8"/>
<rect x="449.23" y="525.91" width="1.0" height="1.0" fill="#3db54a" opacity="0.8"/>
<rect x="453.61" y="524.04" width="1.0" height="1.0" fill="#3db54a" opacity="0.8"/>
<rect x="451.16" y="527.46" width="1.0" height="1.0" fill="#3db54a" opacity="0.8"/>
<rect x="451.59" y="526.21" width="1.0" height="1.0" fill="#3db54a" opacity="0.8"/>
<rect x="451.84" y="523.42" width="1.0" height="1.0" fill="#3db54a" opacity="0.8"/>
<rect x="447.36" y="524.93" width="1.0" height="1.0" fill="#3db54a" opacity="0.8"/>
<rect x="448.94" y="527.14" width="1.0" height="1.0" fill="#3db54a" opacity="0.8"/>
<rect x="449.37" y="521.79" width="1.0" height="1.0" fill="#3db54a" opacity="0.8"/>
<rect x="453.06" y="523.40" width="1.0" height="1.0" fill="#3db54a" opacity="0.8"/>
<rect x="450.34" y="528.45" width="1.0" height="1.0" fill="#3db54a" opacity="0.8"/>
<rect x="451.04" y="524.16" width="1.0" height="1.0" fill="#3db54a" opacity="0.8"/>
<rect x="451.63" y="522.90" width="1.0" height="1.0" fill="#3db54a" opacity="0.8"/>
<rect x="451.08" y="520.00" width="1.0" height="1.0" fill="#3db54a" opacity="0.8"/>
<rect x="453.04" y="519.49" width="1.0" height="1.0" fill="#3db54a" opacity="0.8"/>
<rect x="452.24" y="525.30" width="1.0" height="1.0" fill="#3db54a" opacity="0.8"/>
<rect x="450.13" y="522.59" width="1.0" height="1.0" fill="#3db54a" opacity="0.8"/>
<rect x="453.79" y="524.29" width="1.0" height="1.0" fill="#3db54a" opacity="0.8"/>
<rect x="452.56" y="525.41" width="1.0" height="1.0" fill="#3db54a" opacity="0.8"/>
<rect x="450.96" y="525.46" width="1.0" height="1.0" fill="#3db54a" opacity="0.8"/>
<rect x="448.13" y="527.35" width="1.0" height="1.0" fill="#3db54a" opacity="0.8"/>
<rect x="451.84" y="524.37" width="1.0" height="1.0" fill="#3db54a" opacity="0.8"/>
<rect x="453.87" y="523.06" width="1.0" height="1.0" fill="#3db54a" opacity="0.8"/>
<rect x="452.58" y="524.57" width="1.0" height="1.0" fill="#3db54a" opacity="0.8"/>
<rect x="447.39" y="524.57" width="1.0" height="1.0" fill="#3db54a" opacity="0.8"/>
<rect x="450.05" y="523.42" width="1.0" height="1.0" fill="#3db54a" opacity="0.8"/>
<rect x="451.22" y="525.59" width="1.0" height="1.0" fill="#3db54a" opacity="0.8"/>
<rect x="450.72" y="525.47" width="1.0" height="1.0" fill="#3db54a" opacity="0.8"/>
<rect x="447.97" y="528.88" width="1.0" height="1.0" fill="#3db54a" opacity="0.8"/>
<rect x="454.10" y="523.58" width="1.0" height="1.0" fill="#3db54a" opacity="0.8"/>
<rect x="450.90" y="525.62" width="1.0" height="1.0" fill="#3db54a" opacity="0.8"/>
<rect x="451.05" y="516.21" width="1.0" height="1.0" fill="#3db54a" opacity="0.8"/>
<rect x="452.76" y="524.71" width="1.0" height="1.0" fill="#3db54a" opacity="0.8"/>
<rect x="450.45" y="530.90" width="1.0" height="1.0" fill="#3db54a" opacity="0.8"/>
<rect x="451.99" y="521.10" width="1.0" height="1.0" fill="#3db54a" opacity="0.8"/>
<rect x="453.56" y="524.03" width="1.0" height="1.0" fill="#3db54a" opacity="0.8"/>
<rect x="450.58" y="527.82" width="1.0" height="1.0" fill="#3db54a" opacity="0.8"/>
<rect x="451.90" y="525.80" width="1.0" height="1.0" fill="#3db54a" opacity="0.8"/>
<rect x="449.54" y="520.39" width="1.0" height="1.0" fill="#3db54a" opacity="0.8"/>
<rect x="449.93" y="526.15" width="1.0" height="1.0" fill="#3db54a" opacity="0.8"/>
<rect x="447.13" y="520.26" width="1.0" height="1.0" fill="#3db54a" opacity="0.8"/>
<rect x="451.44" y="524.92" width="1.0" height="1.0" fill="#3db54a" opacity="0.8"/>
<rect x="452.30" y="526.93" width="1.0" height="1.0" fill="#3db54a" opacity="0.8"/>
<rect x="450.54" y="523.96" width="1.0" height="1.0" fill="#3db54a" opacity="0.8"/>
<rect x="450.15" y="523.89" width="1.0" height="1.0" fill="#3db54a" opacity="0.8"/>
<rect x="454.09" y="522.73" width="1.0" height="1.0" fill="#3db54a" opacity="0.8"/>
<rect x="454.48" y="521.92" width="1.0" height="1.0" fill="#3db54a" opacity="0.8"/>
<rect x="455.11" y="523.97" width="1.0" height="1.0" fill="#3db54a" opacity="0.8"/>
<rect x="452.58" y="527.58" width="1.0" height="1.0" fill="#3db54a" opacity="0.8"/>
<rect x="451.40" y="526.62" width="1.0" height="1.0" fill="#3db54a" opacity="0.8"/>
<rect x="451.61" y="527.45" width="1.0" height="1.0" fill="#3db54a" opacity="0.8"/>
<rect x="452.37" y="517.96" width="1.0" height="1.0" fill="#3db54a" opacity="0.8"/>
<rect x="450.24" y="523.21" width="1.0" height="1.0" fill="#3db54a" opacity="0.8"/>
<rect x="452.96" y="526.64" width="1.0" height="1.0" fill="#3db54a" opacity="0.8"/>
<rect x="451.18" y="526.09" width="1.0" height="1.0" fill="#3db54a" opacity="0.8"/>
<rect x="452.60" y="526.39" width="1.0" height="1.0" fill="#3db54a" opacity="0.8"/>
<rect x="456.79" y="522.46" width="1.0" height="1.0" fill="#3db54a" opacity="0.8"/>
<rect x="453.96" y="519.07" width="1.0" height="1.0" fill="#3db54a" opacity="0.8"/>
<rect x="454.42" y="525.01" width="1.0" height="1.0" fill="#3db54a" opacity="0.8"/>
<rect x="452.46" y="524.63" width="1.0" height="1.0" fill="#3db54a" opacity="0.8"/>
<rect x="452.27" y="522.17" width="1.0" height="1.0" fill="#3db54a" opacity="0.8"/>
<rect x="447.90" y="529.11" width="1.0" height="1.0" fill="#3db54a" opacity="0.8"/>
<rect x="451.12" y="523.55" width="1.0" height="1.0" fill="#3db54a" opacity="0.8"/>
<rect x="450.79" y="525.24" width="1.0" height="1.0" fill="#3db54a" opacity="0.8"/>
<rect x="453.89" y="522.96" width="1.0" height="1.0" fill="#3db54a" opacity="0.8"/>
<rect x="451.53" y="525.61" width="1.0" height="1.0" fill="#3db54a" opacity="0.8"/>
<rect x="448.88" y="523.46" width="1.0" height="1.0" fill="#3db54a" opacity="0.8"/>
<rect x="451.94" y="527.27" width="1.0" height="1.0" fill="#3db54a" opacity="0.8"/>
<rect x="452.67" y="525.74" width="1.0" height="1.0" fill="#3db54a" opacity="0.8"/>
<rect x="451.05" y="529.11" width="1.0" height="1.0" fill="#3db54a" opacity="0.8"/>
<rect x="453.43" y="526.79" width="1.0" height="1.0" fill="#3db54a" opacity="0.8"/>
<rect x="452.27" y="524.21" width="1.0" height="1.0" fill="#3db54a" opacity="0.8"/>
<rect x="450.59" y="524.99" width="1.0" height="1.0" fill="#3db54a" opacity="0.8"/>
<rect x="451.21" y="525.50" width="1.0" height="1.0" fill="#3db54a" opacity="0.8"/>
<rect x="452.03" y="526.53" width="1.0" height="1.0" fill="#3db54a" opacity="0.8"/>
<rect x="452.98" y="524.56" width="1.0" height="1.0" fill="#3db54a" opacity="0.8"/>
<rect x="449.37" y="523.79" width="1.0" height="1.0" fill="#3db54a" opacity="0.8"/>
<rect x="450.85" y="523.65" width="1.0" height="1.0" fill="#3db54a" opacity="0.8"/>
<rect x="447.10" y="523.98" width="1.0" height="1.0" fill="#3db54a" opacity="0.8"/>
<rect x="447.26" y="526.08" width="1.0" height="1.0" fill="#3db54a" opacity="0.8"/>
<rect x="457.81" y="523.20" width="1.0" height="1.0" fill="#3db54a" opacity="0.8"/>
<rect x="453.64" y="526.81" width="1.0" height="1.0" fill="#3db54a" opacity="0.8"/>
<rect x="449.38" y="525.18" width="1.0" height="1.0" fill="#3db54a" opacity="0.8"/>
<rect x="452.37" y="525.22" width="1.0" height="1.0" fill="#3db54a" opacity="0.8"/>
<rect x="450.25" y="527.26" width="1.0" height="1.0" fill="#3db54a" opacity="0.8"/>
<rect x="450.80" y="520.68" width="1.0" height="1.0" fill="#3db54a" opacity="0.8"/>
<rect x="451.60" y="525.90" width="1.0" height="1.0" fill="#3db54a" opacity="0.8"/>
<rect x="451.10" y="527.44" width="1.0" height="1.0" fill="#3db54a" opacity="0.8"/>
<rect x="449.01" y="524.47" width="1.0" height="1.0" fill="#3db54a" opacity="0.8"/>
<rect x="454.27" y="523.53" width="1.0" height="1.0" fill="#3db54a" opacity="0.8"/>
<rect x="448.98" y="520.83" width="1.0" height="1.0" fill="#3db54a" opacity="0.8"/>
<rect x="452.20" y="519.84" width="1.0" height="1.0" fill="#3db54a" opacity="0.8"/>
<rect x="451.42" y="528.35" width="1.0" height="1.0" fill="#3db54a" opacity="0.8"/>
<rect x="452.14" y="525.20" width="1.0" height="1.0" fill="#3db54a" opacity="0.8"/>
<rect x="449.57" y="526.77" width="1.0" height="1.0" fill="#3db54a" opacity="0.8"/>
<rect x="450.90" y="527.11" width="1.0" height="1.0" fill="#3db54a" opacity="0.8"/>
<rect x="452.91" y="523.98" width="1.0" height="1.0" fill="#3db54a" opacity="0.8"/>
<rect x="450.81" y="525.74" width="1.0" height="1.0" fill="#3db54a" opacity="0.8"/>
<rect x="453.44" y="523.72" width="1.0" height="1.0" fill="#3db54a" opacity="0.8"/>
<rect x="449.40" y="524.09" width="1.0" height="1.0" fill="#3db54a" opacity="0.8"/>
<rect x="455.09" y="523.96" width="1.0" height="1.0" fill="#3db54a" opacity="0.8"/>
<rect x="450.06" y="520.72" width="1.0" height="1.0" fill="#3db54a" opacity="0.8"/>
<rect x="456.59" y="524.34" width="1.0" height="1.0" fill="#3db54a" opacity="0.8"/>
<rect x="447.28" y="528.56" width="1.0" height="1.0" fill="#3db54a" opacity="0.8"/>
<rect x="455.43" y="525.12" width="1.0" height="1.0" fill="#3db54a" opacity="0.8"/>
<rect x="453.18" y="523.19" width="1.0" height="1.0" fill="#3db54a" opacity="0.8"/>
<rect x="452.17" y="520.15" width="1.0" height="1.0" fill="#3db54a" opacity="0.8"/>
<rect x="452.26" y="522.96" width="1.0" height="1.0" fill="#3db54a" opacity="0.8"/>
<rect x="452.53" y="523.84" width="1.0" height="1.0" fill="#3db54a" opacity="0.8"/>
<rect x="456.69" y="527.42" width="1.0" height="1.0" fill="#3db54a" opacity="0.8"/>
<rect x="449.55" y="521.59" width="1.0" height="1.0" fill="#3db54a" opacity="0.8"/>
<rect x="449.46" y="524.05" width="1.0" height="1.0" fill="#3db54a" opacity="0.8"/>
<rect x="449.89" y="521.97" width="1.0" height="1.0" fill="#3db54a" opacity="0.8"/>
<rect x="451.90" y="522.68" width="1.0" height="1.0" fill="#3db54a" opacity="0.8"/>
<rect x="450.49" y="524.89" width="1.0" height="1.0" fill="#3db54a" opacity="0.8"/>
<rect x="447.44" y="522.35" width="1.0" height="1.0" fill="#3db54a" opacity="0.8"/>
<rect x="452.67" y="524.53" width="1.0" height="1.0" fill="#3db54a" opacity="0.8"/>
<rect x="451.98" y="525.56" width="1.0" height="1.0" fill="#3db54a" opacity="0.8"/>
<rect x="451.74" y="519.56" width="1.0" height="1.0" fill="#3db54a" opacity="0.8"/>
<rect x="450.69" y="525.84" width="1.0" height="1.0" fill="#3db54a" opacity="0.8"/>
<rect x="453.23" y="523.94" width="1.0" height="1.0" fill="#3db54a" opacity="0.8"/>
<rect x="450.69" y="520.21" width="1.0" height="1.0" fill="#3db54a" opacity="0.8"/>
<rect x="455.14" y="525.40" width="1.0" height="1.0" fill="#3db54a" opacity="0.8"/>
<rect x="455.43" y="528.21" width="1.0" height="1.0" fill="#3db54a" opacity="0.8"/>
<rect x="454.89" y="528.83" width="1.0" height="1.0" fill="#3db54a" opacity="0.8"/>
<rect x="452.62" y="524.93" width="1.0" height="1.0" fill="#3db54a" opacity="0.8"/>
<rect x="451.17" y="522.89" width="1.0" height="1.0" fill="#3db54a" opacity="0.8"/>
<rect x="449.98" y="526.56" width="1.0" height="1.0" fill="#3db54a" opacity="0.8"/>
<rect x="449.65" y="520.59" width="1.0" height="1.0" fill="#3db54a" opacity="0.8"/>
<rect x="450.70" y="523.63" width="1.0" height="1.0" fill="#3db54a" opacity="0.8"/>
<rect x="451.41" y="521.81" width="1.0" height="1.0" fill="#3db54a" opacity="0.8"/>
<rect x="449.83" y="526.88" width="1.0" height="1.0" fill="#3db54a" opacity="0.8"/>
<rect x="450.61" y="524.07" width="1.0" height="1.0" fill="#3db54a" opacity="0.8"/>
<rect x="450.36" y="523.35" width="1.0" height="1.0" fill="#3db54a" opacity="0.8"/>
<rect x="452.94" y="521.80" width="1.0" height="1.0" fill="#3db54a" opacity="0.8"/>
<rect x="452.92" y="520.86" width="1.0" height="1.0" fill="#3db54a" opacity="0.8"/>
<rect x="451.20" y="525.90" width="1.0" height="1.0" fill="#3db54a" opacity="0.8"/>
<rect x="450.52" y="526.39" width="1.0" height="1.0" fill="#3db54a" opacity="0.8"/>
<rect x="449.26" y="523.52" width="1.0" height="1.0" fill="#3db54a" opacity="0.8"/>
<rect x="452.06" y="530.13" width="1.0" height="1.0" fill="#3db54a" opacity="0.8"/>
<rect x="451.63" y="526.50" width="1.0" height="1.0" fill="#3db54a" opacity="0.8"/>
<rect x="450.07" y="525.31" width="1.0" height="1.0" fill="#3db54a" opacity="0.8"/>
<rect x="454.22" y="524.30" width="1.0" height="1.0" fill="#3db54a" opacity="0.8"/>
<rect x="447.93" y="523.73" width="1.0" height="1.0" fill="#3db54a" opacity="0.8"/>
<rect x="450.13" y="520.24" width="1.0" height="1.0" fill="#3db54a" opacity="0.8"/>
<rect x="450.89" y="524.80" width="1.0" height="1.0" fill="#3db54a" opacity="0.8"/>
<rect x="451.44" y="526.80" width="1.0" height="1.0" fill="#3db54a" opacity="0.8"/>
<rect x="450.53" y="525.08" width="1.0" height="1.0" fill="#3db54a" opacity="0.8"/>
<rect x="459.20" y="523.97" width="1.0" height="1.0" fill="#3db54a" opacity="0.8"/>
<rect x="453.58" y="523.99" width="1.0" height="1.0" fill="#3db54a" opacity="0.8"/>
<rect x="452.54" y="522.88" width="1.0" height="1.0" fill="#3db54a" opacity="0.8"/>
<rect x="456.62" y="538.52" width="1.0" height="1.0" fill="#3db54a" opacity="0.8"/>
<rect x="449.81" y="528.52" width="1.0" height="1.0" fill="#3db54a" opacity="0.8"/>
<rect x="454.77" y="528.32" width="1.0" height="1.0" fill="#3db54a" opacity="0.8"/>
<rect x="455.12" y="519.27" width="1.0" height="1.0" fill="#3db54a" opacity="0.8"/>
<rect x="450.11" y="521.79" width="1.0" height="1.0" fill="#3db54a" opacity="0.8"/>
<rect x="450.37" y="520.48" width="1.0" height="1.0" fill="#3db54a" opacity="0.8"/>
<rect x="453.64" y="518.76" width="1.0" height="1.0" fill="#3db54a" opacity="0.8"/>
<rect x="454.68" y="529.22" width="1.0" height="1.0" fill="#3db54a" opacity="0.8"/>
<rect x="456.78" y="524.27" width="1.0" height="1.0" fill="#3db54a" opacity="0.8"/>
<rect x="455.51" y="524.01" width="1.0" height="1.0" fill="#3db54a" opacity="0.8"/>
<rect x="455.07" y="530.01" width="1.0" height="1.0" fill="#3db54a" opacity="0.8"/>
<rect x="456.41" y="529.02" width="1.0" height="1.0" fill="#3db54a" opacity="0.8"/>
<rect x="451.51" y="522.09" width="1.0" height="1.0" fill="#3db54a" opacity="0.8"/>
<rect x="447.01" y="522.55" width="1.0" height="1.0" fill="#3db54a" opacity="0.8"/>
<rect x="452.10" y="520.48" width="1.0" height="1.0" fill="#3db54a" opacity="0.8"/>
<rect x="451.73" y="529.07" width="1.0" height="1.0" fill="#3db54a" opacity="0.8"/>
<rect x="448.43" y="528.22" width="1.0" height="1.0" fill="#3db54a" opacity="0.8"/>
<rect x="452.46" y="525.17" width="1.0" height="1.0" fill="#3db54a" opacity="0.8"/>
<rect x="454.00" y="517.13" width="1.0" height="1.0" fill="#3db54a" opacity="0.8"/>
<rect x="451.04" y="526.56" width="1.0" height="1.0" fill="#3db54a" opacity="0.8"/>
<rect x="453.28" y="522.26" width="1.0" height="1.0" fill="#3db54a" opacity="0.8"/>
<rect x="448.84" y="534.52" width="1.0" height="1.0" fill="#3db54a" opacity="0.8"/>
<rect x="452.62" y="529.35" width="1.0" height="1.0" fill="#3db54a" opacity="0.8"/>
<rect x="451.68" y="536.14" width="1.0" height="1.0" fill="#3db54a" opacity="0.8"/>
<rect x="455.98" y="544.85" width="1.0" height="1.0" fill="#3db54a" opacity="0.8"/>
<rect x="454.86" y="534.69" width="1.0" height="1.0" fill="#3db54a" opacity="0.8"/>
<rect x="451.77" y="532.07" width="1.0" height="1.0" fill="#3db54a" opacity="0.8"/>
<rect x="452.99" y="536.04" width="1.0" height="1.0" fill="#3db54a" opacity="0.8"/>
<rect x="450.03" y="530.76" width="1.0" height="1.0" fill="#3db54a" opacity="0.8"/>
<rect x="454.49" y="533.30" width="1.0" height="1.0" fill="#3db54a" opacity="0.8"/>
<rect x="456.19" y="537.43" width="1.0" height="1.0" fill="#3db54a" opacity="0.8"/>
<rect x="453.75" y="530.11" width="1.0" height="1.0" fill="#3db54a" opacity="0.8"/>
<rect x="454.60" y="536.71" width="1.0" height="1.0" fill="#3db54a" opacity="0.8"/>
<rect x="453.45" y="532.62" width="1.0" height="1.0" fill="#3db54a" opacity="0.8"/>
<rect x="448.50" y="534.00" width="1.0" height="1.0" fill="#3db54a" opacity="0.8"/>
<rect x="449.92" y="533.65" width="1.0" height="1.0" fill="#3db54a" opacity="0.8"/>
<rect x="453.41" y="532.51" width="1.0" height="1.0" fill="#3db54a" opacity="0.8"/>
<rect x="455.51" y="529.25" width="1.0" height="1.0" fill="#3db54a" opacity="0.8"/>
<rect x="451.38" y="533.47" width="1.0" height="1.0" fill="#3db54a" opacity="0.8"/>
<rect x="453.06" y="535.07" width="1.0" height="1.0" fill="#3db54a" opacity="0.8"/>
<rect x="453.36" y="529.55" width="1.0" height="1.0" fill="#3db54a" opacity="0.8"/>
<rect x="454.07" y="531.15" width="1.0" height="1.0" fill="#3db54a" opacity="0.8"/>
<rect x="452.72" y="536.63" width="1.0" height="1.0" fill="#3db54a" opacity="0.8"/>
<rect x="452.86" y="532.37" width="1.0" height="1.0" fill="#3db54a" opacity="0.8"/>
<rect x="452.82" y="530.04" width="1.0" height="1.0" fill="#3db54a" opacity="0.8"/>
<rect x="451.36" y="533.36" width="1.0" height="1.0" fill="#3db54a" opacity="0.8"/>
<rect x="451.35" y="536.52" width="1.0" height="1.0" fill="#3db54a" opacity="0.8"/>
<rect x="449.51" y="536.03" width="1.0" height="1.0" fill="#3db54a" opacity="0.8"/>
<rect x="453.33" y="541.27" width="1.0" height="1.0" fill="#3db54a" opacity="0.8"/>
<rect x="453.34" y="528.77" width="1.0" height="1.0" fill="#3db54a" opacity="0.8"/>
<rect x="454.04" y="533.14" width="1.0" height="1.0" fill="#3db54a" opacity="0.8"/>
<rect x="451.95" y="527.43" width="1.0" height="1.0" fill="#3db54a" opacity="0.8"/>
<rect x="453.77" y="524.74" width="1.0" height="1.0" fill="#3db54a" opacity="0.8"/>
<rect x="451.88" y="533.51" width="1.0" height="1.0" fill="#3db54a" opacity="0.8"/>
<rect x="454.39" y="533.23" width="1.0" height="1.0" fill="#3db54a" opacity="0.8"/>
<rect x="452.32" y="526.35" width="1.0" height="1.0" fill="#3db54a" opacity="0.8"/>
<rect x="453.87" y="533.31" width="1.0" height="1.0" fill="#3db54a" opacity="0.8"/>
<rect x="453.50" y="531.86" width="1.0" height="1.0" fill="#3db54a" opacity="0.8"/>
<rect x="454.32" y="530.26" width="1.0" height="1.0" fill="#3db54a" opacity="0.8"/>
<rect x="451.13" y="524.54" width="1.0" height="1.0" fill="#3db54a" opacity="0.8"/>
<rect x="452.46" y="531.40" width="1.0" height="1.0" fill="#3db54a" opacity="0.8"/>
<rect x="450.93" y="531.25" width="1.0" height="1.0" fill="#3db54a" opacity="0.8"/>
<rect x="451.61" y="527.11" width="1.0" height="1.0" fill="#3db54a" opacity="0.8"/>
<rect x="454.17" y="522.47" width="1.0" height="1.0" fill="#3db54a" opacity="0.8"/>
<rect x="454.94" y="534.93" width="1.0" height="1.0" fill="#3db54a" opacity="0.8"/>
<rect x="450.73" y="537.19" width="1.0" height="1.0" fill="#3db54a" opacity="0.8"/>
<rect x="455.54" y="536.96" width="1.0" height="1.0" fill="#3db54a" opacity="0.8"/>
<rect x="493.26" y="554.58" width="1.0" height="1.0" fill="#3db54a" opacity="0.8"/>
<rect x="486.15" y="554.58" width="1.0" height="1.0" fill="#3db54a" opacity="0.8"/>
<rect x="494.57" y="554.69" width="1.0" height="1.0" fill="#3db54a" opacity="0.8"/>
<rect x="484.70" y="556.47" width="1.0" height="1.0" fill="#3db54a" opacity="0.8"/>
<rect x="479.04" y="555.91" width="1.0" height="1.0" fill="#3db54a" opacity="0.8"/>
<rect x="492.22" y="553.94" width="1.0" height="1.0" fill="#3db54a" opacity="0.8"/>
<rect x="482.96" y="558.64" width="1.0" height="1.0" fill="#3db54a" opacity="0.8"/>
<rect x="491.40" y="554.31" width="1.0" height="1.0" fill="#3db54a" opacity="0.8"/>
<rect x="476.87" y="555.20" width="1.0" height="1.0" fill="#3db54a" opacity="0.8"/>
<rect x="481.32" y="553.32" width="1.0" height="1.0" fill="#3db54a" opacity="0.8"/>
<rect x="489.20" y="555.92" width="1.0" height="1.0" fill="#3db54a" opacity="0.8"/>
<rect x="476.06" y="555.37" width="1.0" height="1.0" fill="#3db54a" opacity="0.8"/>
<rect x="497.98" y="554.16" width="1.0" height="1.0" fill="#3db54a" opacity="0.8"/>
<rect x="483.82" y="553.46" width="1.0" height="1.0" fill="#3db54a" opacity="0.8"/>
<rect x="483.86" y="552.35" width="1.0" height="1.0" fill="#3db54a" opacity="0.8"/>
<rect x="478.29" y="555.57" width="1.0" height="1.0" fill="#3db54a" opacity="0.8"/>
<rect x="493.35" y="553.11" width="1.0" height="1.0" fill="#3db54a" opacity="0.8"/>
<rect x="488.79" y="557.17" width="1.0" height="1.0" fill="#3db54a" opacity="0.8"/>
<rect x="486.40" y="553.86" width="1.0" height="1.0" fill="#3db54a" opacity="0.8"/>
<rect x="484.17" y="554.88" width="1.0" height="1.0" fill="#3db54a" opacity="0.8"/>
<rect x="490.32" y="555.51" width="1.0" height="1.0" fill="#3db54a" opacity="0.8"/>
<rect x="488.60" y="555.33" width="1.0" height="1.0" fill="#3db54a" opacity="0.8"/>
<rect x="480.85" y="557.28" width="1.0" height="1.0" fill="#3db54a" opacity="0.8"/>
<rect x="482.81" y="556.33" width="1.0" height="1.0" fill="#3db54a" opacity="0.8"/>
<rect x="490.69" y="554.85" width="1.0" height="1.0" fill="#3db54a" opacity="0.8"/>
<rect x="477.22" y="552.67" width="1.0" height="1.0" fill="#3db54a" opacity="0.8"/>
<rect x="497.21" y="555.69" width="1.0" height="1.0" fill="#3db54a" opacity="0.8"/>
<rect x="488.58" y="555.17" width="1.0" height="1.0" fill="#3db54a" opacity="0.8"/>
<rect x="489.56" y="554.81" width="1.0" height="1.0" fill="#3db54a" opacity="0.8"/>
<rect x="488.11" y="555.01" width="1.0" height="1.0" fill="#3db54a" opacity="0.8"/>
<rect x="483.05" y="555.53" width="1.0" height="1.0" fill="#3db54a" opacity="0.8"/>
<rect x="482.32" y="556.02" width="1.0" height="1.0" fill="#3db54a" opacity="0.8"/>
<rect x="483.95" y="551.00" width="1.0" height="1.0" fill="#3db54a" opacity="0.8"/>
<rect x="489.51" y="552.09" width="1.0" height="1.0" fill="#3db54a" opacity="0.8"/>
<rect x="479.08" y="555.43" width="1.0" height="1.0" fill="#3db54a" opacity="0.8"/>
<rect x="490.51" y="553.03" width="1.0" height="1.0" fill="#3db54a" opacity="0.8"/>
<rect x="488.15" y="555.71" width="1.0" height="1.0" fill="#3db54a" opacity="0.8"/>
<rect x="479.17" y="554.66" width="1.0" height="1.0" fill="#3db54a" opacity="0.8"/>
<rect x="478.18" y="554.64" width="1.0" height="1.0" fill="#3db54a" opacity="0.8"/>
<rect x="483.32" y="556.11" width="1.0" height="1.0" fill="#3db54a" opacity="0.8"/>
<rect x="482.45" y="557.48" width="1.0" height="1.0" fill="#3db54a" opacity="0.8"/>
<rect x="479.78" y="554.58" width="1.0" height="1.0" fill="#3db54a" opacity="0.8"/>
<rect x="482.31" y="556.37" width="1.0" height="1.0" fill="#3db54a" opacity="0.8"/>
<rect x="489.80" y="554.21" width="1.0" height="1.0" fill="#3db54a" opacity="0.8"/>
<rect x="487.09" y="557.50" width="1.0" height="1.0" fill="#3db54a" opacity="0.8"/>
<rect x="490.49" y="554.25" width="1.0" height="1.0" fill="#3db54a" opacity="0.8"/>
<rect x="480.94" y="556.05" width="1.0" height="1.0" fill="#3db54a" opacity="0.8"/>
<rect x="489.71" y="553.24" width="1.0" height="1.0" fill="#3db54a" opacity="0.8"/>
<rect x="483.93" y="556.87" width="1.0" height="1.0" fill="#3db54a" opacity="0.8"/>
<rect x="491.42" y="555.80" width="1.0" height="1.0" fill="#3db54a" opacity="0.8"/>
<rect x="489.56" y="554.95" width="1.0" height="1.0" fill="#3db54a" opacity="0.8"/>
<rect x="485.23" y="555.65" width="1.0" height="1.0" fill="#3db54a" opacity="0.8"/>
<rect x="492.77" y="555.57" width="1.0" height="1.0" fill="#3db54a" opacity="0.8"/>
<rect x="486.05" y="555.99" width="1.0" height="1.0" fill="#3db54a" opacity="0.8"/>
<rect x="495.16" y="554.91" width="1.0" height="1.0" fill="#3db54a" opacity="0.8"/>
<rect x="480.81" y="555.16" width="1.0" height="1.0" fill="#3db54a" opacity="0.8"/>
<rect x="477.95" y="555.35" width="1.0" height="1.0" fill="#3db54a" opacity="0.8"/>
<rect x="480.26" y="553.13" width="1.0" height="1.0" fill="#3db54a" opacity="0.8"/>
<rect x="492.59" y="551.35" width="1.0" height="1.0" fill="#3db54a" opacity="0.8"/>
<rect x="484.44" y="556.33" width="1.0" height="1.0" fill="#3db54a" opacity="0.8"/>
<rect x="476.36" y="554.59" width="1.0" height="1.0" fill="#3db54a" opacity="0.8"/>
<rect x="482.52" y="552.91" width="1.0" height="1.0" fill="#3db54a" opacity="0.8"/>
<rect x="495.68" y="557.18" width="1.0" height="1.0" fill="#3db54a" opacity="0.8"/>
<rect x="485.49" y="552.29" width="1.0" height="1.0" fill="#3db54a" opacity="0.8"/>
<rect x="479.28" y="556.83" width="1.0" height="1.0" fill="#3db54a" opacity="0.8"/>
<rect x="490.11" y="554.37" width="1.0" height="1.0" fill="#3db54a" opacity="0.8"/>
<rect x="477.70" y="554.19" width="1.0" height="1.0" fill="#3db54a" opacity="0.8"/>
<rect x="484.50" y="554.91" width="1.0" height="1.0" fill="#3db54a" opacity="0.8"/>
<rect x="488.00" y="552.21" width="1.0" height="1.0" fill="#3db54a" opacity="0.8"/>
<rect x="490.26" y="556.41" width="1.0" height="1.0" fill="#3db54a" opacity="0.8"/>
<rect x="492.76" y="553.76" width="1.0" height="1.0" fill="#3db54a" opacity="0.8"/>
<rect x="488.32" y="556.00" width="1.0" height="1.0" fill="#3db54a" opacity="0.8"/>
<rect x="481.99" y="554.90" width="1.0" height="1.0" fill="#3db54a" opacity="0.8"/>
<rect x="492.88" y="554.22" width="1.0" height="1.0" fill="#3db54a" opacity="0.8"/>
<rect x="486.86" y="554.49" width="1.0" height="1.0" fill="#3db54a" opacity="0.8"/>
<rect x="487.54" y="555.43" width="1.0" height="1.0" fill="#3db54a" opacity="0.8"/>
<rect x="486.31" y="557.90" width="1.0" height="1.0" fill="#3db54a" opacity="0.8"/>
<rect x="485.77" y="553.55" width="1.0" height="1.0" fill="#3db54a" opacity="0.8"/>
<rect x="487.02" y="552.65" width="1.0" height="1.0" fill="#3db54a" opacity="0.8"/>
<rect x="493.31" y="555.47" width="1.0" height="1.0" fill="#3db54a" opacity="0.8"/>
<rect x="480.06" y="554.96" width="1.0" height="1.0" fill="#3db54a" opacity="0.8"/>
<rect x="479.67" y="553.71" width="1.0" height="1.0" fill="#3db54a" opacity="0.8"/>
<rect x="485.37" y="553.89" width="1.0" height="1.0" fill="#3db54a" opacity="0.8"/>
<rect x="484.62" y="556.17" width="1.0" height="1.0" fill="#3db54a" opacity="0.8"/>
<rect x="493.21" y="555.23" width="1.0" height="1.0" fill="#3db54a" opacity="0.8"/>
<rect x="486.18" y="554.75" width="1.0" height="1.0" fill="#3db54a" opacity="0.8"/>
<rect x="483.77" y="555.53" width="1.0" height="1.0" fill="#3db54a" opacity="0.8"/>
<rect x="479.54" y="555.05" width="1.0" height="1.0" fill="#3db54a" opacity="0.8"/>
<rect x="487.43" y="556.49" width="1.0" height="1.0" fill="#3db54a" opacity="0.8"/>
<rect x="477.67" y="555.86" width="1.0" height="1.0" fill="#3db54a" opacity="0.8"/>
<rect x="488.56" y="554.00" width="1.0" height="1.0" fill="#3db54a" opacity="0.8"/>
<rect x="487.36" y="556.41" width="1.0" height="1.0" fill="#3db54a" opacity="0.8"/>
<rect x="487.54" y="555.32" width="1.0" height="1.0" fill="#3db54a" opacity="0.8"/>
<rect x="489.57" y="554.30" width="1.0" height="1.0" fill="#3db54a" opacity="0.8"/>
<rect x="481.48" y="554.72" width="1.0" height="1.0" fill="#3db54a" opacity="0.8"/>
<rect x="486.72" y="553.38" width="1.0" height="1.0" fill="#3db54a" opacity="0.8"/>
<rect x="494.35" y="557.31" width="1.0" height="1.0" fill="#3db54a" opacity="0.8"/>
<rect x="483.29" y="555.90" width="1.0" height="1.0" fill="#3db54a" opacity="0.8"/>
<rect x="483.44" y="555.50" width="1.0" height="1.0" fill="#3db54a" opacity="0.8"/>
<rect x="493.38" y="553.99" width="1.0" height="1.0" fill="#3db54a" opacity="0.8"/>
<rect x="485.50" y="554.13" width="1.0" height="1.0" fill="#3db54a" opacity="0.8"/>
<rect x="486.79" y="555.77" width="1.0" height="1.0" fill="#3db54a" opacity="0.8"/>
<rect x="486.01" y="554.16" width="1.0" height="1.0" fill="#3db54a" opacity="0.8"/>
<rect x="491.24" y="556.52" width="1.0" height="1.0" fill="#3db54a" opacity="0.8"/>
<rect x="486.54" y="554.50" width="1.0" height="1.0" fill="#3db54a" opacity="0.8"/>
<rect x="487.81" y="555.50" width="1.0" height="1.0" fill="#3db54a" opacity="0.8"/>
<rect x="484.23" y="557.37" width="1.0" height="1.0" fill="#3db54a" opacity="0.8"/>
<rect x="481.31" y="555.98" width="1.0" height="1.0" fill="#3db54a" opacity="0.8"/>
<rect x="482.55" y="554.41" width="1.0" height="1.0" fill="#3db54a" opacity="0.8"/>
<rect x="484.19" y="555.76" width="1.0" height="1.0" fill="#3db54a" opacity="0.8"/>
<rect x="482.24" y="554.87" width="1.0" height="1.0" fill="#3db54a" opacity="0.8"/>
<rect x="479.24" y="552.63" width="1.0" height="1.0" fill="#3db54a" opacity="0.8"/>
<rect x="479.73" y="555.97" width="1.0" height="1.0" fill="#3db54a" opacity="0.8"/>
<rect x="485.64" y="555.12" width="1.0" height="1.0" fill="#3db54a" opacity="0.8"/>
<rect x="487.73" y="558.15" width="1.0" height="1.0" fill="#3db54a" opacity="0.8"/>
<rect x="485.66" y="556.94" width="1.0" height="1.0" fill="#3db54a" opacity="0.8"/>
<rect x="492.07" y="558.13" width="1.0" height="1.0" fill="#3db54a" opacity="0.8"/>
<rect x="485.33" y="554.13" width="1.0" height="1.0" fill="#3db54a" opacity="0.8"/>
<rect x="485.33" y="554.80" width="1.0" height="1.0" fill="#3db54a" opacity="0.8"/>
<rect x="485.97" y="554.41" width="1.0" height="1.0" fill="#3db54a" opacity="0.8"/>
<rect x="493.71" y="554.89" width="1.0" height="1.0" fill="#3db54a" opacity="0.8"/>
<rect x="494.77" y="554.92" width="1.0" height="1.0" fill="#3db54a" opacity="0.8"/>
<rect x="493.12" y="558.61" width="1.0" height="1.0" fill="#3db54a" opacity="0.8"/>
<rect x="497.78" y="553.60" width="1.0" height="1.0" fill="#3db54a" opacity="0.8"/>
<rect x="491.01" y="550.34" width="1.0" height="1.0" fill="#3db54a" opacity="0.8"/>
<rect x="479.70" y="557.80" width="1.0" height="1.0" fill="#3db54a" opacity="0.8"/>
<rect x="465.52" y="551.98" width="1.0" height="1.0" fill="#3db54a" opacity="0.8"/>
<rect x="489.97" y="549.26" width="1.0" height="1.0" fill="#3db54a" opacity="0.8"/>
<rect x="486.77" y="553.86" width="1.0" height="1.0" fill="#3db54a" opacity="0.8"/>
<rect x="486.25" y="554.30" width="1.0" height="1.0" fill="#3db54a" opacity="0.8"/>
<rect x="488.23" y="556.61" width="1.0" height="1.0" fill="#3db54a" opacity="0.8"/>
<rect x="480.16" y="556.04" width="1.0" height="1.0" fill="#3db54a" opacity="0.8"/>
<rect x="477.11" y="551.24" width="1.0" height="1.0" fill="#3db54a" opacity="0.8"/>
<rect x="479.90" y="555.72" width="1.0" height="1.0" fill="#3db54a" opacity="0.8"/>
<rect x="485.65" y="556.61" width="1.0" height="1.0" fill="#3db54a" opacity="0.8"/>
<rect x="497.49" y="553.96" width="1.0" height="1.0" fill="#3db54a" opacity="0.8"/>
<rect x="493.80" y="558.86" width="1.0" height="1.0" fill="#3db54a" opacity="0.8"/>
<rect x="479.89" y="561.16" width="1.0" height="1.0" fill="#3db54a" opacity="0.8"/>
<rect x="494.88" y="556.67" width="1.0" height="1.0" fill="#3db54a" opacity="0.8"/>
<rect x="490.35" y="551.75" width="1.0" height="1.0" fill="#3db54a" opacity="0.8"/>
<rect x="474.29" y="529.61" width="0.9" height="0.9" fill="#a8c8a8" opacity="0.7"/>
<rect x="469.74" y="568.36" width="0.9" height="0.9" fill="#a8c8a8" opacity="0.7"/>
<rect x="460.67" y="564.11" width="0.9" height="0.9" fill="#a8c8a8" opacity="0.7"/>
<rect x="492.12" y="530.83" width="0.9" height="0.9" fill="#a8c8a8" opacity="0.7"/>
<rect x="480.47" y="553.42" width="0.9" height="0.9" fill="#a8c8a8" opacity="0.7"/>
<rect x="491.90" y="545.51" width="0.9" height="0.9" fill="#a8c8a8" opacity="0.7"/>
<rect x="478.22" y="560.80" width="0.9" height="0.9" fill="#a8c8a8" opacity="0.7"/>
<rect x="507.53" y="545.81" width="0.9" height="0.9" fill="#a8c8a8" opacity="0.7"/>
<rect x="476.87" y="560.12" width="0.9" height="0.9" fill="#a8c8a8" opacity="0.7"/>
<rect x="475.51" y="544.09" width="0.9" height="0.9" fill="#a8c8a8" opacity="0.7"/>
<rect x="474.18" y="527.44" width="0.9" height="0.9" fill="#a8c8a8" opacity="0.7"/>
<rect x="468.93" y="534.82" width="0.9" height="0.9" fill="#a8c8a8" opacity="0.7"/>
<rect x="488.47" y="564.54" width="0.9" height="0.9" fill="#a8c8a8" opacity="0.7"/>
<rect x="497.38" y="568.51" width="0.9" height="0.9" fill="#a8c8a8" opacity="0.7"/>
<path d="M446.86,525.22 L506.94,570.88 L508.86,568.32 L447.94,523.78Z" fill="#e8a8b8" opacity="0.5"/>
<line x1="447.40" y1="524.50" x2="507.90" y2="569.60" stroke="#983848" stroke-width="0.9" />
<line x1="443.40" y1="507.60" x2="443.40" y2="574.60" stroke="#231f20" stroke-width="1.15" />
<line x1="442.90" y1="574.10" x2="513.00" y2="574.10" stroke="#231f20" stroke-width="1.15" />
<line x1="440.80" y1="569.65" x2="443.40" y2="569.65" stroke="#231f20" stroke-width="0.8" />
<text x="437.80" y="571.93" font-size="6.6" text-anchor="end" fill="#1a1a1a" >6</text>
<line x1="440.80" y1="557.70" x2="443.40" y2="557.70" stroke="#231f20" stroke-width="0.8" />
<text x="437.80" y="559.98" font-size="6.6" text-anchor="end" fill="#1a1a1a" >7</text>
<line x1="440.80" y1="545.75" x2="443.40" y2="545.75" stroke="#231f20" stroke-width="0.8" />
<text x="437.80" y="548.03" font-size="6.6" text-anchor="end" fill="#1a1a1a" >8</text>
<line x1="440.80" y1="533.80" x2="443.40" y2="533.80" stroke="#231f20" stroke-width="0.8" />
<text x="437.80" y="536.08" font-size="6.6" text-anchor="end" fill="#1a1a1a" >9</text>
<line x1="440.80" y1="521.85" x2="443.40" y2="521.85" stroke="#231f20" stroke-width="0.8" />
<text x="437.80" y="524.13" font-size="6.6" text-anchor="end" fill="#1a1a1a" >10</text>
<line x1="440.80" y1="509.90" x2="443.40" y2="509.90" stroke="#231f20" stroke-width="0.8" />
<text x="437.80" y="512.18" font-size="6.6" text-anchor="end" fill="#1a1a1a" >11</text>
<line x1="454.70" y1="574.10" x2="454.70" y2="576.70" stroke="#231f20" stroke-width="0.8" />
<text x="454.70" y="586.18" font-size="6.6" text-anchor="middle" fill="#1a1a1a" >7</text>
<line x1="466.85" y1="574.10" x2="466.85" y2="576.70" stroke="#231f20" stroke-width="0.8" />
<text x="466.85" y="586.18" font-size="6.6" text-anchor="middle" fill="#1a1a1a" >8</text>
<line x1="479.00" y1="574.10" x2="479.00" y2="576.70" stroke="#231f20" stroke-width="0.8" />
<text x="479.00" y="586.18" font-size="6.6" text-anchor="middle" fill="#1a1a1a" >9</text>
<line x1="491.15" y1="574.10" x2="491.15" y2="576.70" stroke="#231f20" stroke-width="0.8" />
<text x="491.15" y="586.18" font-size="6.6" text-anchor="middle" fill="#1a1a1a" >10</text>
<line x1="503.30" y1="574.10" x2="503.30" y2="576.70" stroke="#231f20" stroke-width="0.8" />
<text x="503.30" y="586.18" font-size="6.6" text-anchor="middle" fill="#1a1a1a" >11</text>
<text x="478.70" y="599.80" font-size="8.2" text-anchor="middle" fill="#1a1a1a" font-style="italic" textLength="29.2" lengthAdjust="spacingAndGlyphs">SERPINE1</text>
<text transform="translate(424.40,540.20) rotate(-90)" font-size="8.2" text-anchor="middle" font-style="italic" fill="#1a1a1a" textLength="21.3" lengthAdjust="spacingAndGlyphs">NR1H4</text>
<text x="447.40" y="513.71" font-size="6.4" fill="#1a1a1a"><tspan font-style="italic">r</tspan> = −0.9</text>
<text x="475.30" y="513.71" font-size="6.4" fill="#1a1a1a"><tspan font-style="italic">P</tspan> &lt; .001</text>
<rect x="0.5" y="0.5" width="519" height="608" fill="none" stroke="#4a4a4a" stroke-width="1"/>
</svg></body></html>
